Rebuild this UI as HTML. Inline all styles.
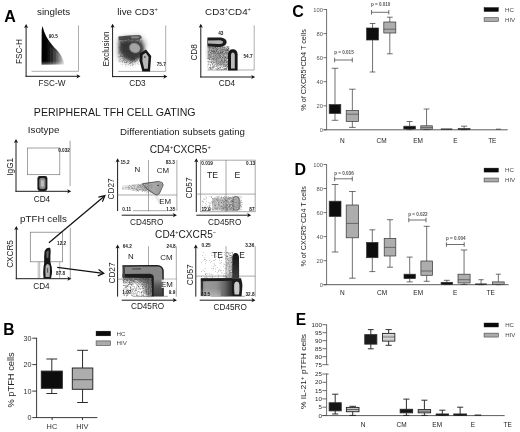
<!DOCTYPE html>
<html><head><meta charset="utf-8"><title>Figure</title>
<style>
html,body{margin:0;padding:0;background:#fff;}
body{width:520px;height:432px;overflow:hidden;font-family:"Liberation Sans",sans-serif;}
svg{display:block;font-family:"Liberation Sans",sans-serif;will-change:transform;opacity:0.999;}
</style></head><body>
<svg width="520" height="432" viewBox="0 0 520 432">
<defs>
<filter id="b05" x="-30%" y="-30%" width="160%" height="160%"><feGaussianBlur stdDeviation="0.45"/></filter>
<filter id="b1" x="-30%" y="-30%" width="160%" height="160%"><feGaussianBlur stdDeviation="0.7"/></filter>
<filter id="b2" x="-30%" y="-30%" width="160%" height="160%"><feGaussianBlur stdDeviation="1.4"/></filter>
<filter id="b3" x="-30%" y="-30%" width="160%" height="160%"><feGaussianBlur stdDeviation="2.4"/></filter>
<filter id="noise" x="0" y="0" width="100%" height="100%">
<feTurbulence type="fractalNoise" baseFrequency="1.7" numOctaves="1" seed="3" result="n"/>
<feColorMatrix in="n" type="matrix" values="0 0 0 0 0  0 0 0 0 0  0 0 0 0 0  0 0 0 -4 2.2"/>
<feComposite in2="SourceGraphic" operator="in" result="c"/><feGaussianBlur in="c" stdDeviation="0.25"/>
</filter>
<filter id="noise3" x="0" y="0" width="100%" height="100%">
<feTurbulence type="fractalNoise" baseFrequency="1.8" numOctaves="1" seed="7" result="n"/>
<feColorMatrix in="n" type="matrix" values="0 0 0 0 0  0 0 0 0 0  0 0 0 0 0  0 0 0 -5 2.25"/>
<feComposite in2="SourceGraphic" operator="in" result="c"/><feGaussianBlur in="c" stdDeviation="0.2"/>
</filter>
<filter id="noise2" x="0" y="0" width="100%" height="100%">
<feTurbulence type="fractalNoise" baseFrequency="1.9" numOctaves="1" seed="11" result="n"/>
<feColorMatrix in="n" type="matrix" values="0 0 0 0 0  0 0 0 0 0  0 0 0 0 0  0 0 0 -4 2.5"/>
<feComposite in2="SourceGraphic" operator="in" result="c"/><feGaussianBlur in="c" stdDeviation="0.25"/>
</filter>
<linearGradient id="bandg" gradientUnits="userSpaceOnUse" x1="122" y1="0" x2="160" y2="0"><stop offset="0" stop-color="#999" stop-opacity="0.2"/><stop offset="0.5" stop-color="#888" stop-opacity="0.45"/><stop offset="1" stop-color="#666" stop-opacity="0.7"/></linearGradient>
<linearGradient id="bg6" gradientUnits="userSpaceOnUse" x1="200.8" y1="0" x2="242" y2="0"><stop offset="0" stop-color="#7e7e7e"/><stop offset="0.12" stop-color="#9a9a9a"/><stop offset="0.38" stop-color="#909090"/><stop offset="0.58" stop-color="#666"/><stop offset="0.74" stop-color="#333"/><stop offset="1" stop-color="#1c1c1c"/></linearGradient>
<linearGradient id="bg6b" x1="0" y1="0" x2="0" y2="1"><stop offset="0" stop-color="#fff" stop-opacity="0"/><stop offset="1" stop-color="#fff" stop-opacity="0.3"/></linearGradient>
<linearGradient id="vg6" x1="0" y1="0" x2="0" y2="1"><stop offset="0" stop-color="#151515"/><stop offset="0.4" stop-color="#242424"/><stop offset="1" stop-color="#3c3c3c"/></linearGradient>
<linearGradient id="vg5" x1="0" y1="0" x2="0" y2="1"><stop offset="0" stop-color="#333" stop-opacity="0"/><stop offset="0.45" stop-color="#333" stop-opacity="0.6"/><stop offset="1" stop-color="#2a2a2a" stop-opacity="0.8"/></linearGradient>
<radialGradient id="mg1" gradientUnits="userSpaceOnUse" cx="131" cy="48" r="24"><stop offset="0" stop-color="#fff"/><stop offset="0.5" stop-color="#ccc"/><stop offset="1" stop-color="#1a1a1a"/></radialGradient>
<linearGradient id="mg2" x1="0.8" y1="0" x2="0.2" y2="1"><stop offset="0" stop-color="#fff"/><stop offset="0.5" stop-color="#ccc"/><stop offset="1" stop-color="#666"/></linearGradient>
<linearGradient id="mg3" x1="1" y1="0" x2="0" y2="0"><stop offset="0" stop-color="#fff"/><stop offset="0.5" stop-color="#999"/><stop offset="1" stop-color="#444"/></linearGradient>
<linearGradient id="mg4" x1="1" y1="0" x2="0" y2="0"><stop offset="0" stop-color="#ddd"/><stop offset="0.35" stop-color="#fff"/><stop offset="1" stop-color="#333"/></linearGradient>
<linearGradient id="mg5" x1="0.7" y1="0" x2="0.3" y2="1"><stop offset="0" stop-color="#fff"/><stop offset="0.6" stop-color="#ccc"/><stop offset="1" stop-color="#8a8a8a"/></linearGradient>
<linearGradient id="mg6" x1="1" y1="1" x2="0" y2="0"><stop offset="0" stop-color="#fff"/><stop offset="0.4" stop-color="#888"/><stop offset="1" stop-color="#222"/></linearGradient>
<linearGradient id="sg" gradientUnits="userSpaceOnUse" x1="41.5" y1="0" x2="65" y2="0">
<stop offset="0" stop-color="#000" stop-opacity="1"/>
<stop offset="0.4" stop-color="#0a0a0a" stop-opacity="0.97"/>
<stop offset="0.6" stop-color="#222" stop-opacity="0.85"/>
<stop offset="0.8" stop-color="#444" stop-opacity="0.6"/>
<stop offset="1" stop-color="#777" stop-opacity="0.15"/>
</linearGradient>
<linearGradient id="sgb" x1="0" y1="0" x2="0" y2="1"><stop offset="0" stop-color="#fff" stop-opacity="0"/><stop offset="1" stop-color="#fff" stop-opacity="0.45"/></linearGradient>
</defs>
<rect width="520" height="432" fill="#fff"/>

<text x="4.2" y="22.2" font-size="16" text-anchor="start" font-weight="bold" fill="#000">A</text>
<text x="53.6" y="15.3" font-size="9.8" text-anchor="middle" font-weight="normal" fill="#1a1a1a">singlets</text>
<line x1="26.1" y1="26.0" x2="26.1" y2="76.8" stroke="#1c1c1c" stroke-width="1.0"/>
<line x1="25.6" y1="76.3" x2="78.4" y2="76.3" stroke="#1c1c1c" stroke-width="1.0"/>
<path d="M26.1 23.9 L28.200000000000003 27.9 L26.1 26.9 L24.0 27.9 Z" fill="#111"/>
<path d="M80.5 76.3 L76.5 74.2 L77.5 76.3 L76.5 78.39999999999999 Z" fill="#111"/>
<line x1="78.5" y1="25.4" x2="78.5" y2="71.3" stroke="#777" stroke-width="0.6"/>
<line x1="31.5" y1="71.3" x2="78.5" y2="71.3" stroke="#777" stroke-width="0.6"/>
<text x="21.94" y="51.5" font-size="8.2" text-anchor="middle" font-weight="normal" fill="#1a1a1a" transform="rotate(-90 21.94 51.5)">FSC-H</text>
<text x="52" y="85.94" font-size="8.2" text-anchor="middle" font-weight="normal" fill="#1a1a1a">FSC-W</text>
<g filter="url(#b05)">
<path d="M42.5 26 C44 33 47.5 40 53 46 C58 51 63 56 64.5 64.5 L41.5 64.8 L41.7 30 Z" fill="url(#sg)"/>
</g>
<g opacity="0.35" stroke="#fff" stroke-width="0.3"><path d="M50.5 47V65M52 48V65M53.5 49.5V65M55 51V65M56.5 52.5V65M58 54V65M59.5 55.5V65M61 57V65M62.5 59V65"/></g>
<rect x="41" y="61" width="24" height="4.2" fill="url(#sgb)"/>
<text x="53.2" y="38.35" font-size="4.7" text-anchor="middle" font-weight="bold" fill="#1c1c1c">90.5</text>
<text x="137.5" y="15.3" font-size="9.8" text-anchor="middle" font-weight="normal" fill="#1a1a1a">live CD3<tspan dy="-4.4" font-size="5.6">+</tspan></text>
<line x1="112.6" y1="25.8" x2="112.6" y2="77.1" stroke="#1c1c1c" stroke-width="1.0"/>
<line x1="112.1" y1="76.6" x2="165.3" y2="76.6" stroke="#1c1c1c" stroke-width="1.0"/>
<path d="M112.6 23.7 L114.69999999999999 27.7 L112.6 26.7 L110.5 27.7 Z" fill="#111"/>
<path d="M167.4 76.6 L163.4 74.5 L164.4 76.6 L163.4 78.69999999999999 Z" fill="#111"/>
<line x1="165.7" y1="25.4" x2="165.7" y2="71.4" stroke="#777" stroke-width="0.6"/>
<line x1="118.2" y1="71.4" x2="165.7" y2="71.4" stroke="#777" stroke-width="0.6"/>
<text x="108.54" y="48.9" font-size="8.2" text-anchor="middle" font-weight="normal" fill="#1a1a1a" transform="rotate(-90 108.54 48.9)">Exclusion</text>
<text x="137.5" y="85.94" font-size="8.2" text-anchor="middle" font-weight="normal" fill="#1a1a1a">CD3</text>
<mask id="m1"><path d="M118.3 36 L142 36 L141 52 L140 70 L128 71 L118.3 66 Z" fill="url(#mg1)"/></mask>
<path d="M122.8 36.3h0.5v0.5h-0.5zM124.6 36.2h0.5v0.5h-0.5zM125.3 36.3h0.5v0.5h-0.5zM125.6 36.2h0.5v0.5h-0.5zM127.3 36.0h0.5v0.5h-0.5zM127.9 36.1h0.5v0.5h-0.5zM128.4 36.1h0.5v0.5h-0.5zM129.4 36.3h0.5v0.5h-0.5zM131.3 36.3h0.5v0.5h-0.5zM131.7 36.2h0.5v0.5h-0.5zM135.1 36.3h0.5v0.5h-0.5zM137.2 36.2h0.5v0.5h-0.5zM138.4 36.2h0.5v0.5h-0.5zM119.5 36.8h0.5v0.5h-0.5zM121.9 36.8h0.5v0.5h-0.5zM124.1 36.8h0.5v0.5h-0.5zM125.7 36.8h0.5v0.5h-0.5zM126.3 36.8h0.5v0.5h-0.5zM130.2 36.7h0.5v0.5h-0.5zM130.7 36.7h0.5v0.5h-0.5zM131.2 36.7h0.5v0.5h-0.5zM133.3 36.6h0.5v0.5h-0.5zM136.8 36.8h0.5v0.5h-0.5zM137.1 36.6h0.5v0.5h-0.5zM138.2 36.7h0.5v0.5h-0.5zM139.3 36.7h0.5v0.5h-0.5zM139.9 36.8h0.5v0.5h-0.5zM118.5 37.2h0.5v0.5h-0.5zM119.8 37.3h0.5v0.5h-0.5zM120.2 37.3h0.5v0.5h-0.5zM120.6 37.1h0.5v0.5h-0.5zM121.9 37.3h0.5v0.5h-0.5zM123.1 37.3h0.5v0.5h-0.5zM124.1 37.2h0.5v0.5h-0.5zM125.2 37.1h0.5v0.5h-0.5zM125.8 37.4h0.5v0.5h-0.5zM126.4 37.2h0.5v0.5h-0.5zM128.3 37.4h0.5v0.5h-0.5zM129.1 37.4h0.5v0.5h-0.5zM130.2 37.4h0.5v0.5h-0.5zM131.7 37.2h0.5v0.5h-0.5zM133.3 37.3h0.5v0.5h-0.5zM133.9 37.2h0.5v0.5h-0.5zM135.5 37.2h0.5v0.5h-0.5zM137.9 37.4h0.5v0.5h-0.5zM119.0 37.9h0.5v0.5h-0.5zM123.1 37.8h0.5v0.5h-0.5zM124.6 37.7h0.5v0.5h-0.5zM125.0 37.9h0.5v0.5h-0.5zM126.8 37.9h0.5v0.5h-0.5zM127.4 37.7h0.5v0.5h-0.5zM127.8 37.9h0.5v0.5h-0.5zM130.2 37.9h0.5v0.5h-0.5zM130.7 37.7h0.5v0.5h-0.5zM131.3 37.7h0.5v0.5h-0.5zM131.9 37.8h0.5v0.5h-0.5zM132.2 37.7h0.5v0.5h-0.5zM133.5 37.8h0.5v0.5h-0.5zM135.0 37.8h0.5v0.5h-0.5zM135.6 37.7h0.5v0.5h-0.5zM136.3 37.7h0.5v0.5h-0.5zM138.5 37.9h0.5v0.5h-0.5zM139.4 37.8h0.5v0.5h-0.5zM120.7 38.5h0.5v0.5h-0.5zM124.0 38.3h0.5v0.5h-0.5zM125.7 38.4h0.5v0.5h-0.5zM127.2 38.3h0.5v0.5h-0.5zM127.9 38.2h0.5v0.5h-0.5zM128.5 38.3h0.5v0.5h-0.5zM130.7 38.4h0.5v0.5h-0.5zM131.3 38.3h0.5v0.5h-0.5zM133.3 38.4h0.5v0.5h-0.5zM134.6 38.2h0.5v0.5h-0.5zM135.5 38.5h0.5v0.5h-0.5zM138.9 38.2h0.5v0.5h-0.5zM141.2 38.4h0.5v0.5h-0.5zM121.2 38.9h0.5v0.5h-0.5zM122.9 38.8h0.5v0.5h-0.5zM123.4 39.0h0.5v0.5h-0.5zM124.6 38.8h0.5v0.5h-0.5zM125.2 38.9h0.5v0.5h-0.5zM126.3 39.0h0.5v0.5h-0.5zM126.8 38.9h0.5v0.5h-0.5zM127.3 38.9h0.5v0.5h-0.5zM129.0 38.8h0.5v0.5h-0.5zM129.6 39.0h0.5v0.5h-0.5zM130.2 39.0h0.5v0.5h-0.5zM130.7 39.0h0.5v0.5h-0.5zM131.3 39.0h0.5v0.5h-0.5zM134.4 38.8h0.5v0.5h-0.5zM136.2 39.0h0.5v0.5h-0.5zM136.7 38.8h0.5v0.5h-0.5zM137.9 39.0h0.5v0.5h-0.5zM139.0 39.0h0.5v0.5h-0.5zM139.5 39.0h0.5v0.5h-0.5zM120.7 39.3h0.5v0.5h-0.5zM122.4 39.4h0.5v0.5h-0.5zM122.9 39.4h0.5v0.5h-0.5zM124.0 39.4h0.5v0.5h-0.5zM124.6 39.5h0.5v0.5h-0.5zM125.6 39.5h0.5v0.5h-0.5zM126.3 39.4h0.5v0.5h-0.5zM129.7 39.5h0.5v0.5h-0.5zM130.6 39.3h0.5v0.5h-0.5zM131.8 39.5h0.5v0.5h-0.5zM134.0 39.5h0.5v0.5h-0.5zM134.5 39.4h0.5v0.5h-0.5zM135.6 39.4h0.5v0.5h-0.5zM136.1 39.5h0.5v0.5h-0.5zM138.8 39.4h0.5v0.5h-0.5zM121.2 40.0h0.5v0.5h-0.5zM122.3 40.0h0.5v0.5h-0.5zM123.6 40.0h0.5v0.5h-0.5zM128.5 40.0h0.5v0.5h-0.5zM132.2 40.1h0.5v0.5h-0.5zM134.0 40.0h0.5v0.5h-0.5zM134.4 40.0h0.5v0.5h-0.5zM135.6 40.0h0.5v0.5h-0.5zM136.2 40.1h0.5v0.5h-0.5zM138.8 40.1h0.5v0.5h-0.5zM139.3 40.1h0.5v0.5h-0.5zM118.6 40.6h0.5v0.5h-0.5zM119.7 40.5h0.5v0.5h-0.5zM120.8 40.7h0.5v0.5h-0.5zM121.2 40.7h0.5v0.5h-0.5zM123.1 40.6h0.5v0.5h-0.5zM123.5 40.6h0.5v0.5h-0.5zM124.6 40.4h0.5v0.5h-0.5zM125.8 40.6h0.5v0.5h-0.5zM126.8 40.4h0.5v0.5h-0.5zM127.4 40.5h0.5v0.5h-0.5zM128.5 40.6h0.5v0.5h-0.5zM128.9 40.5h0.5v0.5h-0.5zM129.4 40.5h0.5v0.5h-0.5zM130.1 40.7h0.5v0.5h-0.5zM130.5 40.6h0.5v0.5h-0.5zM133.0 40.4h0.5v0.5h-0.5zM133.9 40.5h0.5v0.5h-0.5zM134.4 40.5h0.5v0.5h-0.5zM135.6 40.5h0.5v0.5h-0.5zM136.7 40.7h0.5v0.5h-0.5zM137.9 40.7h0.5v0.5h-0.5zM138.3 40.6h0.5v0.5h-0.5zM141.2 40.4h0.5v0.5h-0.5zM141.7 40.4h0.5v0.5h-0.5zM119.1 41.2h0.5v0.5h-0.5zM120.1 41.2h0.5v0.5h-0.5zM120.7 41.0h0.5v0.5h-0.5zM121.2 41.1h0.5v0.5h-0.5zM124.1 41.2h0.5v0.5h-0.5zM125.0 41.2h0.5v0.5h-0.5zM126.3 41.1h0.5v0.5h-0.5zM126.7 41.1h0.5v0.5h-0.5zM127.3 41.2h0.5v0.5h-0.5zM127.9 41.2h0.5v0.5h-0.5zM130.2 41.0h0.5v0.5h-0.5zM132.2 41.2h0.5v0.5h-0.5zM132.8 41.2h0.5v0.5h-0.5zM133.4 41.1h0.5v0.5h-0.5zM133.9 41.2h0.5v0.5h-0.5zM135.1 41.0h0.5v0.5h-0.5zM136.0 41.1h0.5v0.5h-0.5zM137.1 41.2h0.5v0.5h-0.5zM138.9 41.0h0.5v0.5h-0.5zM119.1 41.6h0.5v0.5h-0.5zM123.4 41.6h0.5v0.5h-0.5zM124.6 41.7h0.5v0.5h-0.5zM125.2 41.7h0.5v0.5h-0.5zM125.6 41.6h0.5v0.5h-0.5zM126.3 41.7h0.5v0.5h-0.5zM126.7 41.8h0.5v0.5h-0.5zM127.3 41.5h0.5v0.5h-0.5zM128.6 41.8h0.5v0.5h-0.5zM131.8 41.7h0.5v0.5h-0.5zM134.6 41.7h0.5v0.5h-0.5zM135.0 41.8h0.5v0.5h-0.5zM136.0 41.7h0.5v0.5h-0.5zM137.8 41.7h0.5v0.5h-0.5zM138.2 41.7h0.5v0.5h-0.5zM138.8 41.6h0.5v0.5h-0.5zM140.4 41.8h0.5v0.5h-0.5zM141.8 41.5h0.5v0.5h-0.5zM120.3 42.2h0.5v0.5h-0.5zM126.2 42.3h0.5v0.5h-0.5zM127.3 42.2h0.5v0.5h-0.5zM128.9 42.3h0.5v0.5h-0.5zM129.5 42.1h0.5v0.5h-0.5zM130.5 42.1h0.5v0.5h-0.5zM132.9 42.2h0.5v0.5h-0.5zM133.4 42.3h0.5v0.5h-0.5zM134.5 42.1h0.5v0.5h-0.5zM135.1 42.2h0.5v0.5h-0.5zM136.7 42.3h0.5v0.5h-0.5zM138.3 42.3h0.5v0.5h-0.5zM121.3 42.6h0.5v0.5h-0.5zM121.8 42.6h0.5v0.5h-0.5zM122.3 42.9h0.5v0.5h-0.5zM123.6 42.7h0.5v0.5h-0.5zM125.8 42.7h0.5v0.5h-0.5zM126.9 42.8h0.5v0.5h-0.5zM127.2 42.9h0.5v0.5h-0.5zM127.8 42.7h0.5v0.5h-0.5zM128.6 42.7h0.5v0.5h-0.5zM130.1 42.9h0.5v0.5h-0.5zM130.7 42.7h0.5v0.5h-0.5zM132.3 42.7h0.5v0.5h-0.5zM133.3 42.7h0.5v0.5h-0.5zM134.0 42.9h0.5v0.5h-0.5zM135.6 42.8h0.5v0.5h-0.5zM136.2 42.9h0.5v0.5h-0.5zM136.8 42.6h0.5v0.5h-0.5zM137.4 42.7h0.5v0.5h-0.5zM140.0 42.9h0.5v0.5h-0.5zM141.2 42.7h0.5v0.5h-0.5zM118.7 43.3h0.5v0.5h-0.5zM120.2 43.3h0.5v0.5h-0.5zM121.8 43.4h0.5v0.5h-0.5zM122.3 43.2h0.5v0.5h-0.5zM124.6 43.2h0.5v0.5h-0.5zM125.1 43.4h0.5v0.5h-0.5zM125.6 43.3h0.5v0.5h-0.5zM126.2 43.3h0.5v0.5h-0.5zM126.9 43.4h0.5v0.5h-0.5zM127.2 43.2h0.5v0.5h-0.5zM128.5 43.4h0.5v0.5h-0.5zM129.0 43.2h0.5v0.5h-0.5zM129.4 43.2h0.5v0.5h-0.5zM130.1 43.4h0.5v0.5h-0.5zM130.7 43.2h0.5v0.5h-0.5zM131.2 43.4h0.5v0.5h-0.5zM131.6 43.2h0.5v0.5h-0.5zM132.3 43.2h0.5v0.5h-0.5zM132.9 43.4h0.5v0.5h-0.5zM133.4 43.3h0.5v0.5h-0.5zM133.9 43.2h0.5v0.5h-0.5zM134.6 43.4h0.5v0.5h-0.5zM134.9 43.4h0.5v0.5h-0.5zM135.5 43.2h0.5v0.5h-0.5zM136.0 43.2h0.5v0.5h-0.5zM136.8 43.3h0.5v0.5h-0.5zM137.3 43.2h0.5v0.5h-0.5zM138.5 43.3h0.5v0.5h-0.5zM121.4 43.9h0.5v0.5h-0.5zM122.4 43.8h0.5v0.5h-0.5zM122.9 43.9h0.5v0.5h-0.5zM123.4 43.9h0.5v0.5h-0.5zM124.0 43.7h0.5v0.5h-0.5zM124.6 43.9h0.5v0.5h-0.5zM125.3 43.9h0.5v0.5h-0.5zM126.2 43.9h0.5v0.5h-0.5zM126.9 43.7h0.5v0.5h-0.5zM128.0 44.0h0.5v0.5h-0.5zM128.6 43.7h0.5v0.5h-0.5zM129.5 43.7h0.5v0.5h-0.5zM130.0 43.9h0.5v0.5h-0.5zM131.1 44.0h0.5v0.5h-0.5zM132.3 43.9h0.5v0.5h-0.5zM133.5 43.9h0.5v0.5h-0.5zM134.1 43.8h0.5v0.5h-0.5zM135.0 43.7h0.5v0.5h-0.5zM136.0 43.7h0.5v0.5h-0.5zM136.7 43.8h0.5v0.5h-0.5zM137.4 44.0h0.5v0.5h-0.5zM139.5 43.8h0.5v0.5h-0.5zM141.2 44.0h0.5v0.5h-0.5zM121.3 44.4h0.5v0.5h-0.5zM121.9 44.4h0.5v0.5h-0.5zM124.1 44.5h0.5v0.5h-0.5zM124.6 44.4h0.5v0.5h-0.5zM125.2 44.5h0.5v0.5h-0.5zM125.8 44.4h0.5v0.5h-0.5zM126.9 44.3h0.5v0.5h-0.5zM127.5 44.4h0.5v0.5h-0.5zM128.4 44.4h0.5v0.5h-0.5zM129.5 44.4h0.5v0.5h-0.5zM130.1 44.5h0.5v0.5h-0.5zM131.2 44.3h0.5v0.5h-0.5zM131.6 44.3h0.5v0.5h-0.5zM132.9 44.3h0.5v0.5h-0.5zM133.5 44.5h0.5v0.5h-0.5zM134.5 44.4h0.5v0.5h-0.5zM136.1 44.3h0.5v0.5h-0.5zM138.8 44.5h0.5v0.5h-0.5zM140.6 44.4h0.5v0.5h-0.5zM121.9 44.8h0.5v0.5h-0.5zM123.0 45.0h0.5v0.5h-0.5zM123.6 44.9h0.5v0.5h-0.5zM124.2 44.9h0.5v0.5h-0.5zM124.6 45.0h0.5v0.5h-0.5zM126.3 44.9h0.5v0.5h-0.5zM126.8 44.9h0.5v0.5h-0.5zM127.3 44.9h0.5v0.5h-0.5zM128.3 45.0h0.5v0.5h-0.5zM130.2 44.9h0.5v0.5h-0.5zM130.6 44.9h0.5v0.5h-0.5zM131.2 44.8h0.5v0.5h-0.5zM131.7 44.9h0.5v0.5h-0.5zM132.8 44.9h0.5v0.5h-0.5zM134.0 44.9h0.5v0.5h-0.5zM134.5 44.8h0.5v0.5h-0.5zM135.7 44.9h0.5v0.5h-0.5zM137.3 44.8h0.5v0.5h-0.5zM137.8 44.9h0.5v0.5h-0.5zM139.6 44.9h0.5v0.5h-0.5zM141.7 44.9h0.5v0.5h-0.5zM119.2 45.5h0.5v0.5h-0.5zM120.6 45.6h0.5v0.5h-0.5zM121.4 45.6h0.5v0.5h-0.5zM122.5 45.5h0.5v0.5h-0.5zM122.9 45.5h0.5v0.5h-0.5zM123.6 45.6h0.5v0.5h-0.5zM124.7 45.4h0.5v0.5h-0.5zM125.6 45.4h0.5v0.5h-0.5zM126.3 45.5h0.5v0.5h-0.5zM126.8 45.4h0.5v0.5h-0.5zM127.4 45.6h0.5v0.5h-0.5zM128.0 45.6h0.5v0.5h-0.5zM128.9 45.4h0.5v0.5h-0.5zM130.1 45.5h0.5v0.5h-0.5zM130.6 45.6h0.5v0.5h-0.5zM131.3 45.6h0.5v0.5h-0.5zM131.8 45.4h0.5v0.5h-0.5zM132.3 45.6h0.5v0.5h-0.5zM132.8 45.5h0.5v0.5h-0.5zM133.3 45.5h0.5v0.5h-0.5zM135.7 45.5h0.5v0.5h-0.5zM136.6 45.6h0.5v0.5h-0.5zM137.1 45.5h0.5v0.5h-0.5zM139.0 45.6h0.5v0.5h-0.5zM121.7 46.1h0.5v0.5h-0.5zM123.1 46.1h0.5v0.5h-0.5zM124.2 46.1h0.5v0.5h-0.5zM124.5 46.1h0.5v0.5h-0.5zM125.3 46.0h0.5v0.5h-0.5zM125.7 46.1h0.5v0.5h-0.5zM126.2 46.1h0.5v0.5h-0.5zM127.4 46.1h0.5v0.5h-0.5zM127.8 46.0h0.5v0.5h-0.5zM128.6 45.9h0.5v0.5h-0.5zM128.9 46.1h0.5v0.5h-0.5zM131.1 45.9h0.5v0.5h-0.5zM131.8 46.0h0.5v0.5h-0.5zM132.9 46.1h0.5v0.5h-0.5zM133.3 46.2h0.5v0.5h-0.5zM133.8 46.0h0.5v0.5h-0.5zM135.0 46.0h0.5v0.5h-0.5zM135.7 46.0h0.5v0.5h-0.5zM137.7 46.2h0.5v0.5h-0.5zM138.9 46.0h0.5v0.5h-0.5zM139.9 46.1h0.5v0.5h-0.5zM141.1 46.1h0.5v0.5h-0.5zM119.5 46.5h0.5v0.5h-0.5zM120.7 46.5h0.5v0.5h-0.5zM121.4 46.6h0.5v0.5h-0.5zM123.1 46.5h0.5v0.5h-0.5zM124.0 46.6h0.5v0.5h-0.5zM124.7 46.5h0.5v0.5h-0.5zM125.7 46.5h0.5v0.5h-0.5zM126.2 46.6h0.5v0.5h-0.5zM126.8 46.5h0.5v0.5h-0.5zM127.4 46.5h0.5v0.5h-0.5zM128.4 46.5h0.5v0.5h-0.5zM128.9 46.6h0.5v0.5h-0.5zM129.7 46.6h0.5v0.5h-0.5zM130.1 46.5h0.5v0.5h-0.5zM130.7 46.7h0.5v0.5h-0.5zM132.3 46.6h0.5v0.5h-0.5zM132.9 46.6h0.5v0.5h-0.5zM133.9 46.7h0.5v0.5h-0.5zM135.1 46.7h0.5v0.5h-0.5zM136.1 46.6h0.5v0.5h-0.5zM136.7 46.7h0.5v0.5h-0.5zM137.2 46.7h0.5v0.5h-0.5zM139.4 46.6h0.5v0.5h-0.5zM140.1 46.5h0.5v0.5h-0.5zM119.0 47.1h0.5v0.5h-0.5zM121.2 47.0h0.5v0.5h-0.5zM123.0 47.3h0.5v0.5h-0.5zM124.2 47.2h0.5v0.5h-0.5zM124.7 47.2h0.5v0.5h-0.5zM125.1 47.1h0.5v0.5h-0.5zM125.7 47.1h0.5v0.5h-0.5zM126.7 47.3h0.5v0.5h-0.5zM127.4 47.2h0.5v0.5h-0.5zM127.9 47.1h0.5v0.5h-0.5zM128.6 47.2h0.5v0.5h-0.5zM129.6 47.1h0.5v0.5h-0.5zM130.2 47.0h0.5v0.5h-0.5zM130.7 47.3h0.5v0.5h-0.5zM131.1 47.2h0.5v0.5h-0.5zM131.7 47.2h0.5v0.5h-0.5zM132.2 47.1h0.5v0.5h-0.5zM132.8 47.2h0.5v0.5h-0.5zM135.6 47.1h0.5v0.5h-0.5zM136.2 47.2h0.5v0.5h-0.5zM136.8 47.3h0.5v0.5h-0.5zM137.1 47.0h0.5v0.5h-0.5zM138.8 47.2h0.5v0.5h-0.5zM139.3 47.0h0.5v0.5h-0.5zM139.9 47.1h0.5v0.5h-0.5zM118.5 47.6h0.5v0.5h-0.5zM119.7 47.7h0.5v0.5h-0.5zM120.2 47.6h0.5v0.5h-0.5zM120.8 47.8h0.5v0.5h-0.5zM121.2 47.8h0.5v0.5h-0.5zM121.9 47.8h0.5v0.5h-0.5zM122.5 47.6h0.5v0.5h-0.5zM122.9 47.7h0.5v0.5h-0.5zM124.1 47.7h0.5v0.5h-0.5zM124.5 47.8h0.5v0.5h-0.5zM125.3 47.8h0.5v0.5h-0.5zM125.6 47.6h0.5v0.5h-0.5zM126.2 47.6h0.5v0.5h-0.5zM126.7 47.7h0.5v0.5h-0.5zM127.5 47.7h0.5v0.5h-0.5zM128.0 47.7h0.5v0.5h-0.5zM128.4 47.8h0.5v0.5h-0.5zM130.0 47.6h0.5v0.5h-0.5zM131.9 47.8h0.5v0.5h-0.5zM132.8 47.7h0.5v0.5h-0.5zM133.4 47.6h0.5v0.5h-0.5zM133.9 47.7h0.5v0.5h-0.5zM135.6 47.7h0.5v0.5h-0.5zM136.0 47.7h0.5v0.5h-0.5zM136.7 47.6h0.5v0.5h-0.5zM137.8 47.7h0.5v0.5h-0.5zM140.5 47.7h0.5v0.5h-0.5zM119.6 48.4h0.5v0.5h-0.5zM123.4 48.4h0.5v0.5h-0.5zM124.0 48.3h0.5v0.5h-0.5zM125.1 48.4h0.5v0.5h-0.5zM125.7 48.2h0.5v0.5h-0.5zM126.4 48.3h0.5v0.5h-0.5zM126.7 48.1h0.5v0.5h-0.5zM127.5 48.1h0.5v0.5h-0.5zM127.8 48.3h0.5v0.5h-0.5zM129.1 48.3h0.5v0.5h-0.5zM129.7 48.3h0.5v0.5h-0.5zM130.1 48.2h0.5v0.5h-0.5zM130.5 48.2h0.5v0.5h-0.5zM131.7 48.1h0.5v0.5h-0.5zM132.2 48.2h0.5v0.5h-0.5zM132.9 48.4h0.5v0.5h-0.5zM133.4 48.2h0.5v0.5h-0.5zM134.0 48.4h0.5v0.5h-0.5zM135.5 48.2h0.5v0.5h-0.5zM136.0 48.2h0.5v0.5h-0.5zM137.1 48.2h0.5v0.5h-0.5zM119.5 48.8h0.5v0.5h-0.5zM120.7 48.7h0.5v0.5h-0.5zM121.4 48.7h0.5v0.5h-0.5zM121.8 48.9h0.5v0.5h-0.5zM122.4 48.7h0.5v0.5h-0.5zM123.1 48.7h0.5v0.5h-0.5zM123.5 48.8h0.5v0.5h-0.5zM125.7 48.8h0.5v0.5h-0.5zM126.3 48.9h0.5v0.5h-0.5zM126.8 48.9h0.5v0.5h-0.5zM128.0 48.7h0.5v0.5h-0.5zM128.3 48.8h0.5v0.5h-0.5zM129.1 48.9h0.5v0.5h-0.5zM130.1 48.7h0.5v0.5h-0.5zM130.7 48.9h0.5v0.5h-0.5zM131.2 48.7h0.5v0.5h-0.5zM131.8 48.8h0.5v0.5h-0.5zM132.3 48.7h0.5v0.5h-0.5zM132.9 48.8h0.5v0.5h-0.5zM133.4 48.9h0.5v0.5h-0.5zM134.6 48.7h0.5v0.5h-0.5zM134.9 48.7h0.5v0.5h-0.5zM136.2 48.8h0.5v0.5h-0.5zM137.7 48.9h0.5v0.5h-0.5zM138.3 48.9h0.5v0.5h-0.5zM139.5 48.8h0.5v0.5h-0.5zM118.6 49.5h0.5v0.5h-0.5zM120.1 49.2h0.5v0.5h-0.5zM121.3 49.4h0.5v0.5h-0.5zM123.0 49.3h0.5v0.5h-0.5zM124.1 49.2h0.5v0.5h-0.5zM124.6 49.3h0.5v0.5h-0.5zM125.3 49.2h0.5v0.5h-0.5zM125.8 49.3h0.5v0.5h-0.5zM126.4 49.4h0.5v0.5h-0.5zM126.8 49.3h0.5v0.5h-0.5zM128.0 49.2h0.5v0.5h-0.5zM129.1 49.3h0.5v0.5h-0.5zM130.0 49.3h0.5v0.5h-0.5zM131.2 49.2h0.5v0.5h-0.5zM131.7 49.5h0.5v0.5h-0.5zM132.7 49.2h0.5v0.5h-0.5zM133.9 49.4h0.5v0.5h-0.5zM134.5 49.5h0.5v0.5h-0.5zM134.9 49.2h0.5v0.5h-0.5zM135.6 49.3h0.5v0.5h-0.5zM136.0 49.3h0.5v0.5h-0.5zM136.8 49.3h0.5v0.5h-0.5zM137.9 49.3h0.5v0.5h-0.5zM121.9 49.9h0.5v0.5h-0.5zM123.0 49.8h0.5v0.5h-0.5zM123.4 49.9h0.5v0.5h-0.5zM124.1 50.0h0.5v0.5h-0.5zM125.3 49.9h0.5v0.5h-0.5zM125.7 49.9h0.5v0.5h-0.5zM126.3 50.0h0.5v0.5h-0.5zM126.7 49.9h0.5v0.5h-0.5zM127.8 49.9h0.5v0.5h-0.5zM129.6 50.0h0.5v0.5h-0.5zM130.0 49.9h0.5v0.5h-0.5zM130.7 49.8h0.5v0.5h-0.5zM131.3 49.8h0.5v0.5h-0.5zM131.6 49.9h0.5v0.5h-0.5zM133.9 49.9h0.5v0.5h-0.5zM136.6 50.0h0.5v0.5h-0.5zM137.4 49.8h0.5v0.5h-0.5zM138.2 49.9h0.5v0.5h-0.5zM139.9 49.9h0.5v0.5h-0.5zM140.5 49.9h0.5v0.5h-0.5zM119.7 50.5h0.5v0.5h-0.5zM120.2 50.3h0.5v0.5h-0.5zM121.2 50.4h0.5v0.5h-0.5zM123.6 50.3h0.5v0.5h-0.5zM124.7 50.4h0.5v0.5h-0.5zM126.8 50.3h0.5v0.5h-0.5zM128.5 50.5h0.5v0.5h-0.5zM129.0 50.4h0.5v0.5h-0.5zM130.1 50.5h0.5v0.5h-0.5zM130.5 50.4h0.5v0.5h-0.5zM131.3 50.4h0.5v0.5h-0.5zM131.8 50.3h0.5v0.5h-0.5zM133.4 50.5h0.5v0.5h-0.5zM134.1 50.5h0.5v0.5h-0.5zM136.7 50.5h0.5v0.5h-0.5zM138.5 50.4h0.5v0.5h-0.5zM139.9 50.3h0.5v0.5h-0.5zM140.5 50.3h0.5v0.5h-0.5zM118.6 51.1h0.5v0.5h-0.5zM120.8 51.1h0.5v0.5h-0.5zM123.1 51.0h0.5v0.5h-0.5zM123.6 51.0h0.5v0.5h-0.5zM124.1 51.1h0.5v0.5h-0.5zM124.5 50.9h0.5v0.5h-0.5zM125.7 50.9h0.5v0.5h-0.5zM126.4 50.9h0.5v0.5h-0.5zM126.8 51.0h0.5v0.5h-0.5zM127.3 50.9h0.5v0.5h-0.5zM127.8 51.0h0.5v0.5h-0.5zM128.4 51.1h0.5v0.5h-0.5zM129.1 51.0h0.5v0.5h-0.5zM129.5 50.9h0.5v0.5h-0.5zM130.7 50.9h0.5v0.5h-0.5zM131.2 51.1h0.5v0.5h-0.5zM131.7 51.1h0.5v0.5h-0.5zM132.3 51.0h0.5v0.5h-0.5zM132.7 50.9h0.5v0.5h-0.5zM135.2 51.1h0.5v0.5h-0.5zM135.5 50.9h0.5v0.5h-0.5zM137.9 51.1h0.5v0.5h-0.5zM139.0 51.0h0.5v0.5h-0.5zM140.5 50.9h0.5v0.5h-0.5zM118.7 51.6h0.5v0.5h-0.5zM119.7 51.6h0.5v0.5h-0.5zM124.5 51.4h0.5v0.5h-0.5zM125.2 51.5h0.5v0.5h-0.5zM126.1 51.7h0.5v0.5h-0.5zM126.8 51.6h0.5v0.5h-0.5zM127.3 51.4h0.5v0.5h-0.5zM127.8 51.7h0.5v0.5h-0.5zM128.6 51.4h0.5v0.5h-0.5zM128.9 51.5h0.5v0.5h-0.5zM129.6 51.5h0.5v0.5h-0.5zM130.7 51.6h0.5v0.5h-0.5zM131.3 51.5h0.5v0.5h-0.5zM131.9 51.7h0.5v0.5h-0.5zM133.0 51.5h0.5v0.5h-0.5zM133.9 51.5h0.5v0.5h-0.5zM135.5 51.6h0.5v0.5h-0.5zM137.2 51.6h0.5v0.5h-0.5zM118.6 52.1h0.5v0.5h-0.5zM119.8 52.1h0.5v0.5h-0.5zM122.3 52.1h0.5v0.5h-0.5zM122.9 52.1h0.5v0.5h-0.5zM124.6 52.1h0.5v0.5h-0.5zM126.7 52.0h0.5v0.5h-0.5zM128.4 52.1h0.5v0.5h-0.5zM129.1 52.0h0.5v0.5h-0.5zM130.2 52.2h0.5v0.5h-0.5zM131.8 52.2h0.5v0.5h-0.5zM132.9 52.0h0.5v0.5h-0.5zM134.1 52.0h0.5v0.5h-0.5zM135.1 52.2h0.5v0.5h-0.5zM135.7 52.0h0.5v0.5h-0.5zM136.2 52.1h0.5v0.5h-0.5zM136.8 52.2h0.5v0.5h-0.5zM137.3 52.1h0.5v0.5h-0.5zM137.7 52.0h0.5v0.5h-0.5zM138.3 52.1h0.5v0.5h-0.5zM140.6 52.2h0.5v0.5h-0.5zM121.4 52.7h0.5v0.5h-0.5zM121.8 52.5h0.5v0.5h-0.5zM124.0 52.5h0.5v0.5h-0.5zM124.5 52.5h0.5v0.5h-0.5zM127.5 52.6h0.5v0.5h-0.5zM127.8 52.7h0.5v0.5h-0.5zM128.9 52.7h0.5v0.5h-0.5zM129.6 52.6h0.5v0.5h-0.5zM130.0 52.6h0.5v0.5h-0.5zM130.7 52.7h0.5v0.5h-0.5zM131.3 52.6h0.5v0.5h-0.5zM131.7 52.6h0.5v0.5h-0.5zM132.3 52.8h0.5v0.5h-0.5zM132.8 52.6h0.5v0.5h-0.5zM133.3 52.7h0.5v0.5h-0.5zM134.4 52.6h0.5v0.5h-0.5zM135.0 52.8h0.5v0.5h-0.5zM135.5 52.8h0.5v0.5h-0.5zM137.9 52.5h0.5v0.5h-0.5zM138.3 52.8h0.5v0.5h-0.5zM139.3 52.5h0.5v0.5h-0.5zM140.1 52.5h0.5v0.5h-0.5zM118.4 53.1h0.5v0.5h-0.5zM119.1 53.3h0.5v0.5h-0.5zM120.7 53.2h0.5v0.5h-0.5zM122.3 53.1h0.5v0.5h-0.5zM122.9 53.2h0.5v0.5h-0.5zM126.3 53.1h0.5v0.5h-0.5zM126.8 53.1h0.5v0.5h-0.5zM127.3 53.3h0.5v0.5h-0.5zM129.0 53.1h0.5v0.5h-0.5zM129.6 53.1h0.5v0.5h-0.5zM130.1 53.1h0.5v0.5h-0.5zM131.8 53.3h0.5v0.5h-0.5zM132.3 53.2h0.5v0.5h-0.5zM132.9 53.2h0.5v0.5h-0.5zM136.1 53.2h0.5v0.5h-0.5zM137.3 53.2h0.5v0.5h-0.5zM119.7 53.8h0.5v0.5h-0.5zM120.7 53.8h0.5v0.5h-0.5zM121.4 53.9h0.5v0.5h-0.5zM125.7 53.8h0.5v0.5h-0.5zM126.7 53.8h0.5v0.5h-0.5zM128.4 53.9h0.5v0.5h-0.5zM128.9 53.6h0.5v0.5h-0.5zM129.6 53.8h0.5v0.5h-0.5zM130.2 53.7h0.5v0.5h-0.5zM130.7 53.8h0.5v0.5h-0.5zM131.3 53.7h0.5v0.5h-0.5zM134.4 53.6h0.5v0.5h-0.5zM135.1 53.8h0.5v0.5h-0.5zM136.3 53.7h0.5v0.5h-0.5zM137.4 53.8h0.5v0.5h-0.5zM137.8 53.7h0.5v0.5h-0.5zM138.9 53.7h0.5v0.5h-0.5zM139.5 53.8h0.5v0.5h-0.5zM140.1 53.7h0.5v0.5h-0.5zM122.9 54.4h0.5v0.5h-0.5zM123.6 54.4h0.5v0.5h-0.5zM124.0 54.4h0.5v0.5h-0.5zM126.4 54.4h0.5v0.5h-0.5zM126.8 54.4h0.5v0.5h-0.5zM128.4 54.3h0.5v0.5h-0.5zM130.0 54.3h0.5v0.5h-0.5zM130.8 54.2h0.5v0.5h-0.5zM132.2 54.4h0.5v0.5h-0.5zM132.7 54.3h0.5v0.5h-0.5zM133.3 54.3h0.5v0.5h-0.5zM134.9 54.3h0.5v0.5h-0.5zM136.2 54.2h0.5v0.5h-0.5zM139.0 54.3h0.5v0.5h-0.5zM120.1 55.0h0.5v0.5h-0.5zM121.3 55.0h0.5v0.5h-0.5zM123.0 55.0h0.5v0.5h-0.5zM123.4 55.0h0.5v0.5h-0.5zM124.1 55.0h0.5v0.5h-0.5zM125.8 54.7h0.5v0.5h-0.5zM126.2 54.9h0.5v0.5h-0.5zM126.7 54.8h0.5v0.5h-0.5zM127.5 54.8h0.5v0.5h-0.5zM128.6 55.0h0.5v0.5h-0.5zM129.6 54.9h0.5v0.5h-0.5zM131.1 54.7h0.5v0.5h-0.5zM131.7 54.9h0.5v0.5h-0.5zM132.3 54.8h0.5v0.5h-0.5zM133.9 54.7h0.5v0.5h-0.5zM134.4 54.9h0.5v0.5h-0.5zM135.1 54.7h0.5v0.5h-0.5zM136.8 55.0h0.5v0.5h-0.5zM120.3 55.4h0.5v0.5h-0.5zM124.2 55.5h0.5v0.5h-0.5zM125.7 55.3h0.5v0.5h-0.5zM129.0 55.5h0.5v0.5h-0.5zM130.7 55.5h0.5v0.5h-0.5zM131.3 55.4h0.5v0.5h-0.5zM131.7 55.4h0.5v0.5h-0.5zM139.5 55.3h0.5v0.5h-0.5zM118.4 56.0h0.5v0.5h-0.5zM119.8 55.9h0.5v0.5h-0.5zM120.6 56.0h0.5v0.5h-0.5zM121.2 56.0h0.5v0.5h-0.5zM121.8 56.0h0.5v0.5h-0.5zM122.5 56.1h0.5v0.5h-0.5zM124.6 56.1h0.5v0.5h-0.5zM125.8 55.9h0.5v0.5h-0.5zM128.0 56.1h0.5v0.5h-0.5zM128.9 56.0h0.5v0.5h-0.5zM129.4 56.1h0.5v0.5h-0.5zM130.0 55.9h0.5v0.5h-0.5zM132.2 56.1h0.5v0.5h-0.5zM132.9 56.0h0.5v0.5h-0.5zM135.1 55.8h0.5v0.5h-0.5zM136.7 56.0h0.5v0.5h-0.5zM137.4 55.8h0.5v0.5h-0.5zM137.8 55.9h0.5v0.5h-0.5zM139.5 55.9h0.5v0.5h-0.5zM140.4 55.9h0.5v0.5h-0.5zM119.8 56.4h0.5v0.5h-0.5zM122.5 56.4h0.5v0.5h-0.5zM123.4 56.5h0.5v0.5h-0.5zM124.1 56.6h0.5v0.5h-0.5zM125.6 56.6h0.5v0.5h-0.5zM126.3 56.5h0.5v0.5h-0.5zM126.7 56.6h0.5v0.5h-0.5zM128.3 56.6h0.5v0.5h-0.5zM130.2 56.4h0.5v0.5h-0.5zM131.8 56.4h0.5v0.5h-0.5zM133.3 56.6h0.5v0.5h-0.5zM134.0 56.6h0.5v0.5h-0.5zM135.6 56.4h0.5v0.5h-0.5zM137.2 56.5h0.5v0.5h-0.5zM137.7 56.5h0.5v0.5h-0.5zM139.0 56.6h0.5v0.5h-0.5zM119.0 57.1h0.5v0.5h-0.5zM124.5 57.1h0.5v0.5h-0.5zM125.1 57.1h0.5v0.5h-0.5zM125.7 57.0h0.5v0.5h-0.5zM126.2 57.0h0.5v0.5h-0.5zM126.7 57.2h0.5v0.5h-0.5zM128.4 57.1h0.5v0.5h-0.5zM128.9 57.0h0.5v0.5h-0.5zM131.9 56.9h0.5v0.5h-0.5zM133.4 57.0h0.5v0.5h-0.5zM134.5 57.1h0.5v0.5h-0.5zM134.9 57.0h0.5v0.5h-0.5zM137.7 57.0h0.5v0.5h-0.5zM138.4 57.1h0.5v0.5h-0.5zM140.1 57.0h0.5v0.5h-0.5zM140.4 57.0h0.5v0.5h-0.5zM124.1 57.5h0.5v0.5h-0.5zM126.9 57.7h0.5v0.5h-0.5zM127.9 57.7h0.5v0.5h-0.5zM128.5 57.5h0.5v0.5h-0.5zM128.9 57.6h0.5v0.5h-0.5zM130.6 57.5h0.5v0.5h-0.5zM131.1 57.5h0.5v0.5h-0.5zM131.7 57.5h0.5v0.5h-0.5zM132.8 57.5h0.5v0.5h-0.5zM133.5 57.5h0.5v0.5h-0.5zM136.7 57.5h0.5v0.5h-0.5zM137.2 57.6h0.5v0.5h-0.5zM139.0 57.6h0.5v0.5h-0.5zM139.9 57.6h0.5v0.5h-0.5zM123.5 58.1h0.5v0.5h-0.5zM125.3 58.2h0.5v0.5h-0.5zM125.6 58.1h0.5v0.5h-0.5zM126.1 58.2h0.5v0.5h-0.5zM127.9 58.1h0.5v0.5h-0.5zM130.8 58.1h0.5v0.5h-0.5zM132.2 58.3h0.5v0.5h-0.5zM133.4 58.0h0.5v0.5h-0.5zM133.9 58.2h0.5v0.5h-0.5zM134.6 58.0h0.5v0.5h-0.5zM135.7 58.2h0.5v0.5h-0.5zM119.7 58.8h0.5v0.5h-0.5zM122.0 58.6h0.5v0.5h-0.5zM122.9 58.8h0.5v0.5h-0.5zM124.5 58.7h0.5v0.5h-0.5zM128.5 58.8h0.5v0.5h-0.5zM129.7 58.7h0.5v0.5h-0.5zM130.0 58.8h0.5v0.5h-0.5zM130.6 58.8h0.5v0.5h-0.5zM131.3 58.7h0.5v0.5h-0.5zM131.8 58.6h0.5v0.5h-0.5zM132.4 58.7h0.5v0.5h-0.5zM132.8 58.8h0.5v0.5h-0.5zM133.3 58.7h0.5v0.5h-0.5zM134.0 58.6h0.5v0.5h-0.5zM134.5 58.8h0.5v0.5h-0.5zM138.4 58.6h0.5v0.5h-0.5zM120.3 59.3h0.5v0.5h-0.5zM124.2 59.4h0.5v0.5h-0.5zM127.3 59.2h0.5v0.5h-0.5zM127.8 59.3h0.5v0.5h-0.5zM128.5 59.1h0.5v0.5h-0.5zM129.0 59.2h0.5v0.5h-0.5zM130.6 59.3h0.5v0.5h-0.5zM131.1 59.2h0.5v0.5h-0.5zM131.8 59.2h0.5v0.5h-0.5zM132.2 59.3h0.5v0.5h-0.5zM134.5 59.2h0.5v0.5h-0.5zM138.9 59.4h0.5v0.5h-0.5zM118.7 59.7h0.5v0.5h-0.5zM123.1 59.9h0.5v0.5h-0.5zM124.0 59.9h0.5v0.5h-0.5zM125.1 59.9h0.5v0.5h-0.5zM129.7 59.7h0.5v0.5h-0.5zM130.2 59.9h0.5v0.5h-0.5zM131.8 59.7h0.5v0.5h-0.5zM133.4 59.9h0.5v0.5h-0.5zM134.6 59.9h0.5v0.5h-0.5zM136.1 59.9h0.5v0.5h-0.5zM136.7 59.7h0.5v0.5h-0.5zM139.5 59.9h0.5v0.5h-0.5zM121.7 60.3h0.5v0.5h-0.5zM123.6 60.4h0.5v0.5h-0.5zM126.9 60.3h0.5v0.5h-0.5zM130.7 60.3h0.5v0.5h-0.5zM131.1 60.2h0.5v0.5h-0.5zM133.5 60.5h0.5v0.5h-0.5zM137.1 60.2h0.5v0.5h-0.5zM119.0 60.8h0.5v0.5h-0.5zM119.5 61.0h0.5v0.5h-0.5zM120.2 61.0h0.5v0.5h-0.5zM121.8 60.9h0.5v0.5h-0.5zM124.5 61.0h0.5v0.5h-0.5zM126.4 60.8h0.5v0.5h-0.5zM127.4 61.0h0.5v0.5h-0.5zM129.1 60.9h0.5v0.5h-0.5zM129.5 60.8h0.5v0.5h-0.5zM131.8 60.9h0.5v0.5h-0.5zM132.4 60.9h0.5v0.5h-0.5zM135.5 61.0h0.5v0.5h-0.5zM138.9 60.8h0.5v0.5h-0.5zM122.3 61.4h0.5v0.5h-0.5zM126.3 61.3h0.5v0.5h-0.5zM131.7 61.6h0.5v0.5h-0.5zM134.6 61.5h0.5v0.5h-0.5zM135.7 61.6h0.5v0.5h-0.5zM122.3 62.0h0.5v0.5h-0.5zM124.7 62.0h0.5v0.5h-0.5zM125.6 62.1h0.5v0.5h-0.5zM126.3 61.9h0.5v0.5h-0.5zM130.2 62.0h0.5v0.5h-0.5zM131.8 61.9h0.5v0.5h-0.5zM138.2 62.1h0.5v0.5h-0.5zM124.0 62.5h0.5v0.5h-0.5zM125.8 62.6h0.5v0.5h-0.5zM126.3 62.5h0.5v0.5h-0.5zM130.5 62.6h0.5v0.5h-0.5zM131.2 62.5h0.5v0.5h-0.5zM134.6 62.5h0.5v0.5h-0.5zM129.5 63.0h0.5v0.5h-0.5zM130.0 63.1h0.5v0.5h-0.5zM129.7 63.6h0.5v0.5h-0.5zM131.9 63.5h0.5v0.5h-0.5zM135.1 63.8h0.5v0.5h-0.5zM137.2 63.6h0.5v0.5h-0.5zM121.8 64.1h0.5v0.5h-0.5zM125.3 64.1h0.5v0.5h-0.5zM127.9 64.2h0.5v0.5h-0.5zM132.4 64.1h0.5v0.5h-0.5zM133.4 64.3h0.5v0.5h-0.5zM138.3 64.2h0.5v0.5h-0.5zM130.0 65.2h0.5v0.5h-0.5zM132.4 65.3h0.5v0.5h-0.5zM125.7 65.7h0.5v0.5h-0.5z" fill="#2e2e2e" opacity="0.9"/>
<g filter="url(#b3)"><path d="M118.3 38 L140 36 L146 44 L140 58 L130 64 L118.3 58 Z" fill="#444" opacity="0.55"/></g>
<g filter="url(#b2)"><path d="M119.6 41.5 L130 40 L141 42 L144.5 49 L141 57 L133 61.5 L125 57.5 L119.6 51 Z" fill="#2e2e2e" opacity="0.86"/></g>
<g filter="url(#b1)">
<ellipse cx="134.8" cy="48" rx="5.6" ry="4.8" transform="rotate(25 134.8 48)" fill="#a4a4a4" filter="url(#b1)"/>
<path d="M118.6 36.6 L128 35.6 L139 35 Q142.4 36 141.4 38.2 L138 39.8 L128 39.4 L118.6 40.2 Z" fill="#333" opacity="0.8"/>
<path d="M131 36.6 L138.6 36.2 Q140.2 36.8 139.4 37.6 L137 38.6 L131 38.2 Z" fill="#8c8c8c"/>
</g>
<g filter="url(#b05)">
<path d="M140 53.4 L146 49.4 L151.2 56 L150 71.4 L142.4 71.4 L139.6 61 Z" fill="#141414"/>
<path d="M142.6 55 L145.8 52.8 L148.6 57 L147.8 68.8 L144.2 68.8 L142.4 61 Z" fill="#b8b8b8"/>
</g>
<circle cx="144.9" cy="56.9" r="0.75" fill="#111"/>
<text x="161.2" y="66.05" font-size="4.7" text-anchor="middle" font-weight="bold" fill="#1c1c1c">75.7</text>
<text x="228" y="15.3" font-size="9.8" text-anchor="middle" font-weight="normal" fill="#1a1a1a">CD3<tspan dy="-4.4" font-size="5.6">+</tspan><tspan dy="4.4">CD4</tspan><tspan dy="-4.4" font-size="5.6">+</tspan></text>
<line x1="200.8" y1="25.9" x2="200.8" y2="77.5" stroke="#1c1c1c" stroke-width="1.0"/>
<line x1="200.3" y1="77" x2="253.1" y2="77" stroke="#1c1c1c" stroke-width="1.0"/>
<path d="M200.8 23.799999999999997 L202.9 27.799999999999997 L200.8 26.799999999999997 L198.70000000000002 27.799999999999997 Z" fill="#111"/>
<path d="M255.2 77 L251.2 74.9 L252.2 77 L251.2 79.1 Z" fill="#111"/>
<line x1="254.2" y1="25.4" x2="254.2" y2="70" stroke="#777" stroke-width="0.6"/>
<line x1="207.4" y1="70" x2="254.2" y2="70" stroke="#777" stroke-width="0.6"/>
<text x="197.34" y="52.4" font-size="8.2" text-anchor="middle" font-weight="normal" fill="#1a1a1a" transform="rotate(-90 197.34 52.4)">CD8</text>
<text x="227" y="85.94" font-size="8.2" text-anchor="middle" font-weight="normal" fill="#1a1a1a">CD4</text>
<mask id="m2"><rect x="200" y="40" width="50" height="32" fill="url(#mg2)"/></mask>
<path d="M208.7 46.7h0.5v0.5h-0.5zM210.5 46.6h0.5v0.5h-0.5zM211.6 46.5h0.5v0.5h-0.5zM213.8 46.5h0.5v0.5h-0.5zM214.2 46.5h0.5v0.5h-0.5zM214.9 46.7h0.5v0.5h-0.5zM215.5 46.5h0.5v0.5h-0.5zM215.9 46.4h0.5v0.5h-0.5zM216.7 46.6h0.5v0.5h-0.5zM217.2 46.6h0.5v0.5h-0.5zM220.0 46.7h0.5v0.5h-0.5zM220.5 46.6h0.5v0.5h-0.5zM221.0 46.5h0.5v0.5h-0.5zM222.1 46.5h0.5v0.5h-0.5zM223.7 46.7h0.5v0.5h-0.5zM224.7 46.5h0.5v0.5h-0.5zM226.0 46.5h0.5v0.5h-0.5zM227.1 46.6h0.5v0.5h-0.5zM227.6 46.6h0.5v0.5h-0.5zM228.0 46.5h0.5v0.5h-0.5zM228.8 46.6h0.5v0.5h-0.5zM207.8 47.2h0.5v0.5h-0.5zM208.9 47.0h0.5v0.5h-0.5zM209.9 47.2h0.5v0.5h-0.5zM210.5 47.2h0.5v0.5h-0.5zM211.0 47.2h0.5v0.5h-0.5zM211.7 47.0h0.5v0.5h-0.5zM212.1 47.2h0.5v0.5h-0.5zM212.8 47.0h0.5v0.5h-0.5zM213.7 47.2h0.5v0.5h-0.5zM214.3 47.2h0.5v0.5h-0.5zM214.8 47.2h0.5v0.5h-0.5zM215.3 47.1h0.5v0.5h-0.5zM217.1 47.0h0.5v0.5h-0.5zM217.7 47.2h0.5v0.5h-0.5zM220.3 47.1h0.5v0.5h-0.5zM220.8 47.1h0.5v0.5h-0.5zM222.1 47.1h0.5v0.5h-0.5zM222.5 47.2h0.5v0.5h-0.5zM223.2 47.1h0.5v0.5h-0.5zM223.7 47.0h0.5v0.5h-0.5zM224.1 47.0h0.5v0.5h-0.5zM224.8 47.1h0.5v0.5h-0.5zM227.0 47.0h0.5v0.5h-0.5zM227.6 47.2h0.5v0.5h-0.5zM228.6 47.1h0.5v0.5h-0.5zM207.6 47.6h0.5v0.5h-0.5zM208.4 47.6h0.5v0.5h-0.5zM208.8 47.6h0.5v0.5h-0.5zM209.4 47.6h0.5v0.5h-0.5zM210.0 47.6h0.5v0.5h-0.5zM212.2 47.7h0.5v0.5h-0.5zM212.7 47.7h0.5v0.5h-0.5zM213.1 47.7h0.5v0.5h-0.5zM213.8 47.8h0.5v0.5h-0.5zM215.0 47.6h0.5v0.5h-0.5zM215.5 47.5h0.5v0.5h-0.5zM216.1 47.7h0.5v0.5h-0.5zM216.5 47.6h0.5v0.5h-0.5zM217.0 47.7h0.5v0.5h-0.5zM217.6 47.6h0.5v0.5h-0.5zM218.8 47.6h0.5v0.5h-0.5zM219.3 47.6h0.5v0.5h-0.5zM220.3 47.5h0.5v0.5h-0.5zM221.1 47.7h0.5v0.5h-0.5zM222.6 47.7h0.5v0.5h-0.5zM223.7 47.6h0.5v0.5h-0.5zM224.8 47.6h0.5v0.5h-0.5zM227.5 47.6h0.5v0.5h-0.5zM228.1 47.7h0.5v0.5h-0.5zM208.8 48.3h0.5v0.5h-0.5zM209.4 48.1h0.5v0.5h-0.5zM210.1 48.3h0.5v0.5h-0.5zM211.0 48.1h0.5v0.5h-0.5zM212.7 48.1h0.5v0.5h-0.5zM213.4 48.3h0.5v0.5h-0.5zM213.8 48.3h0.5v0.5h-0.5zM214.5 48.2h0.5v0.5h-0.5zM215.6 48.3h0.5v0.5h-0.5zM216.5 48.1h0.5v0.5h-0.5zM218.2 48.2h0.5v0.5h-0.5zM218.8 48.3h0.5v0.5h-0.5zM220.0 48.1h0.5v0.5h-0.5zM222.6 48.2h0.5v0.5h-0.5zM224.1 48.2h0.5v0.5h-0.5zM226.0 48.1h0.5v0.5h-0.5zM227.7 48.3h0.5v0.5h-0.5zM228.2 48.3h0.5v0.5h-0.5zM228.7 48.2h0.5v0.5h-0.5zM207.8 48.6h0.5v0.5h-0.5zM208.8 48.8h0.5v0.5h-0.5zM209.3 48.9h0.5v0.5h-0.5zM209.8 48.7h0.5v0.5h-0.5zM212.2 48.7h0.5v0.5h-0.5zM212.7 48.6h0.5v0.5h-0.5zM213.3 48.7h0.5v0.5h-0.5zM215.0 48.8h0.5v0.5h-0.5zM215.9 48.7h0.5v0.5h-0.5zM216.5 48.6h0.5v0.5h-0.5zM217.2 48.7h0.5v0.5h-0.5zM217.6 48.7h0.5v0.5h-0.5zM218.8 48.7h0.5v0.5h-0.5zM219.4 48.6h0.5v0.5h-0.5zM220.4 48.8h0.5v0.5h-0.5zM221.6 48.6h0.5v0.5h-0.5zM222.6 48.9h0.5v0.5h-0.5zM223.6 48.7h0.5v0.5h-0.5zM224.2 48.7h0.5v0.5h-0.5zM225.4 48.7h0.5v0.5h-0.5zM225.8 48.6h0.5v0.5h-0.5zM226.3 48.7h0.5v0.5h-0.5zM227.1 48.9h0.5v0.5h-0.5zM227.6 48.9h0.5v0.5h-0.5zM228.0 48.7h0.5v0.5h-0.5zM228.7 48.7h0.5v0.5h-0.5zM207.8 49.2h0.5v0.5h-0.5zM209.5 49.3h0.5v0.5h-0.5zM211.1 49.4h0.5v0.5h-0.5zM214.9 49.4h0.5v0.5h-0.5zM215.4 49.2h0.5v0.5h-0.5zM216.5 49.4h0.5v0.5h-0.5zM217.2 49.2h0.5v0.5h-0.5zM217.6 49.3h0.5v0.5h-0.5zM219.9 49.2h0.5v0.5h-0.5zM220.9 49.3h0.5v0.5h-0.5zM221.4 49.4h0.5v0.5h-0.5zM221.9 49.2h0.5v0.5h-0.5zM222.6 49.2h0.5v0.5h-0.5zM223.1 49.2h0.5v0.5h-0.5zM223.7 49.3h0.5v0.5h-0.5zM224.7 49.4h0.5v0.5h-0.5zM225.4 49.2h0.5v0.5h-0.5zM226.0 49.3h0.5v0.5h-0.5zM227.0 49.4h0.5v0.5h-0.5zM227.5 49.3h0.5v0.5h-0.5zM228.2 49.3h0.5v0.5h-0.5zM228.7 49.4h0.5v0.5h-0.5zM208.8 49.9h0.5v0.5h-0.5zM209.3 50.0h0.5v0.5h-0.5zM210.1 49.9h0.5v0.5h-0.5zM211.0 49.9h0.5v0.5h-0.5zM211.5 49.8h0.5v0.5h-0.5zM212.0 49.9h0.5v0.5h-0.5zM212.8 49.9h0.5v0.5h-0.5zM213.4 49.8h0.5v0.5h-0.5zM213.8 49.7h0.5v0.5h-0.5zM214.2 49.8h0.5v0.5h-0.5zM216.1 50.0h0.5v0.5h-0.5zM216.5 49.7h0.5v0.5h-0.5zM217.0 49.8h0.5v0.5h-0.5zM217.6 49.8h0.5v0.5h-0.5zM220.5 49.7h0.5v0.5h-0.5zM221.0 49.9h0.5v0.5h-0.5zM221.5 49.8h0.5v0.5h-0.5zM222.0 49.8h0.5v0.5h-0.5zM223.7 49.8h0.5v0.5h-0.5zM225.4 49.9h0.5v0.5h-0.5zM226.5 49.8h0.5v0.5h-0.5zM227.0 49.9h0.5v0.5h-0.5zM227.6 49.9h0.5v0.5h-0.5zM228.0 49.9h0.5v0.5h-0.5zM208.8 50.3h0.5v0.5h-0.5zM210.6 50.5h0.5v0.5h-0.5zM211.5 50.3h0.5v0.5h-0.5zM213.4 50.4h0.5v0.5h-0.5zM213.8 50.5h0.5v0.5h-0.5zM214.4 50.3h0.5v0.5h-0.5zM215.6 50.3h0.5v0.5h-0.5zM216.0 50.4h0.5v0.5h-0.5zM216.7 50.3h0.5v0.5h-0.5zM218.7 50.4h0.5v0.5h-0.5zM219.2 50.3h0.5v0.5h-0.5zM219.8 50.4h0.5v0.5h-0.5zM220.3 50.3h0.5v0.5h-0.5zM222.1 50.4h0.5v0.5h-0.5zM223.6 50.5h0.5v0.5h-0.5zM224.1 50.5h0.5v0.5h-0.5zM224.7 50.3h0.5v0.5h-0.5zM225.4 50.4h0.5v0.5h-0.5zM225.9 50.5h0.5v0.5h-0.5zM226.5 50.3h0.5v0.5h-0.5zM227.0 50.4h0.5v0.5h-0.5zM227.6 50.5h0.5v0.5h-0.5zM228.1 50.5h0.5v0.5h-0.5zM207.7 51.1h0.5v0.5h-0.5zM208.9 51.1h0.5v0.5h-0.5zM211.0 50.8h0.5v0.5h-0.5zM212.2 50.9h0.5v0.5h-0.5zM212.8 50.9h0.5v0.5h-0.5zM213.2 50.9h0.5v0.5h-0.5zM213.8 51.0h0.5v0.5h-0.5zM214.5 51.0h0.5v0.5h-0.5zM215.0 50.9h0.5v0.5h-0.5zM215.3 51.0h0.5v0.5h-0.5zM216.1 51.0h0.5v0.5h-0.5zM217.5 50.9h0.5v0.5h-0.5zM218.1 50.9h0.5v0.5h-0.5zM218.8 51.0h0.5v0.5h-0.5zM219.9 50.8h0.5v0.5h-0.5zM220.8 50.9h0.5v0.5h-0.5zM222.2 50.9h0.5v0.5h-0.5zM222.7 51.0h0.5v0.5h-0.5zM223.2 50.9h0.5v0.5h-0.5zM226.0 50.8h0.5v0.5h-0.5zM226.6 50.8h0.5v0.5h-0.5zM207.8 51.5h0.5v0.5h-0.5zM208.3 51.6h0.5v0.5h-0.5zM208.7 51.5h0.5v0.5h-0.5zM211.2 51.4h0.5v0.5h-0.5zM211.7 51.6h0.5v0.5h-0.5zM212.3 51.4h0.5v0.5h-0.5zM213.2 51.4h0.5v0.5h-0.5zM213.8 51.5h0.5v0.5h-0.5zM214.4 51.4h0.5v0.5h-0.5zM216.1 51.4h0.5v0.5h-0.5zM216.5 51.5h0.5v0.5h-0.5zM218.2 51.5h0.5v0.5h-0.5zM220.4 51.4h0.5v0.5h-0.5zM220.8 51.6h0.5v0.5h-0.5zM222.5 51.5h0.5v0.5h-0.5zM223.1 51.4h0.5v0.5h-0.5zM223.8 51.6h0.5v0.5h-0.5zM225.3 51.6h0.5v0.5h-0.5zM226.5 51.6h0.5v0.5h-0.5zM227.1 51.5h0.5v0.5h-0.5zM228.1 51.5h0.5v0.5h-0.5zM228.6 51.6h0.5v0.5h-0.5zM208.3 52.2h0.5v0.5h-0.5zM210.5 52.1h0.5v0.5h-0.5zM211.2 52.2h0.5v0.5h-0.5zM211.6 52.1h0.5v0.5h-0.5zM212.8 52.0h0.5v0.5h-0.5zM213.3 52.1h0.5v0.5h-0.5zM213.8 52.2h0.5v0.5h-0.5zM215.0 52.1h0.5v0.5h-0.5zM215.5 52.1h0.5v0.5h-0.5zM217.5 52.0h0.5v0.5h-0.5zM218.3 52.0h0.5v0.5h-0.5zM220.0 52.0h0.5v0.5h-0.5zM220.4 52.0h0.5v0.5h-0.5zM221.4 51.9h0.5v0.5h-0.5zM222.0 52.1h0.5v0.5h-0.5zM222.5 52.0h0.5v0.5h-0.5zM225.3 52.1h0.5v0.5h-0.5zM225.8 52.1h0.5v0.5h-0.5zM226.5 52.0h0.5v0.5h-0.5zM227.0 52.1h0.5v0.5h-0.5zM227.7 52.2h0.5v0.5h-0.5zM228.0 52.1h0.5v0.5h-0.5zM207.8 52.5h0.5v0.5h-0.5zM209.9 52.6h0.5v0.5h-0.5zM210.4 52.5h0.5v0.5h-0.5zM213.7 52.7h0.5v0.5h-0.5zM214.2 52.7h0.5v0.5h-0.5zM214.8 52.6h0.5v0.5h-0.5zM216.1 52.5h0.5v0.5h-0.5zM217.0 52.7h0.5v0.5h-0.5zM217.7 52.7h0.5v0.5h-0.5zM218.3 52.5h0.5v0.5h-0.5zM218.7 52.5h0.5v0.5h-0.5zM219.9 52.5h0.5v0.5h-0.5zM220.5 52.5h0.5v0.5h-0.5zM220.8 52.6h0.5v0.5h-0.5zM221.4 52.5h0.5v0.5h-0.5zM222.1 52.5h0.5v0.5h-0.5zM222.6 52.6h0.5v0.5h-0.5zM224.9 52.5h0.5v0.5h-0.5zM225.2 52.7h0.5v0.5h-0.5zM226.0 52.7h0.5v0.5h-0.5zM227.0 52.7h0.5v0.5h-0.5zM228.1 52.5h0.5v0.5h-0.5zM228.7 52.7h0.5v0.5h-0.5zM208.9 53.3h0.5v0.5h-0.5zM210.4 53.2h0.5v0.5h-0.5zM211.7 53.3h0.5v0.5h-0.5zM212.3 53.0h0.5v0.5h-0.5zM212.7 53.3h0.5v0.5h-0.5zM213.9 53.2h0.5v0.5h-0.5zM214.9 53.0h0.5v0.5h-0.5zM215.4 53.1h0.5v0.5h-0.5zM217.2 53.2h0.5v0.5h-0.5zM217.6 53.3h0.5v0.5h-0.5zM218.8 53.1h0.5v0.5h-0.5zM219.4 53.1h0.5v0.5h-0.5zM219.9 53.3h0.5v0.5h-0.5zM220.5 53.2h0.5v0.5h-0.5zM221.0 53.2h0.5v0.5h-0.5zM222.0 53.2h0.5v0.5h-0.5zM222.6 53.1h0.5v0.5h-0.5zM223.1 53.1h0.5v0.5h-0.5zM223.7 53.2h0.5v0.5h-0.5zM224.3 53.1h0.5v0.5h-0.5zM224.7 53.3h0.5v0.5h-0.5zM226.3 53.0h0.5v0.5h-0.5zM227.0 53.0h0.5v0.5h-0.5zM227.6 53.3h0.5v0.5h-0.5zM228.0 53.2h0.5v0.5h-0.5zM228.6 53.0h0.5v0.5h-0.5zM207.7 53.6h0.5v0.5h-0.5zM208.3 53.8h0.5v0.5h-0.5zM208.8 53.7h0.5v0.5h-0.5zM211.1 53.6h0.5v0.5h-0.5zM213.1 53.6h0.5v0.5h-0.5zM214.8 53.8h0.5v0.5h-0.5zM216.0 53.6h0.5v0.5h-0.5zM216.6 53.8h0.5v0.5h-0.5zM217.8 53.8h0.5v0.5h-0.5zM218.3 53.6h0.5v0.5h-0.5zM218.8 53.6h0.5v0.5h-0.5zM219.4 53.8h0.5v0.5h-0.5zM219.9 53.6h0.5v0.5h-0.5zM221.4 53.8h0.5v0.5h-0.5zM224.3 53.7h0.5v0.5h-0.5zM224.7 53.6h0.5v0.5h-0.5zM225.4 53.7h0.5v0.5h-0.5zM226.5 53.6h0.5v0.5h-0.5zM226.9 53.8h0.5v0.5h-0.5zM228.0 53.6h0.5v0.5h-0.5zM228.8 53.7h0.5v0.5h-0.5zM208.8 54.2h0.5v0.5h-0.5zM209.4 54.3h0.5v0.5h-0.5zM210.0 54.2h0.5v0.5h-0.5zM211.1 54.2h0.5v0.5h-0.5zM213.2 54.4h0.5v0.5h-0.5zM215.0 54.4h0.5v0.5h-0.5zM216.4 54.2h0.5v0.5h-0.5zM219.2 54.2h0.5v0.5h-0.5zM219.9 54.4h0.5v0.5h-0.5zM221.0 54.3h0.5v0.5h-0.5zM222.0 54.4h0.5v0.5h-0.5zM223.6 54.2h0.5v0.5h-0.5zM224.2 54.2h0.5v0.5h-0.5zM226.0 54.1h0.5v0.5h-0.5zM227.0 54.2h0.5v0.5h-0.5zM228.5 54.3h0.5v0.5h-0.5zM207.6 54.8h0.5v0.5h-0.5zM208.2 54.7h0.5v0.5h-0.5zM208.9 54.8h0.5v0.5h-0.5zM210.0 54.9h0.5v0.5h-0.5zM211.0 54.7h0.5v0.5h-0.5zM213.4 54.8h0.5v0.5h-0.5zM214.4 54.7h0.5v0.5h-0.5zM216.0 54.7h0.5v0.5h-0.5zM216.6 54.8h0.5v0.5h-0.5zM217.0 54.8h0.5v0.5h-0.5zM218.1 54.8h0.5v0.5h-0.5zM218.6 54.8h0.5v0.5h-0.5zM219.2 54.7h0.5v0.5h-0.5zM220.3 54.7h0.5v0.5h-0.5zM222.7 54.7h0.5v0.5h-0.5zM223.0 54.8h0.5v0.5h-0.5zM226.6 54.9h0.5v0.5h-0.5zM227.6 54.8h0.5v0.5h-0.5zM228.0 54.9h0.5v0.5h-0.5zM208.4 55.2h0.5v0.5h-0.5zM209.3 55.2h0.5v0.5h-0.5zM214.2 55.5h0.5v0.5h-0.5zM215.0 55.5h0.5v0.5h-0.5zM215.4 55.3h0.5v0.5h-0.5zM217.7 55.5h0.5v0.5h-0.5zM218.2 55.3h0.5v0.5h-0.5zM219.3 55.4h0.5v0.5h-0.5zM219.9 55.3h0.5v0.5h-0.5zM220.5 55.4h0.5v0.5h-0.5zM222.6 55.5h0.5v0.5h-0.5zM223.2 55.4h0.5v0.5h-0.5zM223.6 55.3h0.5v0.5h-0.5zM227.6 55.5h0.5v0.5h-0.5zM228.7 55.3h0.5v0.5h-0.5zM209.4 55.8h0.5v0.5h-0.5zM210.0 56.0h0.5v0.5h-0.5zM210.6 55.8h0.5v0.5h-0.5zM211.5 55.9h0.5v0.5h-0.5zM213.2 55.8h0.5v0.5h-0.5zM213.7 56.0h0.5v0.5h-0.5zM214.9 55.9h0.5v0.5h-0.5zM217.1 55.9h0.5v0.5h-0.5zM219.3 56.0h0.5v0.5h-0.5zM219.8 55.9h0.5v0.5h-0.5zM220.4 55.8h0.5v0.5h-0.5zM220.9 56.0h0.5v0.5h-0.5zM223.3 55.9h0.5v0.5h-0.5zM224.2 55.9h0.5v0.5h-0.5zM226.0 55.8h0.5v0.5h-0.5zM226.9 56.0h0.5v0.5h-0.5zM227.6 56.0h0.5v0.5h-0.5zM228.6 55.9h0.5v0.5h-0.5zM207.7 56.5h0.5v0.5h-0.5zM208.4 56.5h0.5v0.5h-0.5zM209.8 56.6h0.5v0.5h-0.5zM212.1 56.5h0.5v0.5h-0.5zM213.3 56.6h0.5v0.5h-0.5zM213.7 56.3h0.5v0.5h-0.5zM215.0 56.3h0.5v0.5h-0.5zM216.1 56.4h0.5v0.5h-0.5zM216.6 56.4h0.5v0.5h-0.5zM218.2 56.5h0.5v0.5h-0.5zM219.3 56.5h0.5v0.5h-0.5zM220.9 56.4h0.5v0.5h-0.5zM221.9 56.4h0.5v0.5h-0.5zM223.7 56.4h0.5v0.5h-0.5zM224.9 56.5h0.5v0.5h-0.5zM225.3 56.5h0.5v0.5h-0.5zM227.1 56.3h0.5v0.5h-0.5zM228.0 56.5h0.5v0.5h-0.5zM209.4 57.1h0.5v0.5h-0.5zM209.9 56.9h0.5v0.5h-0.5zM210.6 56.9h0.5v0.5h-0.5zM211.0 57.1h0.5v0.5h-0.5zM214.2 57.0h0.5v0.5h-0.5zM214.8 56.9h0.5v0.5h-0.5zM217.1 56.9h0.5v0.5h-0.5zM217.5 57.0h0.5v0.5h-0.5zM218.8 57.1h0.5v0.5h-0.5zM219.8 57.1h0.5v0.5h-0.5zM220.3 57.1h0.5v0.5h-0.5zM222.0 56.9h0.5v0.5h-0.5zM222.5 57.1h0.5v0.5h-0.5zM223.6 56.9h0.5v0.5h-0.5zM224.9 56.9h0.5v0.5h-0.5zM225.5 56.9h0.5v0.5h-0.5zM225.9 57.0h0.5v0.5h-0.5zM227.5 57.0h0.5v0.5h-0.5zM228.1 57.1h0.5v0.5h-0.5zM228.8 57.0h0.5v0.5h-0.5zM207.7 57.6h0.5v0.5h-0.5zM208.4 57.6h0.5v0.5h-0.5zM209.3 57.5h0.5v0.5h-0.5zM211.7 57.6h0.5v0.5h-0.5zM214.9 57.6h0.5v0.5h-0.5zM216.6 57.5h0.5v0.5h-0.5zM217.7 57.6h0.5v0.5h-0.5zM219.7 57.6h0.5v0.5h-0.5zM220.4 57.6h0.5v0.5h-0.5zM222.1 57.6h0.5v0.5h-0.5zM223.8 57.4h0.5v0.5h-0.5zM224.7 57.6h0.5v0.5h-0.5zM225.3 57.4h0.5v0.5h-0.5zM225.8 57.4h0.5v0.5h-0.5zM227.0 57.5h0.5v0.5h-0.5zM207.6 58.1h0.5v0.5h-0.5zM208.4 58.0h0.5v0.5h-0.5zM209.3 58.0h0.5v0.5h-0.5zM212.2 58.0h0.5v0.5h-0.5zM212.8 58.0h0.5v0.5h-0.5zM213.2 58.0h0.5v0.5h-0.5zM213.7 58.1h0.5v0.5h-0.5zM216.1 58.0h0.5v0.5h-0.5zM216.6 58.2h0.5v0.5h-0.5zM217.6 58.1h0.5v0.5h-0.5zM218.3 58.2h0.5v0.5h-0.5zM218.7 58.2h0.5v0.5h-0.5zM221.6 58.1h0.5v0.5h-0.5zM224.3 58.1h0.5v0.5h-0.5zM225.8 58.2h0.5v0.5h-0.5zM226.4 58.0h0.5v0.5h-0.5zM227.0 58.2h0.5v0.5h-0.5zM227.5 58.2h0.5v0.5h-0.5zM228.1 58.0h0.5v0.5h-0.5zM207.6 58.5h0.5v0.5h-0.5zM208.4 58.5h0.5v0.5h-0.5zM208.8 58.5h0.5v0.5h-0.5zM210.9 58.7h0.5v0.5h-0.5zM211.6 58.8h0.5v0.5h-0.5zM212.2 58.6h0.5v0.5h-0.5zM213.3 58.7h0.5v0.5h-0.5zM213.9 58.6h0.5v0.5h-0.5zM214.3 58.7h0.5v0.5h-0.5zM215.4 58.7h0.5v0.5h-0.5zM216.6 58.8h0.5v0.5h-0.5zM218.2 58.7h0.5v0.5h-0.5zM218.7 58.6h0.5v0.5h-0.5zM219.3 58.6h0.5v0.5h-0.5zM220.8 58.5h0.5v0.5h-0.5zM221.9 58.5h0.5v0.5h-0.5zM223.3 58.6h0.5v0.5h-0.5zM224.3 58.5h0.5v0.5h-0.5zM224.7 58.5h0.5v0.5h-0.5zM226.6 58.6h0.5v0.5h-0.5zM226.9 58.6h0.5v0.5h-0.5zM227.5 58.6h0.5v0.5h-0.5zM228.2 58.7h0.5v0.5h-0.5zM207.8 59.3h0.5v0.5h-0.5zM209.0 59.2h0.5v0.5h-0.5zM209.5 59.1h0.5v0.5h-0.5zM210.4 59.2h0.5v0.5h-0.5zM212.8 59.2h0.5v0.5h-0.5zM213.3 59.2h0.5v0.5h-0.5zM214.3 59.1h0.5v0.5h-0.5zM215.4 59.2h0.5v0.5h-0.5zM216.6 59.3h0.5v0.5h-0.5zM217.2 59.1h0.5v0.5h-0.5zM218.1 59.1h0.5v0.5h-0.5zM221.0 59.3h0.5v0.5h-0.5zM222.1 59.3h0.5v0.5h-0.5zM224.1 59.1h0.5v0.5h-0.5zM224.8 59.1h0.5v0.5h-0.5zM209.5 59.6h0.5v0.5h-0.5zM211.2 59.7h0.5v0.5h-0.5zM212.0 59.7h0.5v0.5h-0.5zM214.9 59.8h0.5v0.5h-0.5zM216.1 59.7h0.5v0.5h-0.5zM216.4 59.7h0.5v0.5h-0.5zM219.4 59.8h0.5v0.5h-0.5zM220.4 59.8h0.5v0.5h-0.5zM221.0 59.7h0.5v0.5h-0.5zM221.5 59.8h0.5v0.5h-0.5zM222.0 59.9h0.5v0.5h-0.5zM223.7 59.7h0.5v0.5h-0.5zM224.3 59.8h0.5v0.5h-0.5zM224.8 59.8h0.5v0.5h-0.5zM225.4 59.9h0.5v0.5h-0.5zM226.3 59.8h0.5v0.5h-0.5zM228.5 59.9h0.5v0.5h-0.5zM213.7 60.3h0.5v0.5h-0.5zM216.4 60.3h0.5v0.5h-0.5zM217.7 60.2h0.5v0.5h-0.5zM221.1 60.4h0.5v0.5h-0.5zM221.5 60.2h0.5v0.5h-0.5zM224.3 60.2h0.5v0.5h-0.5zM224.8 60.4h0.5v0.5h-0.5zM225.2 60.2h0.5v0.5h-0.5zM225.9 60.4h0.5v0.5h-0.5zM207.8 60.9h0.5v0.5h-0.5zM211.2 60.9h0.5v0.5h-0.5zM211.7 61.0h0.5v0.5h-0.5zM213.2 60.9h0.5v0.5h-0.5zM215.5 60.8h0.5v0.5h-0.5zM215.9 60.9h0.5v0.5h-0.5zM218.2 60.9h0.5v0.5h-0.5zM218.6 60.9h0.5v0.5h-0.5zM221.0 60.8h0.5v0.5h-0.5zM222.1 60.8h0.5v0.5h-0.5zM222.6 60.8h0.5v0.5h-0.5zM223.3 60.9h0.5v0.5h-0.5zM224.3 60.9h0.5v0.5h-0.5zM226.6 61.0h0.5v0.5h-0.5zM227.6 60.7h0.5v0.5h-0.5zM228.2 61.0h0.5v0.5h-0.5zM207.7 61.3h0.5v0.5h-0.5zM208.2 61.5h0.5v0.5h-0.5zM209.5 61.5h0.5v0.5h-0.5zM210.5 61.5h0.5v0.5h-0.5zM212.1 61.4h0.5v0.5h-0.5zM216.6 61.5h0.5v0.5h-0.5zM217.1 61.4h0.5v0.5h-0.5zM218.7 61.4h0.5v0.5h-0.5zM219.9 61.3h0.5v0.5h-0.5zM220.4 61.5h0.5v0.5h-0.5zM221.4 61.5h0.5v0.5h-0.5zM222.6 61.3h0.5v0.5h-0.5zM224.2 61.5h0.5v0.5h-0.5zM224.8 61.3h0.5v0.5h-0.5zM225.9 61.5h0.5v0.5h-0.5zM227.1 61.4h0.5v0.5h-0.5zM227.5 61.3h0.5v0.5h-0.5zM228.6 61.5h0.5v0.5h-0.5zM207.7 61.8h0.5v0.5h-0.5zM208.4 61.9h0.5v0.5h-0.5zM209.4 61.8h0.5v0.5h-0.5zM210.6 62.1h0.5v0.5h-0.5zM211.0 61.9h0.5v0.5h-0.5zM211.6 62.0h0.5v0.5h-0.5zM213.2 61.8h0.5v0.5h-0.5zM213.8 62.0h0.5v0.5h-0.5zM214.5 62.1h0.5v0.5h-0.5zM216.1 61.8h0.5v0.5h-0.5zM218.9 61.8h0.5v0.5h-0.5zM219.3 62.1h0.5v0.5h-0.5zM219.8 62.0h0.5v0.5h-0.5zM220.4 61.9h0.5v0.5h-0.5zM222.2 62.1h0.5v0.5h-0.5zM222.5 62.0h0.5v0.5h-0.5zM223.6 61.9h0.5v0.5h-0.5zM226.6 61.9h0.5v0.5h-0.5zM209.9 62.5h0.5v0.5h-0.5zM211.0 62.4h0.5v0.5h-0.5zM213.3 62.6h0.5v0.5h-0.5zM214.9 62.5h0.5v0.5h-0.5zM216.1 62.5h0.5v0.5h-0.5zM217.7 62.6h0.5v0.5h-0.5zM221.1 62.6h0.5v0.5h-0.5zM223.1 62.6h0.5v0.5h-0.5zM223.8 62.4h0.5v0.5h-0.5zM224.1 62.4h0.5v0.5h-0.5zM224.8 62.6h0.5v0.5h-0.5zM225.9 62.6h0.5v0.5h-0.5zM226.5 62.4h0.5v0.5h-0.5zM227.0 62.6h0.5v0.5h-0.5zM228.1 62.4h0.5v0.5h-0.5zM211.7 63.2h0.5v0.5h-0.5zM212.3 63.0h0.5v0.5h-0.5zM213.4 63.2h0.5v0.5h-0.5zM216.1 63.2h0.5v0.5h-0.5zM217.6 63.1h0.5v0.5h-0.5zM218.3 63.1h0.5v0.5h-0.5zM218.7 63.2h0.5v0.5h-0.5zM219.9 63.0h0.5v0.5h-0.5zM222.5 62.9h0.5v0.5h-0.5zM223.6 63.1h0.5v0.5h-0.5zM227.1 62.9h0.5v0.5h-0.5zM207.9 63.6h0.5v0.5h-0.5zM208.9 63.7h0.5v0.5h-0.5zM212.1 63.7h0.5v0.5h-0.5zM215.5 63.7h0.5v0.5h-0.5zM216.0 63.6h0.5v0.5h-0.5zM217.0 63.7h0.5v0.5h-0.5zM218.6 63.5h0.5v0.5h-0.5zM220.0 63.5h0.5v0.5h-0.5zM221.0 63.7h0.5v0.5h-0.5zM222.0 63.5h0.5v0.5h-0.5zM224.2 63.7h0.5v0.5h-0.5zM226.9 63.5h0.5v0.5h-0.5zM228.2 63.5h0.5v0.5h-0.5zM228.6 63.7h0.5v0.5h-0.5zM207.7 64.2h0.5v0.5h-0.5zM208.3 64.1h0.5v0.5h-0.5zM209.8 64.3h0.5v0.5h-0.5zM210.4 64.2h0.5v0.5h-0.5zM212.1 64.1h0.5v0.5h-0.5zM214.3 64.1h0.5v0.5h-0.5zM216.7 64.1h0.5v0.5h-0.5zM217.1 64.0h0.5v0.5h-0.5zM218.9 64.1h0.5v0.5h-0.5zM219.3 64.0h0.5v0.5h-0.5zM219.9 64.1h0.5v0.5h-0.5zM221.0 64.2h0.5v0.5h-0.5zM222.5 64.2h0.5v0.5h-0.5zM223.3 64.0h0.5v0.5h-0.5zM223.7 64.2h0.5v0.5h-0.5zM225.2 64.2h0.5v0.5h-0.5zM226.0 64.2h0.5v0.5h-0.5zM227.0 64.2h0.5v0.5h-0.5zM227.7 64.2h0.5v0.5h-0.5zM228.6 64.0h0.5v0.5h-0.5zM211.7 64.7h0.5v0.5h-0.5zM212.2 64.6h0.5v0.5h-0.5zM214.9 64.6h0.5v0.5h-0.5zM216.1 64.8h0.5v0.5h-0.5zM217.2 64.7h0.5v0.5h-0.5zM220.0 64.8h0.5v0.5h-0.5zM220.4 64.7h0.5v0.5h-0.5zM221.5 64.8h0.5v0.5h-0.5zM223.6 64.7h0.5v0.5h-0.5zM224.2 64.7h0.5v0.5h-0.5zM224.7 64.8h0.5v0.5h-0.5zM226.5 64.6h0.5v0.5h-0.5zM226.9 64.8h0.5v0.5h-0.5zM227.5 64.6h0.5v0.5h-0.5zM228.2 64.7h0.5v0.5h-0.5zM228.5 64.6h0.5v0.5h-0.5zM207.8 65.4h0.5v0.5h-0.5zM210.5 65.3h0.5v0.5h-0.5zM212.7 65.4h0.5v0.5h-0.5zM213.2 65.3h0.5v0.5h-0.5zM214.4 65.1h0.5v0.5h-0.5zM216.5 65.2h0.5v0.5h-0.5zM218.3 65.3h0.5v0.5h-0.5zM220.8 65.3h0.5v0.5h-0.5zM223.1 65.4h0.5v0.5h-0.5zM225.3 65.1h0.5v0.5h-0.5zM225.9 65.4h0.5v0.5h-0.5zM226.4 65.2h0.5v0.5h-0.5zM228.0 65.2h0.5v0.5h-0.5zM228.8 65.2h0.5v0.5h-0.5zM207.6 65.7h0.5v0.5h-0.5zM210.5 65.8h0.5v0.5h-0.5zM212.1 65.9h0.5v0.5h-0.5zM213.3 65.9h0.5v0.5h-0.5zM214.5 65.7h0.5v0.5h-0.5zM217.1 65.7h0.5v0.5h-0.5zM218.2 65.8h0.5v0.5h-0.5zM224.9 65.8h0.5v0.5h-0.5zM225.8 65.8h0.5v0.5h-0.5zM226.3 65.8h0.5v0.5h-0.5zM227.1 65.7h0.5v0.5h-0.5zM212.7 66.4h0.5v0.5h-0.5zM213.2 66.3h0.5v0.5h-0.5zM214.2 66.4h0.5v0.5h-0.5zM215.4 66.2h0.5v0.5h-0.5zM216.1 66.2h0.5v0.5h-0.5zM216.5 66.4h0.5v0.5h-0.5zM221.1 66.3h0.5v0.5h-0.5zM223.0 66.3h0.5v0.5h-0.5zM223.7 66.3h0.5v0.5h-0.5zM224.2 66.3h0.5v0.5h-0.5zM224.9 66.3h0.5v0.5h-0.5zM225.2 66.2h0.5v0.5h-0.5zM225.8 66.3h0.5v0.5h-0.5zM227.1 66.4h0.5v0.5h-0.5zM227.5 66.2h0.5v0.5h-0.5zM228.0 66.2h0.5v0.5h-0.5zM228.6 66.3h0.5v0.5h-0.5zM207.7 67.0h0.5v0.5h-0.5zM209.4 67.0h0.5v0.5h-0.5zM210.1 66.9h0.5v0.5h-0.5zM210.4 66.8h0.5v0.5h-0.5zM211.6 67.0h0.5v0.5h-0.5zM212.6 67.0h0.5v0.5h-0.5zM213.2 67.0h0.5v0.5h-0.5zM217.1 66.9h0.5v0.5h-0.5zM217.7 66.9h0.5v0.5h-0.5zM219.3 67.0h0.5v0.5h-0.5zM219.8 66.8h0.5v0.5h-0.5zM220.5 66.9h0.5v0.5h-0.5zM223.7 66.8h0.5v0.5h-0.5zM227.5 66.8h0.5v0.5h-0.5zM228.2 66.8h0.5v0.5h-0.5zM209.4 67.5h0.5v0.5h-0.5zM210.5 67.5h0.5v0.5h-0.5zM211.6 67.3h0.5v0.5h-0.5zM212.1 67.4h0.5v0.5h-0.5zM213.4 67.3h0.5v0.5h-0.5zM213.9 67.4h0.5v0.5h-0.5zM219.9 67.6h0.5v0.5h-0.5zM220.4 67.3h0.5v0.5h-0.5zM222.0 67.3h0.5v0.5h-0.5zM222.5 67.6h0.5v0.5h-0.5zM225.9 67.6h0.5v0.5h-0.5zM226.6 67.4h0.5v0.5h-0.5zM227.4 67.4h0.5v0.5h-0.5zM208.3 68.0h0.5v0.5h-0.5zM209.3 68.0h0.5v0.5h-0.5zM210.0 68.1h0.5v0.5h-0.5zM210.6 68.0h0.5v0.5h-0.5zM212.8 68.1h0.5v0.5h-0.5zM217.6 67.9h0.5v0.5h-0.5zM218.3 68.0h0.5v0.5h-0.5zM218.8 68.1h0.5v0.5h-0.5zM220.4 67.9h0.5v0.5h-0.5zM224.2 68.0h0.5v0.5h-0.5zM224.9 67.9h0.5v0.5h-0.5zM225.2 68.0h0.5v0.5h-0.5zM225.9 68.0h0.5v0.5h-0.5zM226.4 68.0h0.5v0.5h-0.5zM227.6 68.1h0.5v0.5h-0.5zM228.2 68.0h0.5v0.5h-0.5zM210.6 68.6h0.5v0.5h-0.5zM211.1 68.6h0.5v0.5h-0.5zM212.6 68.4h0.5v0.5h-0.5zM215.5 68.5h0.5v0.5h-0.5zM216.1 68.6h0.5v0.5h-0.5zM217.7 68.6h0.5v0.5h-0.5zM218.7 68.4h0.5v0.5h-0.5zM223.2 68.6h0.5v0.5h-0.5zM224.2 68.6h0.5v0.5h-0.5zM225.4 68.5h0.5v0.5h-0.5zM225.9 68.5h0.5v0.5h-0.5zM228.8 68.7h0.5v0.5h-0.5zM208.8 69.1h0.5v0.5h-0.5zM210.1 69.1h0.5v0.5h-0.5zM211.5 69.1h0.5v0.5h-0.5zM212.0 69.0h0.5v0.5h-0.5zM217.2 69.1h0.5v0.5h-0.5zM217.5 69.2h0.5v0.5h-0.5zM220.4 69.1h0.5v0.5h-0.5zM221.6 69.2h0.5v0.5h-0.5zM223.1 69.2h0.5v0.5h-0.5zM224.2 69.2h0.5v0.5h-0.5zM225.4 69.2h0.5v0.5h-0.5zM226.5 69.0h0.5v0.5h-0.5zM228.0 69.1h0.5v0.5h-0.5zM216.1 69.6h0.5v0.5h-0.5zM217.2 69.7h0.5v0.5h-0.5zM218.8 69.7h0.5v0.5h-0.5zM219.4 69.5h0.5v0.5h-0.5zM221.1 69.8h0.5v0.5h-0.5zM221.5 69.7h0.5v0.5h-0.5zM222.1 69.5h0.5v0.5h-0.5zM223.1 69.7h0.5v0.5h-0.5zM224.2 69.5h0.5v0.5h-0.5zM224.7 69.6h0.5v0.5h-0.5zM225.3 69.6h0.5v0.5h-0.5zM226.0 69.6h0.5v0.5h-0.5zM228.7 69.5h0.5v0.5h-0.5z" fill="#2e2e2e" opacity="0.9"/>
<g filter="url(#b2)"><path d="M207.5 46 L228 47 L229 66 L218 66 L207.5 58 Z" fill="#555" opacity="0.42"/></g>
<g filter="url(#b1)">
<path d="M207.4 37.6 L221 37.4 Q227 38.2 226.6 42.6 Q225.6 47 219 47 L207.4 46.4 Z" fill="#1a1a1a"/>
<path d="M208 40.4 L220 40.2 Q223.6 41 223 42.4 Q222.2 44 218 44 L208 43.6 Z" fill="#b4b4b4"/>
</g>
<g filter="url(#b05)">
<path d="M228 54 Q228.6 49.2 232.8 49.2 Q237.2 49.4 237.6 54 L237.6 70.6 L228 70.6 Z" fill="#161616"/>
<path d="M231 55 Q231.2 52.6 232.8 52.6 Q234.6 52.6 234.8 55 L234.8 68.6 L231 68.6 Z" fill="#bcbcbc"/>
</g>
<text x="220.8" y="35.15" font-size="4.7" text-anchor="middle" font-weight="bold" fill="#1c1c1c">43</text>
<text x="248" y="58.05" font-size="4.7" text-anchor="middle" font-weight="bold" fill="#1c1c1c">54.7</text>
<text x="114.7" y="116.4" font-size="10.6" text-anchor="middle" font-weight="normal" fill="#1a1a1a" textLength="161.7" lengthAdjust="spacingAndGlyphs">PERIPHERAL TFH CELL GATING</text>
<text x="43.6" y="133.2" font-size="9.8" text-anchor="middle" font-weight="normal" fill="#1a1a1a">Isotype</text>
<line x1="16" y1="141.0" x2="16" y2="191.8" stroke="#1c1c1c" stroke-width="1.0"/>
<line x1="15.5" y1="191.3" x2="69.1" y2="191.3" stroke="#1c1c1c" stroke-width="1.0"/>
<path d="M16 138.9 L18.1 142.9 L16 141.9 L13.9 142.9 Z" fill="#111"/>
<path d="M71.19999999999999 191.3 L67.19999999999999 189.20000000000002 L68.19999999999999 191.3 L67.19999999999999 193.4 Z" fill="#111"/>
<line x1="70.1" y1="140.7" x2="70.1" y2="186" stroke="#666" stroke-width="0.6"/>
<text x="12.84" y="166.8" font-size="8.2" text-anchor="middle" font-weight="normal" fill="#1a1a1a" transform="rotate(-90 12.84 166.8)">IgG1</text>
<text x="42" y="201.94" font-size="8.2" text-anchor="middle" font-weight="normal" fill="#1a1a1a">CD4</text>
<rect x="27.4" y="148" width="32.4" height="26.7" fill="none" stroke="#7a7a7a" stroke-width="0.7"/>
<g filter="url(#b05)">
<rect x="37.4" y="176" width="10" height="15" rx="2.4" fill="#1b1b1b"/>
<rect x="39.3" y="178" width="6.2" height="11" rx="2" fill="#8a8a8a"/>
<rect x="40.9" y="180" width="3" height="7" rx="1.4" fill="#bdbdbd"/>
</g>
<text x="64" y="151.65" font-size="4.7" text-anchor="middle" font-weight="bold" fill="#1c1c1c">0.032</text>
<text x="43.5" y="221.7" font-size="9.8" text-anchor="middle" font-weight="normal" fill="#1a1a1a">pTFH cells</text>
<line x1="16.3" y1="228.1" x2="16.3" y2="279.2" stroke="#1c1c1c" stroke-width="1.0"/>
<line x1="15.8" y1="278.7" x2="69.3" y2="278.7" stroke="#1c1c1c" stroke-width="1.0"/>
<path d="M16.3 226.0 L18.400000000000002 230.0 L16.3 229.0 L14.200000000000001 230.0 Z" fill="#111"/>
<path d="M71.39999999999999 278.7 L67.39999999999999 276.59999999999997 L68.39999999999999 278.7 L67.39999999999999 280.8 Z" fill="#111"/>
<line x1="70.3" y1="227.8" x2="70.3" y2="278" stroke="#666" stroke-width="0.6"/>
<text x="12.84" y="254" font-size="8.2" text-anchor="middle" font-weight="normal" fill="#1a1a1a" transform="rotate(-90 12.84 254)">CXCR5</text>
<text x="41.5" y="288.94" font-size="8.2" text-anchor="middle" font-weight="normal" fill="#1a1a1a">CD4</text>
<rect x="30.3" y="232.2" width="32.2" height="29.6" fill="none" stroke="#777" stroke-width="0.7"/>
<path d="M38.2 261.8 L38.2 278.2 M39.7 261.8 L39.7 278.2 M59.7 261.8 L59.7 278.2" fill="none" stroke="#888" stroke-width="0.6"/>
<g filter="url(#b05)">
<path d="M44.6 251 Q46.6 247 50 247.8 Q51 249 50.4 256 L50.4 262 Q52.4 268 52 273 L51 278.4 L43.6 278.4 Q42.6 270 44.2 263 Q44 256 44.6 251 Z" fill="#141414"/>
<path d="M46.4 252 Q47.6 250 48.8 250.6 L48.4 258 L46.6 258 Z" fill="#666"/>
<path d="M45.6 266 Q47.6 262 49.8 266 Q50.4 271 49.6 277 L45.6 277 Q45 271 45.6 266 Z" fill="#b0b0b0"/>
</g>
<line x1="47.6" y1="268" x2="47.6" y2="272.6" stroke="#222" stroke-width="0.7"/>
<text x="61.6" y="244.65" font-size="4.7" text-anchor="middle" font-weight="bold" fill="#1c1c1c">12.2</text>
<text x="60.6" y="275.25" font-size="4.7" text-anchor="middle" font-weight="bold" fill="#1c1c1c">87.8</text>
<path d="M48.9 242.8 L104.6 196" stroke="#111" stroke-width="1.25" fill="none"/>
<path d="M98.4 197.2 L104.9 195.7 L102.4 201.8" stroke="#111" stroke-width="1.2" fill="none"/>
<path d="M57.2 267.3 L103.4 273.3" stroke="#111" stroke-width="1.25" fill="none"/>
<path d="M98.6 269.4 L103.8 273.4 L97.8 275.9" stroke="#111" stroke-width="1.2" fill="none"/>
<text x="182.5" y="134.6" font-size="9.7" text-anchor="middle" font-weight="normal" fill="#1a1a1a" textLength="124.9" lengthAdjust="spacingAndGlyphs">Differentiation subsets gating</text>
<text x="180.2" y="153.2" font-size="10.1" text-anchor="middle" font-weight="normal" fill="#1a1a1a">CD4<tspan dy="-4.4" font-size="5.6">+</tspan><tspan dy="4.4">CXCR5</tspan><tspan dy="-4.4" font-size="5.6">+</tspan></text>
<line x1="117.6" y1="160.4" x2="117.6" y2="211" stroke="#1c1c1c" stroke-width="1.0"/>
<path d="M117.6 158.3 L119.69999999999999 162.3 L117.6 161.3 L115.5 162.3 Z" fill="#111"/>
<line x1="176.9" y1="159.9" x2="176.9" y2="211" stroke="#6e6e6e" stroke-width="0.6"/>
<line x1="132.8" y1="210.7" x2="166" y2="210.7" stroke="#6e6e6e" stroke-width="0.6"/>
<line x1="148.5" y1="159.9" x2="148.5" y2="211" stroke="#6e6e6e" stroke-width="0.6"/>
<line x1="117.6" y1="195" x2="176.9" y2="195" stroke="#6e6e6e" stroke-width="0.6"/>
<line x1="121.7" y1="215.2" x2="174.8" y2="215.2" stroke="#1c1c1c" stroke-width="1.0"/>
<path d="M176.9 215.2 L172.9 213.1 L173.9 215.2 L172.9 217.29999999999998 Z" fill="#111"/>
<text x="114.04" y="188.9" font-size="8.2" text-anchor="middle" font-weight="normal" fill="#1a1a1a" transform="rotate(-90 114.04 188.9)">CD27</text>
<text x="146.7" y="224.74" font-size="8.2" text-anchor="middle" font-weight="normal" fill="#1a1a1a">CD45RO</text>
<mask id="m3"><rect x="118" y="178" width="46" height="20" fill="url(#mg3)"/></mask>
<path d="M146.5 182.2h0.5v0.5h-0.5zM150.2 182.4h0.5v0.5h-0.5zM143.7 182.8h0.5v0.5h-0.5zM149.0 182.7h0.5v0.5h-0.5zM146.4 183.4h0.5v0.5h-0.5zM147.6 183.5h0.5v0.5h-0.5zM148.1 183.3h0.5v0.5h-0.5zM148.5 183.4h0.5v0.5h-0.5zM149.7 183.2h0.5v0.5h-0.5zM135.8 183.9h0.5v0.5h-0.5zM137.7 183.8h0.5v0.5h-0.5zM145.2 184.0h0.5v0.5h-0.5zM146.9 183.9h0.5v0.5h-0.5zM147.5 183.9h0.5v0.5h-0.5zM148.0 183.9h0.5v0.5h-0.5zM150.6 184.0h0.5v0.5h-0.5zM151.8 183.9h0.5v0.5h-0.5zM133.7 184.5h0.5v0.5h-0.5zM138.0 184.4h0.5v0.5h-0.5zM140.3 184.5h0.5v0.5h-0.5zM141.8 184.5h0.5v0.5h-0.5zM142.6 184.6h0.5v0.5h-0.5zM143.0 184.5h0.5v0.5h-0.5zM145.2 184.5h0.5v0.5h-0.5zM145.8 184.4h0.5v0.5h-0.5zM147.9 184.6h0.5v0.5h-0.5zM151.4 184.6h0.5v0.5h-0.5zM129.4 185.1h0.5v0.5h-0.5zM132.1 184.9h0.5v0.5h-0.5zM139.2 185.1h0.5v0.5h-0.5zM139.8 185.1h0.5v0.5h-0.5zM141.4 185.1h0.5v0.5h-0.5zM141.9 184.9h0.5v0.5h-0.5zM144.6 184.9h0.5v0.5h-0.5zM145.1 185.1h0.5v0.5h-0.5zM146.4 184.9h0.5v0.5h-0.5zM146.9 185.0h0.5v0.5h-0.5zM147.9 184.9h0.5v0.5h-0.5zM148.6 185.1h0.5v0.5h-0.5zM149.0 184.9h0.5v0.5h-0.5zM149.7 185.1h0.5v0.5h-0.5zM150.3 185.0h0.5v0.5h-0.5zM151.3 185.1h0.5v0.5h-0.5zM151.9 185.0h0.5v0.5h-0.5zM129.4 185.6h0.5v0.5h-0.5zM132.6 185.4h0.5v0.5h-0.5zM133.2 185.4h0.5v0.5h-0.5zM133.6 185.7h0.5v0.5h-0.5zM134.1 185.7h0.5v0.5h-0.5zM134.9 185.6h0.5v0.5h-0.5zM137.6 185.6h0.5v0.5h-0.5zM138.7 185.7h0.5v0.5h-0.5zM139.1 185.6h0.5v0.5h-0.5zM140.2 185.5h0.5v0.5h-0.5zM143.6 185.4h0.5v0.5h-0.5zM146.4 185.6h0.5v0.5h-0.5zM149.5 185.6h0.5v0.5h-0.5zM151.4 185.5h0.5v0.5h-0.5zM151.8 185.6h0.5v0.5h-0.5zM128.2 186.1h0.5v0.5h-0.5zM131.1 186.1h0.5v0.5h-0.5zM138.0 186.2h0.5v0.5h-0.5zM140.2 186.0h0.5v0.5h-0.5zM140.9 186.2h0.5v0.5h-0.5zM142.1 186.0h0.5v0.5h-0.5zM143.5 186.2h0.5v0.5h-0.5zM144.1 186.1h0.5v0.5h-0.5zM145.2 186.1h0.5v0.5h-0.5zM146.4 186.2h0.5v0.5h-0.5zM146.9 186.0h0.5v0.5h-0.5zM147.5 186.0h0.5v0.5h-0.5zM149.2 186.1h0.5v0.5h-0.5zM150.8 186.1h0.5v0.5h-0.5zM151.9 186.2h0.5v0.5h-0.5zM130.0 186.5h0.5v0.5h-0.5zM134.1 186.7h0.5v0.5h-0.5zM137.0 186.8h0.5v0.5h-0.5zM137.6 186.6h0.5v0.5h-0.5zM139.2 186.7h0.5v0.5h-0.5zM140.4 186.5h0.5v0.5h-0.5zM140.7 186.5h0.5v0.5h-0.5zM142.4 186.6h0.5v0.5h-0.5zM145.2 186.6h0.5v0.5h-0.5zM146.8 186.7h0.5v0.5h-0.5zM147.5 186.8h0.5v0.5h-0.5zM148.6 186.7h0.5v0.5h-0.5zM150.9 186.6h0.5v0.5h-0.5zM122.2 187.2h0.5v0.5h-0.5zM125.5 187.2h0.5v0.5h-0.5zM128.3 187.2h0.5v0.5h-0.5zM128.7 187.1h0.5v0.5h-0.5zM129.3 187.3h0.5v0.5h-0.5zM131.6 187.2h0.5v0.5h-0.5zM137.4 187.1h0.5v0.5h-0.5zM138.0 187.2h0.5v0.5h-0.5zM140.8 187.3h0.5v0.5h-0.5zM141.3 187.3h0.5v0.5h-0.5zM142.5 187.2h0.5v0.5h-0.5zM143.5 187.1h0.5v0.5h-0.5zM144.7 187.1h0.5v0.5h-0.5zM145.2 187.2h0.5v0.5h-0.5zM145.7 187.1h0.5v0.5h-0.5zM146.3 187.1h0.5v0.5h-0.5zM146.9 187.2h0.5v0.5h-0.5zM148.0 187.2h0.5v0.5h-0.5zM148.7 187.1h0.5v0.5h-0.5zM149.1 187.1h0.5v0.5h-0.5zM150.1 187.1h0.5v0.5h-0.5zM151.4 187.2h0.5v0.5h-0.5zM125.5 187.9h0.5v0.5h-0.5zM126.4 187.6h0.5v0.5h-0.5zM127.0 187.6h0.5v0.5h-0.5zM128.9 187.7h0.5v0.5h-0.5zM130.9 187.8h0.5v0.5h-0.5zM132.0 187.9h0.5v0.5h-0.5zM132.6 187.7h0.5v0.5h-0.5zM134.3 187.8h0.5v0.5h-0.5zM137.6 187.7h0.5v0.5h-0.5zM138.0 187.8h0.5v0.5h-0.5zM139.7 187.6h0.5v0.5h-0.5zM140.8 187.8h0.5v0.5h-0.5zM141.9 187.9h0.5v0.5h-0.5zM144.3 187.8h0.5v0.5h-0.5zM144.7 187.6h0.5v0.5h-0.5zM145.4 187.6h0.5v0.5h-0.5zM146.2 187.8h0.5v0.5h-0.5zM146.8 187.6h0.5v0.5h-0.5zM148.5 187.9h0.5v0.5h-0.5zM149.1 187.7h0.5v0.5h-0.5zM151.2 187.7h0.5v0.5h-0.5zM151.9 187.6h0.5v0.5h-0.5zM122.3 188.2h0.5v0.5h-0.5zM123.2 188.2h0.5v0.5h-0.5zM128.3 188.3h0.5v0.5h-0.5zM131.5 188.3h0.5v0.5h-0.5zM132.1 188.4h0.5v0.5h-0.5zM134.2 188.4h0.5v0.5h-0.5zM135.8 188.2h0.5v0.5h-0.5zM143.7 188.4h0.5v0.5h-0.5zM144.3 188.2h0.5v0.5h-0.5zM144.8 188.2h0.5v0.5h-0.5zM146.4 188.2h0.5v0.5h-0.5zM146.9 188.4h0.5v0.5h-0.5zM147.9 188.2h0.5v0.5h-0.5zM148.4 188.2h0.5v0.5h-0.5zM151.7 188.2h0.5v0.5h-0.5zM128.6 188.9h0.5v0.5h-0.5zM129.7 188.8h0.5v0.5h-0.5zM133.1 188.7h0.5v0.5h-0.5zM134.8 188.7h0.5v0.5h-0.5zM136.0 188.8h0.5v0.5h-0.5zM136.3 188.8h0.5v0.5h-0.5zM139.1 188.9h0.5v0.5h-0.5zM141.9 188.7h0.5v0.5h-0.5zM146.9 188.8h0.5v0.5h-0.5zM147.5 189.0h0.5v0.5h-0.5zM148.5 188.8h0.5v0.5h-0.5zM149.8 188.7h0.5v0.5h-0.5zM150.2 188.8h0.5v0.5h-0.5zM122.7 189.4h0.5v0.5h-0.5zM135.8 189.5h0.5v0.5h-0.5zM136.4 189.3h0.5v0.5h-0.5zM137.0 189.5h0.5v0.5h-0.5zM139.1 189.5h0.5v0.5h-0.5zM139.7 189.4h0.5v0.5h-0.5zM140.3 189.3h0.5v0.5h-0.5zM141.0 189.3h0.5v0.5h-0.5zM142.1 189.5h0.5v0.5h-0.5zM142.9 189.5h0.5v0.5h-0.5zM143.5 189.5h0.5v0.5h-0.5zM144.8 189.4h0.5v0.5h-0.5zM145.1 189.4h0.5v0.5h-0.5zM146.2 189.3h0.5v0.5h-0.5zM146.9 189.5h0.5v0.5h-0.5zM147.4 189.5h0.5v0.5h-0.5zM149.1 189.5h0.5v0.5h-0.5zM150.6 189.4h0.5v0.5h-0.5zM132.7 189.9h0.5v0.5h-0.5zM133.6 190.1h0.5v0.5h-0.5zM137.0 189.9h0.5v0.5h-0.5zM137.6 189.9h0.5v0.5h-0.5zM143.2 189.9h0.5v0.5h-0.5zM143.6 190.0h0.5v0.5h-0.5zM145.4 189.9h0.5v0.5h-0.5zM149.6 190.1h0.5v0.5h-0.5zM150.9 189.9h0.5v0.5h-0.5zM151.8 190.0h0.5v0.5h-0.5zM136.9 190.4h0.5v0.5h-0.5zM138.1 190.6h0.5v0.5h-0.5zM142.6 190.5h0.5v0.5h-0.5zM144.1 190.6h0.5v0.5h-0.5zM145.1 190.5h0.5v0.5h-0.5zM145.9 190.4h0.5v0.5h-0.5zM146.3 190.5h0.5v0.5h-0.5zM149.2 190.6h0.5v0.5h-0.5zM149.6 190.6h0.5v0.5h-0.5zM150.6 190.5h0.5v0.5h-0.5zM135.9 190.9h0.5v0.5h-0.5zM138.0 191.0h0.5v0.5h-0.5zM141.9 191.2h0.5v0.5h-0.5zM142.5 191.1h0.5v0.5h-0.5zM145.7 191.0h0.5v0.5h-0.5zM147.0 191.0h0.5v0.5h-0.5zM148.7 191.0h0.5v0.5h-0.5zM149.0 190.9h0.5v0.5h-0.5zM151.8 191.0h0.5v0.5h-0.5zM144.2 191.6h0.5v0.5h-0.5zM147.0 191.7h0.5v0.5h-0.5zM150.3 191.7h0.5v0.5h-0.5zM148.4 192.2h0.5v0.5h-0.5zM146.4 192.8h0.5v0.5h-0.5zM150.8 192.6h0.5v0.5h-0.5zM151.8 192.6h0.5v0.5h-0.5zM150.2 193.2h0.5v0.5h-0.5zM151.9 193.4h0.5v0.5h-0.5z" fill="#2e2e2e" opacity="0.9"/>
<g filter="url(#b1)">
<path d="M122 185.2 L136 184.4 L146 183 L158 181.6 L163.2 184 L159 194 L155.6 195 L149 190.6 L136 190.8 L122 189.6 Z" fill="url(#bandg)"/>
<path d="M142.4 183.8 L158.6 181.4 Q163.6 182.2 163.2 185 L159.4 193.6 Q157.6 195.6 155.4 194.6 L148 189.8 Z" fill="#aaa" fill-opacity="0.4" stroke="#444" stroke-width="0.8" stroke-linejoin="round"/>
<path d="M156 196 L160 203" stroke="#999" stroke-width="3" opacity="0.22" fill="none"/>
</g>
<circle cx="158.2" cy="185.4" r="0.7" fill="#222"/>
<text x="125" y="163.65" font-size="4.7" text-anchor="middle" font-weight="bold" fill="#1c1c1c">15.2</text>
<text x="170.2" y="163.65" font-size="4.7" text-anchor="middle" font-weight="bold" fill="#1c1c1c">83.3</text>
<text x="126.8" y="210.55" font-size="4.7" text-anchor="middle" font-weight="bold" fill="#1c1c1c">0.11</text>
<text x="170.7" y="210.55" font-size="4.7" text-anchor="middle" font-weight="bold" fill="#1c1c1c">1.35</text>
<text x="137.4" y="171.93" font-size="7.9" text-anchor="middle" font-weight="normal" fill="#1a1a1a">N</text>
<text x="163" y="173.23" font-size="7.9" text-anchor="middle" font-weight="normal" fill="#1a1a1a">CM</text>
<text x="165.2" y="204.33" font-size="7.9" text-anchor="middle" font-weight="normal" fill="#1a1a1a">EM</text>
<line x1="196.3" y1="160.4" x2="196.3" y2="212" stroke="#1c1c1c" stroke-width="1.0"/>
<path d="M196.3 158.3 L198.4 162.3 L196.3 161.3 L194.20000000000002 162.3 Z" fill="#111"/>
<line x1="255.2" y1="159.9" x2="255.2" y2="212" stroke="#6e6e6e" stroke-width="0.6"/>
<line x1="200.6" y1="211.7" x2="255.2" y2="211.7" stroke="#6e6e6e" stroke-width="0.6"/>
<line x1="226" y1="159.9" x2="226" y2="212" stroke="#6e6e6e" stroke-width="0.6"/>
<line x1="196.3" y1="194.1" x2="255.2" y2="194.1" stroke="#6e6e6e" stroke-width="0.6"/>
<line x1="200.60000000000002" y1="160.20000000000002" x2="255.2" y2="160.20000000000002" stroke="#6e6e6e" stroke-width="0.6"/>
<line x1="200.60000000000002" y1="160.20000000000002" x2="200.60000000000002" y2="212" stroke="#6e6e6e" stroke-width="0.6"/>
<line x1="196.3" y1="215.2" x2="249.1" y2="215.2" stroke="#1c1c1c" stroke-width="1.0"/>
<path d="M251.2 215.2 L247.2 213.1 L248.2 215.2 L247.2 217.29999999999998 Z" fill="#111"/>
<text x="192.44" y="188" font-size="8.2" text-anchor="middle" font-weight="normal" fill="#1a1a1a" transform="rotate(-90 192.44 188)">CD57</text>
<text x="224.7" y="224.74" font-size="8.2" text-anchor="middle" font-weight="normal" fill="#1a1a1a">CD45RO</text>
<text x="212.6" y="177.51" font-size="8.7" text-anchor="middle" font-weight="normal" fill="#1a1a1a">TE</text>
<text x="237.3" y="177.51" font-size="8.7" text-anchor="middle" font-weight="normal" fill="#1a1a1a">E</text>
<mask id="m4"><rect x="200" y="194" width="50" height="19" fill="url(#mg4)"/></mask>
<path d="M215.9 196.0h0.5v0.5h-0.5zM218.2 196.1h0.5v0.5h-0.5zM224.1 196.0h0.5v0.5h-0.5zM224.6 196.0h0.5v0.5h-0.5zM228.0 195.9h0.5v0.5h-0.5zM232.3 195.9h0.5v0.5h-0.5zM235.1 195.8h0.5v0.5h-0.5zM238.4 196.1h0.5v0.5h-0.5zM205.3 196.4h0.5v0.5h-0.5zM209.7 196.4h0.5v0.5h-0.5zM211.5 196.4h0.5v0.5h-0.5zM217.0 196.4h0.5v0.5h-0.5zM219.1 196.4h0.5v0.5h-0.5zM221.3 196.6h0.5v0.5h-0.5zM226.3 196.6h0.5v0.5h-0.5zM234.2 196.6h0.5v0.5h-0.5zM235.3 196.4h0.5v0.5h-0.5zM236.7 196.5h0.5v0.5h-0.5zM239.7 196.4h0.5v0.5h-0.5zM240.7 196.6h0.5v0.5h-0.5zM206.4 197.1h0.5v0.5h-0.5zM211.1 197.1h0.5v0.5h-0.5zM211.5 197.0h0.5v0.5h-0.5zM214.7 197.1h0.5v0.5h-0.5zM218.2 197.0h0.5v0.5h-0.5zM221.0 197.0h0.5v0.5h-0.5zM221.4 197.0h0.5v0.5h-0.5zM223.5 197.1h0.5v0.5h-0.5zM225.7 197.2h0.5v0.5h-0.5zM229.8 197.0h0.5v0.5h-0.5zM230.9 197.1h0.5v0.5h-0.5zM232.5 197.0h0.5v0.5h-0.5zM233.4 196.9h0.5v0.5h-0.5zM234.7 197.0h0.5v0.5h-0.5zM236.8 197.2h0.5v0.5h-0.5zM237.4 197.0h0.5v0.5h-0.5zM238.3 197.2h0.5v0.5h-0.5zM217.5 197.6h0.5v0.5h-0.5zM220.7 197.7h0.5v0.5h-0.5zM223.5 197.5h0.5v0.5h-0.5zM225.7 197.5h0.5v0.5h-0.5zM227.0 197.7h0.5v0.5h-0.5zM228.6 197.5h0.5v0.5h-0.5zM229.0 197.5h0.5v0.5h-0.5zM229.5 197.7h0.5v0.5h-0.5zM230.3 197.7h0.5v0.5h-0.5zM236.4 197.6h0.5v0.5h-0.5zM236.7 197.7h0.5v0.5h-0.5zM241.3 197.5h0.5v0.5h-0.5zM212.1 198.3h0.5v0.5h-0.5zM214.8 198.1h0.5v0.5h-0.5zM224.2 198.1h0.5v0.5h-0.5zM225.7 198.0h0.5v0.5h-0.5zM228.1 198.2h0.5v0.5h-0.5zM229.2 198.2h0.5v0.5h-0.5zM230.3 198.0h0.5v0.5h-0.5zM231.3 198.3h0.5v0.5h-0.5zM232.9 198.2h0.5v0.5h-0.5zM233.5 198.3h0.5v0.5h-0.5zM237.8 198.3h0.5v0.5h-0.5zM203.7 198.6h0.5v0.5h-0.5zM206.1 198.6h0.5v0.5h-0.5zM213.8 198.6h0.5v0.5h-0.5zM216.0 198.6h0.5v0.5h-0.5zM217.1 198.6h0.5v0.5h-0.5zM217.4 198.6h0.5v0.5h-0.5zM220.8 198.8h0.5v0.5h-0.5zM223.2 198.8h0.5v0.5h-0.5zM224.6 198.6h0.5v0.5h-0.5zM227.0 198.8h0.5v0.5h-0.5zM227.9 198.6h0.5v0.5h-0.5zM228.6 198.6h0.5v0.5h-0.5zM229.6 198.8h0.5v0.5h-0.5zM230.7 198.8h0.5v0.5h-0.5zM231.2 198.6h0.5v0.5h-0.5zM234.0 198.8h0.5v0.5h-0.5zM235.1 198.7h0.5v0.5h-0.5zM236.7 198.8h0.5v0.5h-0.5zM238.4 198.7h0.5v0.5h-0.5zM203.8 199.3h0.5v0.5h-0.5zM204.8 199.2h0.5v0.5h-0.5zM214.9 199.3h0.5v0.5h-0.5zM216.0 199.3h0.5v0.5h-0.5zM216.5 199.4h0.5v0.5h-0.5zM217.1 199.3h0.5v0.5h-0.5zM218.5 199.2h0.5v0.5h-0.5zM219.7 199.2h0.5v0.5h-0.5zM221.9 199.1h0.5v0.5h-0.5zM224.1 199.1h0.5v0.5h-0.5zM224.8 199.2h0.5v0.5h-0.5zM227.0 199.4h0.5v0.5h-0.5zM227.9 199.2h0.5v0.5h-0.5zM229.0 199.3h0.5v0.5h-0.5zM232.4 199.1h0.5v0.5h-0.5zM233.0 199.2h0.5v0.5h-0.5zM233.4 199.3h0.5v0.5h-0.5zM234.1 199.1h0.5v0.5h-0.5zM235.2 199.3h0.5v0.5h-0.5zM236.2 199.3h0.5v0.5h-0.5zM237.9 199.2h0.5v0.5h-0.5zM213.3 199.7h0.5v0.5h-0.5zM213.8 199.7h0.5v0.5h-0.5zM217.5 199.9h0.5v0.5h-0.5zM218.7 199.7h0.5v0.5h-0.5zM219.1 199.9h0.5v0.5h-0.5zM221.9 199.9h0.5v0.5h-0.5zM222.5 199.9h0.5v0.5h-0.5zM224.8 199.8h0.5v0.5h-0.5zM225.2 199.7h0.5v0.5h-0.5zM225.7 199.7h0.5v0.5h-0.5zM226.4 199.9h0.5v0.5h-0.5zM227.5 199.9h0.5v0.5h-0.5zM228.1 199.7h0.5v0.5h-0.5zM231.4 199.9h0.5v0.5h-0.5zM233.5 199.7h0.5v0.5h-0.5zM235.6 199.8h0.5v0.5h-0.5zM239.1 199.7h0.5v0.5h-0.5zM214.7 200.5h0.5v0.5h-0.5zM216.5 200.4h0.5v0.5h-0.5zM217.1 200.5h0.5v0.5h-0.5zM218.0 200.2h0.5v0.5h-0.5zM220.4 200.2h0.5v0.5h-0.5zM221.3 200.3h0.5v0.5h-0.5zM222.4 200.3h0.5v0.5h-0.5zM223.1 200.4h0.5v0.5h-0.5zM224.7 200.2h0.5v0.5h-0.5zM225.1 200.5h0.5v0.5h-0.5zM225.9 200.5h0.5v0.5h-0.5zM226.3 200.3h0.5v0.5h-0.5zM226.9 200.2h0.5v0.5h-0.5zM231.4 200.5h0.5v0.5h-0.5zM231.7 200.3h0.5v0.5h-0.5zM232.5 200.4h0.5v0.5h-0.5zM233.5 200.3h0.5v0.5h-0.5zM234.5 200.3h0.5v0.5h-0.5zM236.4 200.4h0.5v0.5h-0.5zM236.9 200.5h0.5v0.5h-0.5zM240.8 200.4h0.5v0.5h-0.5zM241.1 200.2h0.5v0.5h-0.5zM202.2 200.8h0.5v0.5h-0.5zM206.5 200.9h0.5v0.5h-0.5zM213.1 201.0h0.5v0.5h-0.5zM214.7 200.9h0.5v0.5h-0.5zM220.2 200.9h0.5v0.5h-0.5zM224.1 200.9h0.5v0.5h-0.5zM225.8 200.8h0.5v0.5h-0.5zM226.3 200.8h0.5v0.5h-0.5zM227.4 200.9h0.5v0.5h-0.5zM228.5 200.9h0.5v0.5h-0.5zM229.7 200.8h0.5v0.5h-0.5zM230.8 200.8h0.5v0.5h-0.5zM231.9 201.0h0.5v0.5h-0.5zM232.3 201.0h0.5v0.5h-0.5zM232.9 200.9h0.5v0.5h-0.5zM233.5 200.9h0.5v0.5h-0.5zM234.0 201.0h0.5v0.5h-0.5zM238.0 200.8h0.5v0.5h-0.5zM240.2 201.0h0.5v0.5h-0.5zM240.7 200.8h0.5v0.5h-0.5zM202.1 201.4h0.5v0.5h-0.5zM203.7 201.4h0.5v0.5h-0.5zM210.9 201.4h0.5v0.5h-0.5zM212.1 201.4h0.5v0.5h-0.5zM213.2 201.3h0.5v0.5h-0.5zM215.3 201.5h0.5v0.5h-0.5zM217.7 201.5h0.5v0.5h-0.5zM219.2 201.4h0.5v0.5h-0.5zM222.0 201.5h0.5v0.5h-0.5zM223.1 201.5h0.5v0.5h-0.5zM223.5 201.5h0.5v0.5h-0.5zM224.3 201.4h0.5v0.5h-0.5zM224.7 201.5h0.5v0.5h-0.5zM226.3 201.5h0.5v0.5h-0.5zM226.9 201.4h0.5v0.5h-0.5zM230.3 201.4h0.5v0.5h-0.5zM230.7 201.3h0.5v0.5h-0.5zM231.3 201.3h0.5v0.5h-0.5zM231.8 201.6h0.5v0.5h-0.5zM232.4 201.4h0.5v0.5h-0.5zM232.9 201.4h0.5v0.5h-0.5zM233.5 201.5h0.5v0.5h-0.5zM236.3 201.4h0.5v0.5h-0.5zM237.4 201.4h0.5v0.5h-0.5zM203.1 202.0h0.5v0.5h-0.5zM208.8 201.9h0.5v0.5h-0.5zM212.1 202.1h0.5v0.5h-0.5zM212.5 201.9h0.5v0.5h-0.5zM213.7 202.1h0.5v0.5h-0.5zM214.3 202.0h0.5v0.5h-0.5zM216.0 202.0h0.5v0.5h-0.5zM218.5 202.1h0.5v0.5h-0.5zM220.9 202.0h0.5v0.5h-0.5zM221.4 202.1h0.5v0.5h-0.5zM223.0 202.0h0.5v0.5h-0.5zM227.4 202.1h0.5v0.5h-0.5zM228.1 201.9h0.5v0.5h-0.5zM229.1 202.0h0.5v0.5h-0.5zM230.7 202.1h0.5v0.5h-0.5zM231.2 201.9h0.5v0.5h-0.5zM233.5 201.9h0.5v0.5h-0.5zM234.5 202.0h0.5v0.5h-0.5zM235.2 201.9h0.5v0.5h-0.5zM235.8 201.9h0.5v0.5h-0.5zM236.3 202.0h0.5v0.5h-0.5zM238.4 202.0h0.5v0.5h-0.5zM241.2 202.0h0.5v0.5h-0.5zM210.8 202.6h0.5v0.5h-0.5zM218.1 202.4h0.5v0.5h-0.5zM218.6 202.6h0.5v0.5h-0.5zM219.3 202.7h0.5v0.5h-0.5zM220.9 202.6h0.5v0.5h-0.5zM221.5 202.5h0.5v0.5h-0.5zM222.9 202.6h0.5v0.5h-0.5zM223.5 202.7h0.5v0.5h-0.5zM224.1 202.5h0.5v0.5h-0.5zM225.2 202.4h0.5v0.5h-0.5zM225.9 202.6h0.5v0.5h-0.5zM227.4 202.6h0.5v0.5h-0.5zM228.1 202.5h0.5v0.5h-0.5zM230.7 202.5h0.5v0.5h-0.5zM234.7 202.6h0.5v0.5h-0.5zM235.0 202.6h0.5v0.5h-0.5zM235.7 202.6h0.5v0.5h-0.5zM236.2 202.4h0.5v0.5h-0.5zM237.8 202.4h0.5v0.5h-0.5zM239.6 202.4h0.5v0.5h-0.5zM240.0 202.6h0.5v0.5h-0.5zM240.7 202.5h0.5v0.5h-0.5zM241.8 202.5h0.5v0.5h-0.5zM209.2 203.2h0.5v0.5h-0.5zM211.9 203.2h0.5v0.5h-0.5zM214.8 203.2h0.5v0.5h-0.5zM218.5 203.1h0.5v0.5h-0.5zM220.8 203.1h0.5v0.5h-0.5zM222.4 203.1h0.5v0.5h-0.5zM224.1 203.1h0.5v0.5h-0.5zM225.9 203.2h0.5v0.5h-0.5zM229.2 203.2h0.5v0.5h-0.5zM231.8 203.2h0.5v0.5h-0.5zM234.0 203.1h0.5v0.5h-0.5zM240.2 203.2h0.5v0.5h-0.5zM205.5 203.6h0.5v0.5h-0.5zM210.3 203.6h0.5v0.5h-0.5zM212.1 203.8h0.5v0.5h-0.5zM214.3 203.7h0.5v0.5h-0.5zM216.9 203.8h0.5v0.5h-0.5zM223.5 203.7h0.5v0.5h-0.5zM225.4 203.7h0.5v0.5h-0.5zM225.9 203.5h0.5v0.5h-0.5zM228.0 203.6h0.5v0.5h-0.5zM230.2 203.8h0.5v0.5h-0.5zM232.9 203.7h0.5v0.5h-0.5zM235.8 203.8h0.5v0.5h-0.5zM236.9 203.6h0.5v0.5h-0.5zM237.4 203.6h0.5v0.5h-0.5zM238.6 203.6h0.5v0.5h-0.5zM239.5 203.7h0.5v0.5h-0.5zM240.5 203.8h0.5v0.5h-0.5zM206.5 204.3h0.5v0.5h-0.5zM214.8 204.2h0.5v0.5h-0.5zM218.0 204.1h0.5v0.5h-0.5zM218.8 204.3h0.5v0.5h-0.5zM223.0 204.1h0.5v0.5h-0.5zM225.4 204.1h0.5v0.5h-0.5zM226.4 204.2h0.5v0.5h-0.5zM226.9 204.2h0.5v0.5h-0.5zM227.3 204.2h0.5v0.5h-0.5zM227.9 204.1h0.5v0.5h-0.5zM229.1 204.1h0.5v0.5h-0.5zM229.7 204.2h0.5v0.5h-0.5zM230.3 204.2h0.5v0.5h-0.5zM230.9 204.2h0.5v0.5h-0.5zM231.3 204.1h0.5v0.5h-0.5zM232.8 204.3h0.5v0.5h-0.5zM234.0 204.1h0.5v0.5h-0.5zM237.4 204.2h0.5v0.5h-0.5zM241.9 204.2h0.5v0.5h-0.5zM202.6 204.8h0.5v0.5h-0.5zM209.7 204.7h0.5v0.5h-0.5zM214.7 204.7h0.5v0.5h-0.5zM216.3 204.6h0.5v0.5h-0.5zM218.0 204.8h0.5v0.5h-0.5zM218.5 204.8h0.5v0.5h-0.5zM219.3 204.6h0.5v0.5h-0.5zM220.8 204.8h0.5v0.5h-0.5zM222.4 204.7h0.5v0.5h-0.5zM223.1 204.8h0.5v0.5h-0.5zM224.1 204.9h0.5v0.5h-0.5zM224.7 204.6h0.5v0.5h-0.5zM225.7 204.7h0.5v0.5h-0.5zM226.3 204.7h0.5v0.5h-0.5zM226.9 204.7h0.5v0.5h-0.5zM228.6 204.6h0.5v0.5h-0.5zM229.1 204.7h0.5v0.5h-0.5zM230.2 204.8h0.5v0.5h-0.5zM231.4 204.7h0.5v0.5h-0.5zM231.7 204.6h0.5v0.5h-0.5zM232.3 204.8h0.5v0.5h-0.5zM234.5 204.8h0.5v0.5h-0.5zM235.7 204.9h0.5v0.5h-0.5zM236.4 204.6h0.5v0.5h-0.5zM237.8 204.7h0.5v0.5h-0.5zM240.1 204.8h0.5v0.5h-0.5zM240.7 204.7h0.5v0.5h-0.5zM208.7 205.4h0.5v0.5h-0.5zM209.8 205.4h0.5v0.5h-0.5zM214.3 205.3h0.5v0.5h-0.5zM214.8 205.2h0.5v0.5h-0.5zM215.4 205.2h0.5v0.5h-0.5zM218.7 205.2h0.5v0.5h-0.5zM219.2 205.3h0.5v0.5h-0.5zM220.9 205.2h0.5v0.5h-0.5zM223.0 205.3h0.5v0.5h-0.5zM223.6 205.4h0.5v0.5h-0.5zM225.3 205.3h0.5v0.5h-0.5zM225.9 205.3h0.5v0.5h-0.5zM226.4 205.4h0.5v0.5h-0.5zM226.9 205.2h0.5v0.5h-0.5zM228.6 205.4h0.5v0.5h-0.5zM229.0 205.4h0.5v0.5h-0.5zM229.6 205.2h0.5v0.5h-0.5zM230.3 205.3h0.5v0.5h-0.5zM231.9 205.4h0.5v0.5h-0.5zM232.4 205.2h0.5v0.5h-0.5zM234.7 205.2h0.5v0.5h-0.5zM236.2 205.3h0.5v0.5h-0.5zM237.3 205.4h0.5v0.5h-0.5zM238.0 205.4h0.5v0.5h-0.5zM240.0 205.4h0.5v0.5h-0.5zM240.7 205.2h0.5v0.5h-0.5zM204.4 205.9h0.5v0.5h-0.5zM205.5 205.8h0.5v0.5h-0.5zM214.9 205.9h0.5v0.5h-0.5zM215.2 205.8h0.5v0.5h-0.5zM217.6 205.9h0.5v0.5h-0.5zM220.8 205.9h0.5v0.5h-0.5zM221.3 205.9h0.5v0.5h-0.5zM223.7 206.0h0.5v0.5h-0.5zM224.6 205.9h0.5v0.5h-0.5zM225.1 205.9h0.5v0.5h-0.5zM227.0 205.8h0.5v0.5h-0.5zM227.5 205.8h0.5v0.5h-0.5zM228.1 205.9h0.5v0.5h-0.5zM229.2 205.8h0.5v0.5h-0.5zM229.7 205.9h0.5v0.5h-0.5zM232.4 205.8h0.5v0.5h-0.5zM232.9 205.9h0.5v0.5h-0.5zM233.5 206.0h0.5v0.5h-0.5zM234.7 206.0h0.5v0.5h-0.5zM235.7 205.7h0.5v0.5h-0.5zM236.8 205.7h0.5v0.5h-0.5zM239.6 205.9h0.5v0.5h-0.5zM241.1 205.9h0.5v0.5h-0.5zM207.2 206.4h0.5v0.5h-0.5zM208.9 206.3h0.5v0.5h-0.5zM209.4 206.3h0.5v0.5h-0.5zM219.3 206.3h0.5v0.5h-0.5zM220.2 206.3h0.5v0.5h-0.5zM221.3 206.4h0.5v0.5h-0.5zM221.8 206.3h0.5v0.5h-0.5zM222.6 206.5h0.5v0.5h-0.5zM224.7 206.3h0.5v0.5h-0.5zM225.8 206.4h0.5v0.5h-0.5zM226.4 206.4h0.5v0.5h-0.5zM228.5 206.5h0.5v0.5h-0.5zM229.1 206.5h0.5v0.5h-0.5zM229.6 206.5h0.5v0.5h-0.5zM230.1 206.4h0.5v0.5h-0.5zM233.1 206.4h0.5v0.5h-0.5zM233.5 206.4h0.5v0.5h-0.5zM234.0 206.3h0.5v0.5h-0.5zM234.5 206.5h0.5v0.5h-0.5zM235.1 206.3h0.5v0.5h-0.5zM236.7 206.3h0.5v0.5h-0.5zM240.7 206.4h0.5v0.5h-0.5zM204.3 207.0h0.5v0.5h-0.5zM207.1 206.9h0.5v0.5h-0.5zM210.5 206.9h0.5v0.5h-0.5zM213.8 207.1h0.5v0.5h-0.5zM217.0 206.9h0.5v0.5h-0.5zM218.2 206.9h0.5v0.5h-0.5zM222.6 207.1h0.5v0.5h-0.5zM223.0 207.0h0.5v0.5h-0.5zM224.2 207.1h0.5v0.5h-0.5zM224.6 206.9h0.5v0.5h-0.5zM225.4 207.0h0.5v0.5h-0.5zM225.9 207.0h0.5v0.5h-0.5zM226.5 207.0h0.5v0.5h-0.5zM226.9 206.9h0.5v0.5h-0.5zM227.5 206.9h0.5v0.5h-0.5zM228.6 207.1h0.5v0.5h-0.5zM229.0 207.1h0.5v0.5h-0.5zM230.8 206.9h0.5v0.5h-0.5zM231.3 207.0h0.5v0.5h-0.5zM233.6 206.9h0.5v0.5h-0.5zM235.1 207.0h0.5v0.5h-0.5zM236.2 207.0h0.5v0.5h-0.5zM236.8 207.0h0.5v0.5h-0.5zM237.2 207.1h0.5v0.5h-0.5zM202.6 207.5h0.5v0.5h-0.5zM203.9 207.6h0.5v0.5h-0.5zM204.4 207.6h0.5v0.5h-0.5zM215.3 207.5h0.5v0.5h-0.5zM215.9 207.6h0.5v0.5h-0.5zM219.8 207.4h0.5v0.5h-0.5zM220.8 207.4h0.5v0.5h-0.5zM222.6 207.4h0.5v0.5h-0.5zM222.9 207.4h0.5v0.5h-0.5zM223.6 207.6h0.5v0.5h-0.5zM224.8 207.6h0.5v0.5h-0.5zM225.8 207.4h0.5v0.5h-0.5zM228.5 207.5h0.5v0.5h-0.5zM229.0 207.5h0.5v0.5h-0.5zM230.9 207.4h0.5v0.5h-0.5zM231.3 207.5h0.5v0.5h-0.5zM234.7 207.5h0.5v0.5h-0.5zM236.1 207.6h0.5v0.5h-0.5zM237.9 207.5h0.5v0.5h-0.5zM238.5 207.4h0.5v0.5h-0.5zM239.6 207.5h0.5v0.5h-0.5zM241.6 207.5h0.5v0.5h-0.5zM211.0 208.0h0.5v0.5h-0.5zM214.8 208.0h0.5v0.5h-0.5zM215.9 208.2h0.5v0.5h-0.5zM216.4 208.1h0.5v0.5h-0.5zM217.1 208.0h0.5v0.5h-0.5zM219.2 208.1h0.5v0.5h-0.5zM219.7 207.9h0.5v0.5h-0.5zM220.9 208.1h0.5v0.5h-0.5zM222.0 208.1h0.5v0.5h-0.5zM222.9 208.0h0.5v0.5h-0.5zM224.2 208.2h0.5v0.5h-0.5zM225.3 208.2h0.5v0.5h-0.5zM226.4 208.0h0.5v0.5h-0.5zM226.9 208.2h0.5v0.5h-0.5zM227.4 208.1h0.5v0.5h-0.5zM228.7 208.1h0.5v0.5h-0.5zM229.7 208.1h0.5v0.5h-0.5zM230.1 208.0h0.5v0.5h-0.5zM231.3 208.0h0.5v0.5h-0.5zM231.8 207.9h0.5v0.5h-0.5zM232.4 208.0h0.5v0.5h-0.5zM232.8 208.1h0.5v0.5h-0.5zM233.5 208.1h0.5v0.5h-0.5zM239.1 208.1h0.5v0.5h-0.5zM203.8 208.6h0.5v0.5h-0.5zM204.4 208.7h0.5v0.5h-0.5zM205.9 208.7h0.5v0.5h-0.5zM214.8 208.5h0.5v0.5h-0.5zM215.4 208.7h0.5v0.5h-0.5zM217.0 208.6h0.5v0.5h-0.5zM219.7 208.7h0.5v0.5h-0.5zM221.9 208.5h0.5v0.5h-0.5zM222.5 208.6h0.5v0.5h-0.5zM223.1 208.5h0.5v0.5h-0.5zM223.6 208.6h0.5v0.5h-0.5zM225.4 208.7h0.5v0.5h-0.5zM226.2 208.6h0.5v0.5h-0.5zM227.6 208.7h0.5v0.5h-0.5zM229.2 208.6h0.5v0.5h-0.5zM230.1 208.7h0.5v0.5h-0.5zM230.7 208.5h0.5v0.5h-0.5zM234.0 208.6h0.5v0.5h-0.5zM234.7 208.5h0.5v0.5h-0.5zM236.2 208.5h0.5v0.5h-0.5zM239.0 208.5h0.5v0.5h-0.5zM208.1 209.2h0.5v0.5h-0.5zM210.4 209.1h0.5v0.5h-0.5zM212.6 209.0h0.5v0.5h-0.5zM216.5 209.2h0.5v0.5h-0.5zM221.5 209.2h0.5v0.5h-0.5zM223.5 209.0h0.5v0.5h-0.5zM226.2 209.0h0.5v0.5h-0.5zM227.0 209.1h0.5v0.5h-0.5zM227.5 209.0h0.5v0.5h-0.5zM229.0 209.2h0.5v0.5h-0.5zM230.1 209.0h0.5v0.5h-0.5zM230.7 209.0h0.5v0.5h-0.5zM233.0 209.1h0.5v0.5h-0.5zM233.5 209.1h0.5v0.5h-0.5zM233.9 209.3h0.5v0.5h-0.5zM236.8 209.1h0.5v0.5h-0.5zM237.2 209.3h0.5v0.5h-0.5zM238.9 209.0h0.5v0.5h-0.5zM208.6 209.6h0.5v0.5h-0.5zM209.7 209.6h0.5v0.5h-0.5zM212.6 209.7h0.5v0.5h-0.5zM213.6 209.8h0.5v0.5h-0.5zM217.0 209.8h0.5v0.5h-0.5zM219.3 209.6h0.5v0.5h-0.5zM221.4 209.6h0.5v0.5h-0.5zM223.7 209.6h0.5v0.5h-0.5zM224.0 209.7h0.5v0.5h-0.5zM224.8 209.6h0.5v0.5h-0.5zM226.5 209.8h0.5v0.5h-0.5zM226.9 209.6h0.5v0.5h-0.5zM227.6 209.8h0.5v0.5h-0.5zM228.1 209.7h0.5v0.5h-0.5zM230.3 209.6h0.5v0.5h-0.5zM230.6 209.8h0.5v0.5h-0.5zM231.4 209.6h0.5v0.5h-0.5zM231.9 209.7h0.5v0.5h-0.5zM232.4 209.8h0.5v0.5h-0.5zM233.0 209.7h0.5v0.5h-0.5zM235.8 209.6h0.5v0.5h-0.5zM241.3 209.6h0.5v0.5h-0.5zM202.0 210.2h0.5v0.5h-0.5zM202.7 210.1h0.5v0.5h-0.5zM205.4 210.1h0.5v0.5h-0.5zM207.8 210.2h0.5v0.5h-0.5zM208.3 210.3h0.5v0.5h-0.5zM210.5 210.2h0.5v0.5h-0.5zM221.4 210.1h0.5v0.5h-0.5zM221.8 210.2h0.5v0.5h-0.5zM222.5 210.1h0.5v0.5h-0.5zM223.5 210.1h0.5v0.5h-0.5zM224.8 210.1h0.5v0.5h-0.5zM225.2 210.3h0.5v0.5h-0.5zM225.9 210.3h0.5v0.5h-0.5zM226.8 210.3h0.5v0.5h-0.5zM227.5 210.2h0.5v0.5h-0.5zM228.5 210.2h0.5v0.5h-0.5zM229.1 210.3h0.5v0.5h-0.5zM229.8 210.1h0.5v0.5h-0.5zM231.3 210.1h0.5v0.5h-0.5zM231.9 210.2h0.5v0.5h-0.5zM232.5 210.1h0.5v0.5h-0.5zM232.8 210.1h0.5v0.5h-0.5zM233.5 210.3h0.5v0.5h-0.5zM234.1 210.4h0.5v0.5h-0.5zM235.2 210.1h0.5v0.5h-0.5zM237.2 210.4h0.5v0.5h-0.5z" fill="#2e2e2e" opacity="0.9"/>
<g filter="url(#b1)">
<path d="M212 198 L234 196.6 L240.4 198 L240.6 210.4 L212 210.6 Z" fill="#888" opacity="0.45"/>
<rect x="233" y="196.6" width="6.2" height="13.6" rx="2.6" fill="#999" fill-opacity="0.4" stroke="#5a5a5a" stroke-width="0.8"/>
</g>
<text x="207.1" y="164.65" font-size="4.7" text-anchor="middle" font-weight="bold" fill="#1c1c1c">0.019</text>
<text x="250.6" y="164.65" font-size="4.7" text-anchor="middle" font-weight="bold" fill="#1c1c1c">0.13</text>
<text x="206.1" y="211.25" font-size="4.7" text-anchor="middle" font-weight="bold" fill="#1c1c1c">12.9</text>
<text x="251.9" y="211.25" font-size="4.7" text-anchor="middle" font-weight="bold" fill="#1c1c1c">87</text>
<text x="185.6" y="238" font-size="10.1" text-anchor="middle" font-weight="normal" fill="#1a1a1a">CD4<tspan dy="-4.4" font-size="5.6">+</tspan><tspan dy="4.4">CXCR5</tspan><tspan dy="-4.4" font-size="5.6">−</tspan></text>
<line x1="117.6" y1="246.7" x2="117.6" y2="296.6" stroke="#1c1c1c" stroke-width="1.0"/>
<path d="M117.6 244.6 L119.69999999999999 248.6 L117.6 247.6 L115.5 248.6 Z" fill="#111"/>
<line x1="176.3" y1="246.2" x2="176.3" y2="296.6" stroke="#6e6e6e" stroke-width="0.6"/>
<line x1="132.8" y1="296.3" x2="168" y2="296.3" stroke="#6e6e6e" stroke-width="0.6"/>
<line x1="148.5" y1="246.2" x2="148.5" y2="296.6" stroke="#6e6e6e" stroke-width="0.6"/>
<line x1="117.6" y1="279.1" x2="176.3" y2="279.1" stroke="#6e6e6e" stroke-width="0.6"/>
<line x1="121.7" y1="300.2" x2="174.8" y2="300.2" stroke="#1c1c1c" stroke-width="1.0"/>
<path d="M176.9 300.2 L172.9 298.09999999999997 L173.9 300.2 L172.9 302.3 Z" fill="#111"/>
<text x="114.94" y="273" font-size="8.2" text-anchor="middle" font-weight="normal" fill="#1a1a1a" transform="rotate(-90 114.94 273)">CD27</text>
<text x="147.6" y="309.24" font-size="8.2" text-anchor="middle" font-weight="normal" fill="#1a1a1a">CD45RO</text>
<mask id="m5"><rect x="118" y="262" width="48" height="36" fill="url(#mg5)"/></mask>
<path d="M123.0 277.8h0.5v0.5h-0.5zM125.1 277.9h0.5v0.5h-0.5zM125.8 277.6h0.5v0.5h-0.5zM126.2 277.8h0.5v0.5h-0.5zM126.7 277.7h0.5v0.5h-0.5zM127.5 277.8h0.5v0.5h-0.5zM128.0 277.6h0.5v0.5h-0.5zM128.3 277.6h0.5v0.5h-0.5zM129.5 277.9h0.5v0.5h-0.5zM130.8 277.8h0.5v0.5h-0.5zM131.1 277.9h0.5v0.5h-0.5zM131.9 277.9h0.5v0.5h-0.5zM132.3 277.6h0.5v0.5h-0.5zM132.7 277.7h0.5v0.5h-0.5zM133.3 277.8h0.5v0.5h-0.5zM133.9 277.8h0.5v0.5h-0.5zM134.4 277.7h0.5v0.5h-0.5zM134.9 277.9h0.5v0.5h-0.5zM135.7 277.9h0.5v0.5h-0.5zM136.2 277.7h0.5v0.5h-0.5zM136.6 277.6h0.5v0.5h-0.5zM137.4 277.7h0.5v0.5h-0.5zM139.4 277.8h0.5v0.5h-0.5zM140.6 277.8h0.5v0.5h-0.5zM141.8 277.6h0.5v0.5h-0.5zM142.2 277.9h0.5v0.5h-0.5zM142.9 277.8h0.5v0.5h-0.5zM143.2 277.7h0.5v0.5h-0.5zM143.7 277.8h0.5v0.5h-0.5zM144.8 277.9h0.5v0.5h-0.5zM145.5 277.7h0.5v0.5h-0.5zM146.1 277.7h0.5v0.5h-0.5zM146.5 277.9h0.5v0.5h-0.5zM147.1 277.9h0.5v0.5h-0.5zM147.8 277.9h0.5v0.5h-0.5zM148.3 277.6h0.5v0.5h-0.5zM148.7 277.9h0.5v0.5h-0.5zM149.3 277.9h0.5v0.5h-0.5zM151.0 277.8h0.5v0.5h-0.5zM151.5 277.7h0.5v0.5h-0.5zM152.1 277.9h0.5v0.5h-0.5zM123.5 278.3h0.5v0.5h-0.5zM124.0 278.4h0.5v0.5h-0.5zM125.2 278.4h0.5v0.5h-0.5zM127.4 278.2h0.5v0.5h-0.5zM128.0 278.4h0.5v0.5h-0.5zM128.6 278.3h0.5v0.5h-0.5zM128.9 278.3h0.5v0.5h-0.5zM129.6 278.3h0.5v0.5h-0.5zM130.7 278.3h0.5v0.5h-0.5zM131.3 278.4h0.5v0.5h-0.5zM131.9 278.4h0.5v0.5h-0.5zM134.0 278.2h0.5v0.5h-0.5zM135.7 278.4h0.5v0.5h-0.5zM136.8 278.3h0.5v0.5h-0.5zM137.2 278.3h0.5v0.5h-0.5zM138.4 278.2h0.5v0.5h-0.5zM138.9 278.3h0.5v0.5h-0.5zM139.5 278.3h0.5v0.5h-0.5zM140.0 278.2h0.5v0.5h-0.5zM140.4 278.2h0.5v0.5h-0.5zM141.0 278.2h0.5v0.5h-0.5zM141.6 278.3h0.5v0.5h-0.5zM142.1 278.4h0.5v0.5h-0.5zM142.7 278.2h0.5v0.5h-0.5zM143.2 278.4h0.5v0.5h-0.5zM143.7 278.3h0.5v0.5h-0.5zM144.4 278.3h0.5v0.5h-0.5zM145.1 278.4h0.5v0.5h-0.5zM145.6 278.3h0.5v0.5h-0.5zM145.9 278.3h0.5v0.5h-0.5zM146.7 278.4h0.5v0.5h-0.5zM147.1 278.4h0.5v0.5h-0.5zM147.6 278.3h0.5v0.5h-0.5zM148.1 278.3h0.5v0.5h-0.5zM149.3 278.2h0.5v0.5h-0.5zM150.0 278.3h0.5v0.5h-0.5zM151.5 278.4h0.5v0.5h-0.5zM152.1 278.2h0.5v0.5h-0.5zM123.4 278.8h0.5v0.5h-0.5zM124.1 278.8h0.5v0.5h-0.5zM124.7 278.9h0.5v0.5h-0.5zM125.2 278.8h0.5v0.5h-0.5zM126.7 278.7h0.5v0.5h-0.5zM127.9 278.8h0.5v0.5h-0.5zM129.1 278.7h0.5v0.5h-0.5zM130.1 278.8h0.5v0.5h-0.5zM130.7 278.8h0.5v0.5h-0.5zM131.3 278.9h0.5v0.5h-0.5zM131.7 278.8h0.5v0.5h-0.5zM133.3 278.9h0.5v0.5h-0.5zM134.0 278.9h0.5v0.5h-0.5zM135.2 278.8h0.5v0.5h-0.5zM135.7 278.8h0.5v0.5h-0.5zM136.2 278.7h0.5v0.5h-0.5zM137.7 278.9h0.5v0.5h-0.5zM138.9 278.9h0.5v0.5h-0.5zM139.4 278.7h0.5v0.5h-0.5zM140.1 278.7h0.5v0.5h-0.5zM140.6 278.9h0.5v0.5h-0.5zM141.7 279.0h0.5v0.5h-0.5zM143.4 278.8h0.5v0.5h-0.5zM144.0 278.9h0.5v0.5h-0.5zM144.3 279.0h0.5v0.5h-0.5zM145.0 278.8h0.5v0.5h-0.5zM145.5 278.7h0.5v0.5h-0.5zM146.0 278.7h0.5v0.5h-0.5zM146.6 278.9h0.5v0.5h-0.5zM147.7 278.8h0.5v0.5h-0.5zM148.2 279.0h0.5v0.5h-0.5zM148.7 278.9h0.5v0.5h-0.5zM149.4 278.9h0.5v0.5h-0.5zM150.5 278.8h0.5v0.5h-0.5zM150.9 278.9h0.5v0.5h-0.5zM151.4 278.8h0.5v0.5h-0.5zM152.2 278.8h0.5v0.5h-0.5zM124.1 279.3h0.5v0.5h-0.5zM124.6 279.3h0.5v0.5h-0.5zM125.6 279.5h0.5v0.5h-0.5zM126.3 279.3h0.5v0.5h-0.5zM126.9 279.5h0.5v0.5h-0.5zM127.2 279.5h0.5v0.5h-0.5zM129.0 279.4h0.5v0.5h-0.5zM129.5 279.4h0.5v0.5h-0.5zM130.1 279.3h0.5v0.5h-0.5zM132.4 279.4h0.5v0.5h-0.5zM134.4 279.3h0.5v0.5h-0.5zM134.9 279.5h0.5v0.5h-0.5zM135.7 279.3h0.5v0.5h-0.5zM136.3 279.4h0.5v0.5h-0.5zM136.7 279.3h0.5v0.5h-0.5zM137.1 279.4h0.5v0.5h-0.5zM137.9 279.3h0.5v0.5h-0.5zM138.3 279.3h0.5v0.5h-0.5zM138.8 279.4h0.5v0.5h-0.5zM139.6 279.4h0.5v0.5h-0.5zM141.8 279.3h0.5v0.5h-0.5zM142.8 279.5h0.5v0.5h-0.5zM143.2 279.3h0.5v0.5h-0.5zM143.7 279.4h0.5v0.5h-0.5zM144.9 279.4h0.5v0.5h-0.5zM145.6 279.5h0.5v0.5h-0.5zM146.0 279.5h0.5v0.5h-0.5zM147.1 279.5h0.5v0.5h-0.5zM147.6 279.5h0.5v0.5h-0.5zM148.1 279.4h0.5v0.5h-0.5zM149.3 279.3h0.5v0.5h-0.5zM150.0 279.4h0.5v0.5h-0.5zM150.9 279.3h0.5v0.5h-0.5zM151.4 279.3h0.5v0.5h-0.5zM152.0 279.3h0.5v0.5h-0.5zM123.1 279.9h0.5v0.5h-0.5zM123.5 280.0h0.5v0.5h-0.5zM124.0 279.8h0.5v0.5h-0.5zM126.7 280.0h0.5v0.5h-0.5zM127.4 279.9h0.5v0.5h-0.5zM129.5 280.0h0.5v0.5h-0.5zM130.0 279.9h0.5v0.5h-0.5zM130.7 280.0h0.5v0.5h-0.5zM131.1 279.8h0.5v0.5h-0.5zM131.6 279.9h0.5v0.5h-0.5zM132.7 280.0h0.5v0.5h-0.5zM133.3 279.9h0.5v0.5h-0.5zM133.8 279.9h0.5v0.5h-0.5zM134.6 280.0h0.5v0.5h-0.5zM137.3 280.0h0.5v0.5h-0.5zM139.5 279.9h0.5v0.5h-0.5zM139.9 279.9h0.5v0.5h-0.5zM140.6 279.9h0.5v0.5h-0.5zM141.2 280.0h0.5v0.5h-0.5zM141.5 279.8h0.5v0.5h-0.5zM142.3 280.1h0.5v0.5h-0.5zM143.3 279.9h0.5v0.5h-0.5zM143.7 280.0h0.5v0.5h-0.5zM145.5 279.9h0.5v0.5h-0.5zM146.7 280.0h0.5v0.5h-0.5zM147.1 280.1h0.5v0.5h-0.5zM147.7 279.9h0.5v0.5h-0.5zM149.5 280.0h0.5v0.5h-0.5zM150.0 279.9h0.5v0.5h-0.5zM150.6 279.8h0.5v0.5h-0.5zM151.0 280.1h0.5v0.5h-0.5zM151.5 279.9h0.5v0.5h-0.5zM152.1 279.9h0.5v0.5h-0.5zM123.5 280.4h0.5v0.5h-0.5zM126.1 280.6h0.5v0.5h-0.5zM126.7 280.4h0.5v0.5h-0.5zM127.4 280.6h0.5v0.5h-0.5zM128.0 280.4h0.5v0.5h-0.5zM130.5 280.5h0.5v0.5h-0.5zM131.7 280.4h0.5v0.5h-0.5zM132.2 280.5h0.5v0.5h-0.5zM132.9 280.5h0.5v0.5h-0.5zM137.3 280.6h0.5v0.5h-0.5zM138.2 280.4h0.5v0.5h-0.5zM138.9 280.6h0.5v0.5h-0.5zM140.1 280.4h0.5v0.5h-0.5zM141.2 280.6h0.5v0.5h-0.5zM145.0 280.6h0.5v0.5h-0.5zM145.6 280.5h0.5v0.5h-0.5zM145.9 280.5h0.5v0.5h-0.5zM146.6 280.6h0.5v0.5h-0.5zM147.7 280.4h0.5v0.5h-0.5zM148.9 280.5h0.5v0.5h-0.5zM149.8 280.4h0.5v0.5h-0.5zM150.6 280.4h0.5v0.5h-0.5zM151.1 280.4h0.5v0.5h-0.5zM151.6 280.6h0.5v0.5h-0.5zM123.5 281.1h0.5v0.5h-0.5zM124.5 281.1h0.5v0.5h-0.5zM125.6 280.9h0.5v0.5h-0.5zM127.3 281.1h0.5v0.5h-0.5zM129.5 281.2h0.5v0.5h-0.5zM130.8 281.1h0.5v0.5h-0.5zM131.8 281.2h0.5v0.5h-0.5zM132.8 280.9h0.5v0.5h-0.5zM133.3 281.1h0.5v0.5h-0.5zM134.0 281.1h0.5v0.5h-0.5zM138.2 280.9h0.5v0.5h-0.5zM138.9 281.0h0.5v0.5h-0.5zM140.5 281.1h0.5v0.5h-0.5zM141.0 281.1h0.5v0.5h-0.5zM141.7 281.0h0.5v0.5h-0.5zM143.4 281.1h0.5v0.5h-0.5zM143.7 281.0h0.5v0.5h-0.5zM144.5 281.2h0.5v0.5h-0.5zM144.9 281.0h0.5v0.5h-0.5zM147.1 281.2h0.5v0.5h-0.5zM147.6 281.0h0.5v0.5h-0.5zM148.3 280.9h0.5v0.5h-0.5zM148.7 281.0h0.5v0.5h-0.5zM149.9 281.2h0.5v0.5h-0.5zM150.4 281.1h0.5v0.5h-0.5zM151.1 281.0h0.5v0.5h-0.5zM151.5 281.0h0.5v0.5h-0.5zM152.1 280.9h0.5v0.5h-0.5zM123.1 281.6h0.5v0.5h-0.5zM124.0 281.7h0.5v0.5h-0.5zM125.7 281.7h0.5v0.5h-0.5zM128.9 281.7h0.5v0.5h-0.5zM129.7 281.7h0.5v0.5h-0.5zM130.8 281.7h0.5v0.5h-0.5zM131.8 281.6h0.5v0.5h-0.5zM133.4 281.5h0.5v0.5h-0.5zM134.5 281.5h0.5v0.5h-0.5zM135.0 281.5h0.5v0.5h-0.5zM135.7 281.7h0.5v0.5h-0.5zM136.0 281.7h0.5v0.5h-0.5zM137.7 281.7h0.5v0.5h-0.5zM138.8 281.6h0.5v0.5h-0.5zM139.5 281.6h0.5v0.5h-0.5zM140.6 281.7h0.5v0.5h-0.5zM141.5 281.6h0.5v0.5h-0.5zM142.2 281.6h0.5v0.5h-0.5zM143.9 281.5h0.5v0.5h-0.5zM145.5 281.7h0.5v0.5h-0.5zM146.1 281.6h0.5v0.5h-0.5zM146.6 281.7h0.5v0.5h-0.5zM147.2 281.5h0.5v0.5h-0.5zM147.7 281.5h0.5v0.5h-0.5zM148.2 281.6h0.5v0.5h-0.5zM149.4 281.7h0.5v0.5h-0.5zM151.4 281.7h0.5v0.5h-0.5zM152.1 281.7h0.5v0.5h-0.5zM123.6 282.1h0.5v0.5h-0.5zM125.1 282.1h0.5v0.5h-0.5zM126.2 282.0h0.5v0.5h-0.5zM126.8 282.0h0.5v0.5h-0.5zM127.8 282.2h0.5v0.5h-0.5zM129.1 282.2h0.5v0.5h-0.5zM129.6 282.1h0.5v0.5h-0.5zM130.2 282.1h0.5v0.5h-0.5zM131.1 282.0h0.5v0.5h-0.5zM132.7 282.2h0.5v0.5h-0.5zM134.5 282.0h0.5v0.5h-0.5zM136.8 282.0h0.5v0.5h-0.5zM137.3 282.0h0.5v0.5h-0.5zM137.8 282.2h0.5v0.5h-0.5zM139.5 282.3h0.5v0.5h-0.5zM140.1 282.1h0.5v0.5h-0.5zM140.4 282.2h0.5v0.5h-0.5zM142.7 282.1h0.5v0.5h-0.5zM143.7 282.1h0.5v0.5h-0.5zM144.4 282.2h0.5v0.5h-0.5zM145.4 282.1h0.5v0.5h-0.5zM146.6 282.3h0.5v0.5h-0.5zM147.1 282.1h0.5v0.5h-0.5zM147.8 282.2h0.5v0.5h-0.5zM148.9 282.3h0.5v0.5h-0.5zM149.2 282.1h0.5v0.5h-0.5zM150.0 282.1h0.5v0.5h-0.5zM150.5 282.3h0.5v0.5h-0.5zM151.1 282.1h0.5v0.5h-0.5zM151.6 282.3h0.5v0.5h-0.5zM152.0 282.3h0.5v0.5h-0.5zM123.0 282.8h0.5v0.5h-0.5zM123.5 282.6h0.5v0.5h-0.5zM123.9 282.8h0.5v0.5h-0.5zM125.6 282.6h0.5v0.5h-0.5zM128.4 282.6h0.5v0.5h-0.5zM129.0 282.6h0.5v0.5h-0.5zM129.6 282.8h0.5v0.5h-0.5zM131.3 282.6h0.5v0.5h-0.5zM132.4 282.7h0.5v0.5h-0.5zM133.4 282.8h0.5v0.5h-0.5zM134.5 282.8h0.5v0.5h-0.5zM135.1 282.8h0.5v0.5h-0.5zM135.7 282.7h0.5v0.5h-0.5zM136.0 282.8h0.5v0.5h-0.5zM139.5 282.6h0.5v0.5h-0.5zM141.6 282.8h0.5v0.5h-0.5zM142.9 282.6h0.5v0.5h-0.5zM143.2 282.7h0.5v0.5h-0.5zM145.0 282.6h0.5v0.5h-0.5zM146.0 282.6h0.5v0.5h-0.5zM147.2 282.7h0.5v0.5h-0.5zM148.9 282.8h0.5v0.5h-0.5zM149.3 282.8h0.5v0.5h-0.5zM149.9 282.7h0.5v0.5h-0.5zM151.0 282.8h0.5v0.5h-0.5zM151.4 282.8h0.5v0.5h-0.5zM152.2 282.7h0.5v0.5h-0.5zM124.7 283.3h0.5v0.5h-0.5zM126.8 283.1h0.5v0.5h-0.5zM129.0 283.2h0.5v0.5h-0.5zM129.5 283.4h0.5v0.5h-0.5zM130.7 283.3h0.5v0.5h-0.5zM132.2 283.1h0.5v0.5h-0.5zM135.7 283.2h0.5v0.5h-0.5zM138.3 283.4h0.5v0.5h-0.5zM138.8 283.1h0.5v0.5h-0.5zM140.0 283.2h0.5v0.5h-0.5zM142.3 283.3h0.5v0.5h-0.5zM146.2 283.4h0.5v0.5h-0.5zM146.5 283.2h0.5v0.5h-0.5zM147.1 283.1h0.5v0.5h-0.5zM147.6 283.2h0.5v0.5h-0.5zM148.3 283.2h0.5v0.5h-0.5zM148.9 283.4h0.5v0.5h-0.5zM149.9 283.2h0.5v0.5h-0.5zM150.3 283.2h0.5v0.5h-0.5zM151.7 283.3h0.5v0.5h-0.5zM152.2 283.4h0.5v0.5h-0.5zM126.7 283.7h0.5v0.5h-0.5zM128.5 283.9h0.5v0.5h-0.5zM129.6 283.8h0.5v0.5h-0.5zM130.0 283.7h0.5v0.5h-0.5zM130.6 283.7h0.5v0.5h-0.5zM131.2 283.9h0.5v0.5h-0.5zM132.4 283.7h0.5v0.5h-0.5zM132.7 283.7h0.5v0.5h-0.5zM137.8 283.8h0.5v0.5h-0.5zM138.8 283.9h0.5v0.5h-0.5zM139.5 283.7h0.5v0.5h-0.5zM141.2 283.8h0.5v0.5h-0.5zM141.8 283.9h0.5v0.5h-0.5zM142.3 283.7h0.5v0.5h-0.5zM143.3 283.9h0.5v0.5h-0.5zM144.4 283.8h0.5v0.5h-0.5zM145.4 283.8h0.5v0.5h-0.5zM146.1 283.7h0.5v0.5h-0.5zM146.5 283.7h0.5v0.5h-0.5zM147.6 283.8h0.5v0.5h-0.5zM148.8 283.7h0.5v0.5h-0.5zM149.8 283.9h0.5v0.5h-0.5zM150.5 283.8h0.5v0.5h-0.5zM151.5 283.7h0.5v0.5h-0.5zM152.2 283.8h0.5v0.5h-0.5zM127.9 284.5h0.5v0.5h-0.5zM128.4 284.4h0.5v0.5h-0.5zM129.5 284.4h0.5v0.5h-0.5zM130.0 284.4h0.5v0.5h-0.5zM131.1 284.4h0.5v0.5h-0.5zM131.8 284.2h0.5v0.5h-0.5zM132.8 284.4h0.5v0.5h-0.5zM136.1 284.3h0.5v0.5h-0.5zM137.4 284.3h0.5v0.5h-0.5zM141.2 284.4h0.5v0.5h-0.5zM142.1 284.3h0.5v0.5h-0.5zM143.9 284.3h0.5v0.5h-0.5zM145.4 284.4h0.5v0.5h-0.5zM146.6 284.4h0.5v0.5h-0.5zM148.8 284.4h0.5v0.5h-0.5zM149.5 284.2h0.5v0.5h-0.5zM149.8 284.4h0.5v0.5h-0.5zM150.4 284.5h0.5v0.5h-0.5zM151.5 284.2h0.5v0.5h-0.5zM152.0 284.5h0.5v0.5h-0.5zM122.9 284.8h0.5v0.5h-0.5zM123.6 285.0h0.5v0.5h-0.5zM125.6 284.8h0.5v0.5h-0.5zM126.2 285.0h0.5v0.5h-0.5zM127.3 285.0h0.5v0.5h-0.5zM131.6 284.8h0.5v0.5h-0.5zM132.7 284.8h0.5v0.5h-0.5zM136.7 284.8h0.5v0.5h-0.5zM138.8 284.8h0.5v0.5h-0.5zM139.9 284.8h0.5v0.5h-0.5zM140.5 284.9h0.5v0.5h-0.5zM141.7 284.8h0.5v0.5h-0.5zM142.8 285.0h0.5v0.5h-0.5zM146.0 284.9h0.5v0.5h-0.5zM147.2 284.9h0.5v0.5h-0.5zM149.4 284.9h0.5v0.5h-0.5zM150.4 284.9h0.5v0.5h-0.5zM151.0 284.8h0.5v0.5h-0.5zM151.6 284.8h0.5v0.5h-0.5zM152.2 284.8h0.5v0.5h-0.5zM123.4 285.4h0.5v0.5h-0.5zM124.0 285.6h0.5v0.5h-0.5zM124.6 285.5h0.5v0.5h-0.5zM125.6 285.4h0.5v0.5h-0.5zM127.3 285.4h0.5v0.5h-0.5zM128.0 285.5h0.5v0.5h-0.5zM131.2 285.5h0.5v0.5h-0.5zM137.3 285.5h0.5v0.5h-0.5zM137.9 285.4h0.5v0.5h-0.5zM143.4 285.6h0.5v0.5h-0.5zM143.9 285.5h0.5v0.5h-0.5zM146.0 285.5h0.5v0.5h-0.5zM148.8 285.6h0.5v0.5h-0.5zM150.5 285.5h0.5v0.5h-0.5zM151.7 285.5h0.5v0.5h-0.5zM125.3 285.9h0.5v0.5h-0.5zM126.2 286.1h0.5v0.5h-0.5zM126.7 286.1h0.5v0.5h-0.5zM127.4 286.0h0.5v0.5h-0.5zM129.5 285.9h0.5v0.5h-0.5zM130.0 285.9h0.5v0.5h-0.5zM132.2 286.0h0.5v0.5h-0.5zM133.4 285.9h0.5v0.5h-0.5zM134.0 285.9h0.5v0.5h-0.5zM137.9 286.0h0.5v0.5h-0.5zM138.3 286.1h0.5v0.5h-0.5zM140.5 286.0h0.5v0.5h-0.5zM142.3 286.0h0.5v0.5h-0.5zM142.6 286.0h0.5v0.5h-0.5zM144.5 286.0h0.5v0.5h-0.5zM145.0 285.9h0.5v0.5h-0.5zM146.0 286.1h0.5v0.5h-0.5zM149.2 285.9h0.5v0.5h-0.5zM149.9 285.9h0.5v0.5h-0.5zM150.9 285.9h0.5v0.5h-0.5zM151.5 286.1h0.5v0.5h-0.5zM152.0 285.9h0.5v0.5h-0.5zM125.3 286.7h0.5v0.5h-0.5zM126.2 286.7h0.5v0.5h-0.5zM127.3 286.4h0.5v0.5h-0.5zM128.4 286.7h0.5v0.5h-0.5zM130.8 286.7h0.5v0.5h-0.5zM136.1 286.6h0.5v0.5h-0.5zM137.8 286.5h0.5v0.5h-0.5zM138.3 286.6h0.5v0.5h-0.5zM139.4 286.7h0.5v0.5h-0.5zM141.8 286.4h0.5v0.5h-0.5zM142.3 286.6h0.5v0.5h-0.5zM144.9 286.4h0.5v0.5h-0.5zM145.6 286.7h0.5v0.5h-0.5zM146.0 286.5h0.5v0.5h-0.5zM147.8 286.7h0.5v0.5h-0.5zM148.2 286.5h0.5v0.5h-0.5zM149.3 286.5h0.5v0.5h-0.5zM150.4 286.6h0.5v0.5h-0.5zM151.1 286.5h0.5v0.5h-0.5zM125.1 287.0h0.5v0.5h-0.5zM125.8 287.0h0.5v0.5h-0.5zM126.1 287.0h0.5v0.5h-0.5zM130.2 287.0h0.5v0.5h-0.5zM134.0 287.0h0.5v0.5h-0.5zM136.1 287.2h0.5v0.5h-0.5zM138.8 287.0h0.5v0.5h-0.5zM146.2 287.1h0.5v0.5h-0.5zM148.7 287.2h0.5v0.5h-0.5zM149.2 287.2h0.5v0.5h-0.5zM150.9 287.2h0.5v0.5h-0.5zM151.6 287.2h0.5v0.5h-0.5zM152.0 287.1h0.5v0.5h-0.5zM124.7 287.6h0.5v0.5h-0.5zM126.3 287.7h0.5v0.5h-0.5zM130.2 287.6h0.5v0.5h-0.5zM130.6 287.6h0.5v0.5h-0.5zM136.7 287.8h0.5v0.5h-0.5zM137.9 287.7h0.5v0.5h-0.5zM142.3 287.5h0.5v0.5h-0.5zM143.2 287.8h0.5v0.5h-0.5zM144.9 287.6h0.5v0.5h-0.5zM146.2 287.8h0.5v0.5h-0.5zM147.2 287.8h0.5v0.5h-0.5zM148.3 287.8h0.5v0.5h-0.5zM149.3 287.7h0.5v0.5h-0.5zM149.8 287.6h0.5v0.5h-0.5zM150.4 287.5h0.5v0.5h-0.5zM151.1 287.6h0.5v0.5h-0.5zM151.6 287.7h0.5v0.5h-0.5zM152.1 287.7h0.5v0.5h-0.5zM123.4 288.3h0.5v0.5h-0.5zM124.7 288.2h0.5v0.5h-0.5zM126.9 288.3h0.5v0.5h-0.5zM130.2 288.3h0.5v0.5h-0.5zM130.6 288.3h0.5v0.5h-0.5zM133.9 288.2h0.5v0.5h-0.5zM135.7 288.1h0.5v0.5h-0.5zM136.6 288.3h0.5v0.5h-0.5zM139.4 288.1h0.5v0.5h-0.5zM140.0 288.1h0.5v0.5h-0.5zM141.6 288.1h0.5v0.5h-0.5zM142.2 288.1h0.5v0.5h-0.5zM143.4 288.1h0.5v0.5h-0.5zM145.6 288.2h0.5v0.5h-0.5zM147.8 288.2h0.5v0.5h-0.5zM149.2 288.1h0.5v0.5h-0.5zM149.9 288.2h0.5v0.5h-0.5zM150.4 288.3h0.5v0.5h-0.5zM152.1 288.3h0.5v0.5h-0.5zM130.0 288.7h0.5v0.5h-0.5zM131.6 288.7h0.5v0.5h-0.5zM132.2 288.8h0.5v0.5h-0.5zM132.8 288.8h0.5v0.5h-0.5zM133.5 288.8h0.5v0.5h-0.5zM135.6 288.7h0.5v0.5h-0.5zM138.8 288.8h0.5v0.5h-0.5zM139.9 288.7h0.5v0.5h-0.5zM142.7 288.8h0.5v0.5h-0.5zM143.3 288.6h0.5v0.5h-0.5zM147.7 288.7h0.5v0.5h-0.5zM148.2 288.9h0.5v0.5h-0.5zM149.3 288.8h0.5v0.5h-0.5zM150.4 288.7h0.5v0.5h-0.5zM152.1 288.8h0.5v0.5h-0.5zM123.4 289.4h0.5v0.5h-0.5zM124.1 289.2h0.5v0.5h-0.5zM125.6 289.4h0.5v0.5h-0.5zM126.1 289.4h0.5v0.5h-0.5zM127.4 289.4h0.5v0.5h-0.5zM128.0 289.3h0.5v0.5h-0.5zM130.6 289.4h0.5v0.5h-0.5zM131.1 289.4h0.5v0.5h-0.5zM132.9 289.4h0.5v0.5h-0.5zM136.6 289.4h0.5v0.5h-0.5zM138.2 289.4h0.5v0.5h-0.5zM140.1 289.4h0.5v0.5h-0.5zM145.6 289.4h0.5v0.5h-0.5zM146.2 289.4h0.5v0.5h-0.5zM146.6 289.3h0.5v0.5h-0.5zM150.0 289.3h0.5v0.5h-0.5zM150.5 289.3h0.5v0.5h-0.5zM151.1 289.3h0.5v0.5h-0.5zM132.2 289.7h0.5v0.5h-0.5zM134.6 290.0h0.5v0.5h-0.5zM135.0 289.8h0.5v0.5h-0.5zM135.5 289.8h0.5v0.5h-0.5zM136.0 289.9h0.5v0.5h-0.5zM144.4 290.0h0.5v0.5h-0.5zM144.9 289.8h0.5v0.5h-0.5zM146.5 289.7h0.5v0.5h-0.5zM147.2 289.8h0.5v0.5h-0.5zM148.8 289.7h0.5v0.5h-0.5zM150.4 289.9h0.5v0.5h-0.5zM151.1 289.9h0.5v0.5h-0.5zM151.6 289.8h0.5v0.5h-0.5zM152.2 289.9h0.5v0.5h-0.5zM126.4 290.5h0.5v0.5h-0.5zM127.3 290.4h0.5v0.5h-0.5zM128.0 290.4h0.5v0.5h-0.5zM130.6 290.5h0.5v0.5h-0.5zM135.0 290.5h0.5v0.5h-0.5zM136.2 290.5h0.5v0.5h-0.5zM142.7 290.3h0.5v0.5h-0.5zM143.4 290.3h0.5v0.5h-0.5zM145.4 290.4h0.5v0.5h-0.5zM146.6 290.3h0.5v0.5h-0.5zM149.8 290.4h0.5v0.5h-0.5zM150.3 290.5h0.5v0.5h-0.5zM151.6 290.5h0.5v0.5h-0.5zM152.1 290.4h0.5v0.5h-0.5zM124.1 291.0h0.5v0.5h-0.5zM128.0 291.1h0.5v0.5h-0.5zM130.1 290.9h0.5v0.5h-0.5zM131.7 290.9h0.5v0.5h-0.5zM132.2 290.8h0.5v0.5h-0.5zM133.0 290.8h0.5v0.5h-0.5zM134.5 291.0h0.5v0.5h-0.5zM135.1 290.8h0.5v0.5h-0.5zM137.2 291.1h0.5v0.5h-0.5zM138.3 291.1h0.5v0.5h-0.5zM141.1 290.9h0.5v0.5h-0.5zM145.6 290.9h0.5v0.5h-0.5zM146.0 290.9h0.5v0.5h-0.5zM146.6 291.1h0.5v0.5h-0.5zM147.7 291.0h0.5v0.5h-0.5zM148.8 290.9h0.5v0.5h-0.5zM150.0 290.9h0.5v0.5h-0.5zM151.0 290.9h0.5v0.5h-0.5zM151.4 290.9h0.5v0.5h-0.5zM125.0 291.4h0.5v0.5h-0.5zM126.2 291.4h0.5v0.5h-0.5zM127.3 291.5h0.5v0.5h-0.5zM128.5 291.5h0.5v0.5h-0.5zM132.3 291.4h0.5v0.5h-0.5zM137.9 291.5h0.5v0.5h-0.5zM139.0 291.5h0.5v0.5h-0.5zM142.3 291.6h0.5v0.5h-0.5zM142.6 291.5h0.5v0.5h-0.5zM143.3 291.5h0.5v0.5h-0.5zM143.9 291.5h0.5v0.5h-0.5zM144.9 291.5h0.5v0.5h-0.5zM146.6 291.5h0.5v0.5h-0.5zM149.4 291.6h0.5v0.5h-0.5zM150.4 291.6h0.5v0.5h-0.5zM150.9 291.4h0.5v0.5h-0.5zM152.2 291.5h0.5v0.5h-0.5zM124.1 292.2h0.5v0.5h-0.5zM125.0 291.9h0.5v0.5h-0.5zM127.8 292.0h0.5v0.5h-0.5zM128.9 292.0h0.5v0.5h-0.5zM131.1 292.2h0.5v0.5h-0.5zM135.0 292.1h0.5v0.5h-0.5zM137.2 292.1h0.5v0.5h-0.5zM139.0 292.0h0.5v0.5h-0.5zM141.1 292.1h0.5v0.5h-0.5zM141.6 292.2h0.5v0.5h-0.5zM143.2 292.1h0.5v0.5h-0.5zM146.0 292.0h0.5v0.5h-0.5zM146.5 292.2h0.5v0.5h-0.5zM147.6 292.2h0.5v0.5h-0.5zM148.2 292.0h0.5v0.5h-0.5zM148.7 292.0h0.5v0.5h-0.5zM149.9 291.9h0.5v0.5h-0.5zM152.0 292.1h0.5v0.5h-0.5zM123.0 292.5h0.5v0.5h-0.5zM127.4 292.6h0.5v0.5h-0.5zM129.6 292.5h0.5v0.5h-0.5zM130.6 292.5h0.5v0.5h-0.5zM132.2 292.7h0.5v0.5h-0.5zM133.4 292.7h0.5v0.5h-0.5zM136.8 292.7h0.5v0.5h-0.5zM140.7 292.6h0.5v0.5h-0.5zM141.2 292.6h0.5v0.5h-0.5zM141.8 292.6h0.5v0.5h-0.5zM143.9 292.5h0.5v0.5h-0.5zM145.4 292.5h0.5v0.5h-0.5zM149.3 292.7h0.5v0.5h-0.5zM149.9 292.6h0.5v0.5h-0.5zM150.5 292.7h0.5v0.5h-0.5zM151.7 292.5h0.5v0.5h-0.5zM125.6 293.2h0.5v0.5h-0.5zM126.8 293.2h0.5v0.5h-0.5zM130.2 293.0h0.5v0.5h-0.5zM130.5 293.1h0.5v0.5h-0.5zM131.1 293.3h0.5v0.5h-0.5zM132.7 293.0h0.5v0.5h-0.5zM133.5 293.1h0.5v0.5h-0.5zM134.5 293.1h0.5v0.5h-0.5zM135.0 293.2h0.5v0.5h-0.5zM136.7 293.0h0.5v0.5h-0.5zM143.3 293.1h0.5v0.5h-0.5zM144.0 293.1h0.5v0.5h-0.5zM145.1 293.1h0.5v0.5h-0.5zM146.1 293.2h0.5v0.5h-0.5zM146.5 293.1h0.5v0.5h-0.5zM148.2 293.3h0.5v0.5h-0.5zM148.7 293.3h0.5v0.5h-0.5zM150.0 293.2h0.5v0.5h-0.5zM151.1 293.3h0.5v0.5h-0.5zM152.1 293.3h0.5v0.5h-0.5zM126.3 293.6h0.5v0.5h-0.5zM136.6 293.8h0.5v0.5h-0.5zM139.4 293.8h0.5v0.5h-0.5zM141.2 293.6h0.5v0.5h-0.5zM147.8 293.6h0.5v0.5h-0.5zM148.3 293.6h0.5v0.5h-0.5zM149.3 293.6h0.5v0.5h-0.5zM149.9 293.6h0.5v0.5h-0.5zM151.5 293.6h0.5v0.5h-0.5zM152.0 293.8h0.5v0.5h-0.5zM123.6 294.3h0.5v0.5h-0.5zM124.2 294.1h0.5v0.5h-0.5zM126.8 294.2h0.5v0.5h-0.5zM128.5 294.4h0.5v0.5h-0.5zM131.1 294.3h0.5v0.5h-0.5zM133.0 294.3h0.5v0.5h-0.5zM134.6 294.4h0.5v0.5h-0.5zM136.2 294.4h0.5v0.5h-0.5zM141.2 294.1h0.5v0.5h-0.5zM142.7 294.2h0.5v0.5h-0.5zM143.3 294.2h0.5v0.5h-0.5zM146.1 294.3h0.5v0.5h-0.5zM147.1 294.3h0.5v0.5h-0.5zM147.8 294.2h0.5v0.5h-0.5zM148.9 294.4h0.5v0.5h-0.5zM150.0 294.4h0.5v0.5h-0.5zM150.3 294.3h0.5v0.5h-0.5zM151.7 294.3h0.5v0.5h-0.5zM152.0 294.3h0.5v0.5h-0.5zM123.6 294.9h0.5v0.5h-0.5zM124.1 294.8h0.5v0.5h-0.5zM126.2 294.7h0.5v0.5h-0.5zM127.4 294.8h0.5v0.5h-0.5zM131.7 294.9h0.5v0.5h-0.5zM136.2 294.8h0.5v0.5h-0.5zM137.2 294.7h0.5v0.5h-0.5zM143.2 294.9h0.5v0.5h-0.5zM146.7 294.7h0.5v0.5h-0.5zM147.1 294.8h0.5v0.5h-0.5zM149.3 294.8h0.5v0.5h-0.5zM150.9 294.9h0.5v0.5h-0.5zM152.2 294.7h0.5v0.5h-0.5zM124.5 295.4h0.5v0.5h-0.5zM126.3 295.3h0.5v0.5h-0.5zM126.7 295.2h0.5v0.5h-0.5zM127.2 295.5h0.5v0.5h-0.5zM131.3 295.4h0.5v0.5h-0.5zM132.4 295.4h0.5v0.5h-0.5zM136.2 295.4h0.5v0.5h-0.5zM136.8 295.4h0.5v0.5h-0.5zM137.2 295.4h0.5v0.5h-0.5zM141.0 295.2h0.5v0.5h-0.5zM142.1 295.3h0.5v0.5h-0.5zM142.7 295.3h0.5v0.5h-0.5zM148.8 295.3h0.5v0.5h-0.5zM150.0 295.3h0.5v0.5h-0.5zM150.5 295.4h0.5v0.5h-0.5zM150.9 295.5h0.5v0.5h-0.5zM151.6 295.5h0.5v0.5h-0.5zM152.1 295.2h0.5v0.5h-0.5zM126.2 296.0h0.5v0.5h-0.5zM132.7 295.8h0.5v0.5h-0.5zM137.9 295.8h0.5v0.5h-0.5zM139.6 295.8h0.5v0.5h-0.5zM141.2 296.0h0.5v0.5h-0.5zM143.4 295.8h0.5v0.5h-0.5zM144.3 295.9h0.5v0.5h-0.5zM146.6 295.9h0.5v0.5h-0.5zM147.1 296.0h0.5v0.5h-0.5zM148.8 295.9h0.5v0.5h-0.5zM150.5 295.8h0.5v0.5h-0.5zM150.9 295.8h0.5v0.5h-0.5zM151.4 296.0h0.5v0.5h-0.5zM152.1 295.9h0.5v0.5h-0.5z" fill="#2e2e2e" opacity="0.9"/>
<g filter="url(#b2)"><path d="M140 277 L153 277 L153 296 L146 296 Z" fill="#444" opacity="0.55"/><path d="M122.6 277 L153 277 L153 283 L122.6 281.6 Z" fill="#555" opacity="0.45"/></g>
<g filter="url(#b1)">
<path d="M122.6 265.8 L157 265.4 Q163.8 265.8 163.6 271.6 L163.4 296.2 L152.4 296.2 L152.4 277.4 L122.6 277.2 Z" fill="#868686"/>
<path d="M122.6 266 L157 265.6 Q163.2 266 163 271.6 L163 296" fill="none" stroke="#1c1c1c" stroke-width="1.3"/>
<path d="M122.6 274 L150 273.8 Q153.6 274.2 153.8 277.4 L154 296.2 L151.8 296.2 L151.6 278 L122.6 277.8 Z" fill="#1c1c1c"/>
<path d="M153 280 L163.4 279 L163.4 296.2 L153 296.2 Z" fill="url(#vg5)"/>
<path d="M132 268.4 L141 268.2 L141 269.4 L132 269.6 Z" fill="#4a4a4a"/>
<path d="M122.6 265.2 L125 265.2 L125 277 L122.6 277 Z" fill="#444"/>
</g>
<text x="127.2" y="248.15" font-size="4.7" text-anchor="middle" font-weight="bold" fill="#1c1c1c">64.2</text>
<text x="171.1" y="248.15" font-size="4.7" text-anchor="middle" font-weight="bold" fill="#1c1c1c">24.8</text>
<text x="126.9" y="294.45" font-size="4.7" text-anchor="middle" font-weight="bold" fill="#1c1c1c">1.07</text>
<text x="172" y="294.45" font-size="4.7" text-anchor="middle" font-weight="bold" fill="#1c1c1c">9.9</text>
<text x="130.9" y="258.53" font-size="7.9" text-anchor="middle" font-weight="normal" fill="#1a1a1a">N</text>
<text x="166.5" y="260.03" font-size="7.9" text-anchor="middle" font-weight="normal" fill="#1a1a1a">CM</text>
<rect x="161.6" y="279.6" width="14.4" height="8.4" fill="#fff" opacity="0.85"/>
<text x="167" y="286.83" font-size="7.9" text-anchor="middle" font-weight="normal" fill="#1a1a1a">EM</text>
<line x1="195.8" y1="246.7" x2="195.8" y2="296.6" stroke="#1c1c1c" stroke-width="1.0"/>
<path d="M195.8 244.6 L197.9 248.6 L195.8 247.6 L193.70000000000002 248.6 Z" fill="#111"/>
<line x1="255.2" y1="246.2" x2="255.2" y2="296.6" stroke="#6e6e6e" stroke-width="0.6"/>
<line x1="210.8" y1="296.3" x2="245" y2="296.3" stroke="#6e6e6e" stroke-width="0.6"/>
<line x1="226" y1="246.2" x2="226" y2="296.6" stroke="#6e6e6e" stroke-width="0.6"/>
<line x1="195.8" y1="276.1" x2="255.2" y2="276.1" stroke="#6e6e6e" stroke-width="0.6"/>
<line x1="199.7" y1="300.2" x2="253.4" y2="300.2" stroke="#1c1c1c" stroke-width="1.0"/>
<path d="M255.5 300.2 L251.5 298.09999999999997 L252.5 300.2 L251.5 302.3 Z" fill="#111"/>
<text x="192.94" y="274.8" font-size="8.2" text-anchor="middle" font-weight="normal" fill="#1a1a1a" transform="rotate(-90 192.94 274.8)">CD57</text>
<text x="230.2" y="310.14" font-size="8.2" text-anchor="middle" font-weight="normal" fill="#1a1a1a">CD45RO</text>
<mask id="m6"><rect x="198" y="250" width="46" height="30" fill="url(#mg6)"/></mask>
<path d="M203.4 252.1h0.5v0.5h-0.5zM224.2 252.2h0.5v0.5h-0.5zM226.0 252.2h0.5v0.5h-0.5zM226.5 252.1h0.5v0.5h-0.5zM228.0 252.3h0.5v0.5h-0.5zM229.3 252.0h0.5v0.5h-0.5zM231.4 252.1h0.5v0.5h-0.5zM232.1 252.0h0.5v0.5h-0.5zM232.6 252.1h0.5v0.5h-0.5zM211.5 252.7h0.5v0.5h-0.5zM227.0 252.6h0.5v0.5h-0.5zM227.6 252.6h0.5v0.5h-0.5zM230.2 252.8h0.5v0.5h-0.5zM225.8 253.3h0.5v0.5h-0.5zM227.5 253.2h0.5v0.5h-0.5zM228.2 253.3h0.5v0.5h-0.5zM230.4 253.1h0.5v0.5h-0.5zM232.4 253.3h0.5v0.5h-0.5zM224.3 253.9h0.5v0.5h-0.5zM228.7 253.7h0.5v0.5h-0.5zM229.3 253.7h0.5v0.5h-0.5zM232.5 253.7h0.5v0.5h-0.5zM214.8 254.2h0.5v0.5h-0.5zM228.1 254.3h0.5v0.5h-0.5zM232.6 254.5h0.5v0.5h-0.5zM204.9 254.8h0.5v0.5h-0.5zM229.8 254.9h0.5v0.5h-0.5zM202.4 255.3h0.5v0.5h-0.5zM211.1 255.6h0.5v0.5h-0.5zM212.8 255.6h0.5v0.5h-0.5zM224.9 255.4h0.5v0.5h-0.5zM226.3 255.4h0.5v0.5h-0.5zM227.4 255.5h0.5v0.5h-0.5zM229.3 255.5h0.5v0.5h-0.5zM229.9 255.4h0.5v0.5h-0.5zM230.2 255.6h0.5v0.5h-0.5zM230.8 255.5h0.5v0.5h-0.5zM231.4 255.3h0.5v0.5h-0.5zM232.0 255.5h0.5v0.5h-0.5zM215.9 255.9h0.5v0.5h-0.5zM221.9 256.0h0.5v0.5h-0.5zM226.0 255.9h0.5v0.5h-0.5zM226.4 256.0h0.5v0.5h-0.5zM226.9 255.9h0.5v0.5h-0.5zM227.4 255.9h0.5v0.5h-0.5zM231.4 255.9h0.5v0.5h-0.5zM231.8 256.1h0.5v0.5h-0.5zM232.4 256.0h0.5v0.5h-0.5zM221.1 256.6h0.5v0.5h-0.5zM227.0 256.4h0.5v0.5h-0.5zM232.0 256.5h0.5v0.5h-0.5zM204.0 257.0h0.5v0.5h-0.5zM221.1 257.2h0.5v0.5h-0.5zM229.1 257.1h0.5v0.5h-0.5zM230.7 257.1h0.5v0.5h-0.5zM231.3 257.1h0.5v0.5h-0.5zM219.2 257.7h0.5v0.5h-0.5zM220.3 257.6h0.5v0.5h-0.5zM222.0 257.6h0.5v0.5h-0.5zM227.0 257.7h0.5v0.5h-0.5zM230.2 257.8h0.5v0.5h-0.5zM230.8 257.6h0.5v0.5h-0.5zM231.5 257.7h0.5v0.5h-0.5zM232.0 257.7h0.5v0.5h-0.5zM232.5 257.8h0.5v0.5h-0.5zM225.4 258.3h0.5v0.5h-0.5zM225.8 258.3h0.5v0.5h-0.5zM228.5 258.1h0.5v0.5h-0.5zM230.7 258.2h0.5v0.5h-0.5zM232.1 258.2h0.5v0.5h-0.5zM219.3 258.6h0.5v0.5h-0.5zM226.9 258.7h0.5v0.5h-0.5zM231.4 258.9h0.5v0.5h-0.5zM232.5 258.8h0.5v0.5h-0.5zM204.0 259.2h0.5v0.5h-0.5zM204.4 259.2h0.5v0.5h-0.5zM205.1 259.3h0.5v0.5h-0.5zM215.0 259.4h0.5v0.5h-0.5zM227.5 259.2h0.5v0.5h-0.5zM232.0 259.2h0.5v0.5h-0.5zM232.4 259.2h0.5v0.5h-0.5zM202.9 259.9h0.5v0.5h-0.5zM206.6 259.9h0.5v0.5h-0.5zM209.5 259.9h0.5v0.5h-0.5zM209.8 259.7h0.5v0.5h-0.5zM219.2 259.9h0.5v0.5h-0.5zM227.6 259.7h0.5v0.5h-0.5zM228.5 260.0h0.5v0.5h-0.5zM229.8 259.8h0.5v0.5h-0.5zM231.8 260.0h0.5v0.5h-0.5zM232.6 259.9h0.5v0.5h-0.5zM213.2 260.5h0.5v0.5h-0.5zM213.9 260.5h0.5v0.5h-0.5zM221.4 260.4h0.5v0.5h-0.5zM228.6 260.5h0.5v0.5h-0.5zM229.9 260.3h0.5v0.5h-0.5zM228.8 260.8h0.5v0.5h-0.5zM232.5 261.1h0.5v0.5h-0.5zM205.6 261.5h0.5v0.5h-0.5zM211.6 261.4h0.5v0.5h-0.5zM231.4 261.4h0.5v0.5h-0.5zM232.6 261.5h0.5v0.5h-0.5zM201.3 262.0h0.5v0.5h-0.5zM219.8 262.0h0.5v0.5h-0.5zM221.5 262.1h0.5v0.5h-0.5zM229.7 262.1h0.5v0.5h-0.5zM231.0 261.9h0.5v0.5h-0.5zM231.4 261.9h0.5v0.5h-0.5zM231.9 262.1h0.5v0.5h-0.5zM210.4 262.5h0.5v0.5h-0.5zM226.4 262.6h0.5v0.5h-0.5zM227.0 262.5h0.5v0.5h-0.5zM228.0 262.5h0.5v0.5h-0.5zM231.3 262.6h0.5v0.5h-0.5zM231.9 262.5h0.5v0.5h-0.5zM205.5 263.1h0.5v0.5h-0.5zM219.8 263.1h0.5v0.5h-0.5zM228.5 263.1h0.5v0.5h-0.5zM213.8 263.6h0.5v0.5h-0.5zM223.6 263.8h0.5v0.5h-0.5zM226.5 263.8h0.5v0.5h-0.5zM227.0 263.6h0.5v0.5h-0.5zM228.2 263.8h0.5v0.5h-0.5zM230.4 263.7h0.5v0.5h-0.5zM231.3 263.7h0.5v0.5h-0.5zM232.0 263.7h0.5v0.5h-0.5zM232.5 263.8h0.5v0.5h-0.5zM214.5 264.4h0.5v0.5h-0.5zM224.2 264.3h0.5v0.5h-0.5zM229.2 264.2h0.5v0.5h-0.5zM232.1 264.4h0.5v0.5h-0.5zM232.4 264.3h0.5v0.5h-0.5zM225.9 264.8h0.5v0.5h-0.5zM227.1 264.7h0.5v0.5h-0.5zM227.5 264.7h0.5v0.5h-0.5zM232.5 264.7h0.5v0.5h-0.5zM215.6 265.2h0.5v0.5h-0.5zM226.4 265.3h0.5v0.5h-0.5zM231.4 265.4h0.5v0.5h-0.5zM231.8 265.3h0.5v0.5h-0.5zM232.6 265.5h0.5v0.5h-0.5zM214.8 265.8h0.5v0.5h-0.5zM227.6 266.0h0.5v0.5h-0.5zM228.0 266.0h0.5v0.5h-0.5zM229.1 265.8h0.5v0.5h-0.5zM231.9 265.9h0.5v0.5h-0.5zM232.4 265.8h0.5v0.5h-0.5zM213.1 266.5h0.5v0.5h-0.5zM223.0 266.4h0.5v0.5h-0.5zM229.3 266.5h0.5v0.5h-0.5zM229.9 266.4h0.5v0.5h-0.5zM230.8 266.4h0.5v0.5h-0.5zM231.3 266.3h0.5v0.5h-0.5zM226.3 267.0h0.5v0.5h-0.5zM231.0 267.0h0.5v0.5h-0.5zM232.6 267.0h0.5v0.5h-0.5zM217.1 267.5h0.5v0.5h-0.5zM229.6 267.5h0.5v0.5h-0.5zM231.3 267.7h0.5v0.5h-0.5zM232.6 267.4h0.5v0.5h-0.5zM204.9 268.2h0.5v0.5h-0.5zM211.6 268.1h0.5v0.5h-0.5zM213.7 268.0h0.5v0.5h-0.5zM224.7 268.1h0.5v0.5h-0.5zM226.0 268.1h0.5v0.5h-0.5zM228.2 268.2h0.5v0.5h-0.5zM229.6 268.1h0.5v0.5h-0.5zM231.5 268.0h0.5v0.5h-0.5zM232.0 268.2h0.5v0.5h-0.5zM232.4 268.1h0.5v0.5h-0.5zM213.3 268.7h0.5v0.5h-0.5zM215.0 268.7h0.5v0.5h-0.5zM232.0 268.8h0.5v0.5h-0.5zM232.4 268.8h0.5v0.5h-0.5zM218.9 269.3h0.5v0.5h-0.5zM226.6 269.1h0.5v0.5h-0.5zM230.9 269.2h0.5v0.5h-0.5zM231.4 269.1h0.5v0.5h-0.5zM232.6 269.3h0.5v0.5h-0.5zM227.6 269.8h0.5v0.5h-0.5zM203.5 270.4h0.5v0.5h-0.5zM218.2 270.3h0.5v0.5h-0.5zM219.8 270.2h0.5v0.5h-0.5zM221.0 270.3h0.5v0.5h-0.5zM223.3 270.4h0.5v0.5h-0.5zM229.2 270.2h0.5v0.5h-0.5zM229.7 270.4h0.5v0.5h-0.5zM230.2 270.4h0.5v0.5h-0.5zM230.8 270.3h0.5v0.5h-0.5zM232.1 270.3h0.5v0.5h-0.5zM232.4 270.3h0.5v0.5h-0.5zM215.3 270.9h0.5v0.5h-0.5zM219.9 270.8h0.5v0.5h-0.5zM228.5 270.8h0.5v0.5h-0.5zM229.1 270.8h0.5v0.5h-0.5zM232.4 270.8h0.5v0.5h-0.5zM201.0 271.5h0.5v0.5h-0.5zM204.3 271.4h0.5v0.5h-0.5zM218.1 271.5h0.5v0.5h-0.5zM229.3 271.3h0.5v0.5h-0.5zM232.0 271.3h0.5v0.5h-0.5zM232.6 271.3h0.5v0.5h-0.5zM229.8 271.9h0.5v0.5h-0.5zM230.8 272.0h0.5v0.5h-0.5zM232.0 271.8h0.5v0.5h-0.5zM217.2 272.5h0.5v0.5h-0.5zM221.6 272.4h0.5v0.5h-0.5zM226.6 272.5h0.5v0.5h-0.5zM229.1 272.6h0.5v0.5h-0.5zM229.9 272.5h0.5v0.5h-0.5zM230.8 272.5h0.5v0.5h-0.5zM231.3 272.4h0.5v0.5h-0.5zM231.9 272.6h0.5v0.5h-0.5zM232.6 272.6h0.5v0.5h-0.5zM208.8 272.9h0.5v0.5h-0.5zM224.2 273.0h0.5v0.5h-0.5zM229.3 272.9h0.5v0.5h-0.5zM230.7 272.9h0.5v0.5h-0.5zM205.1 273.6h0.5v0.5h-0.5zM206.1 273.6h0.5v0.5h-0.5zM207.6 273.7h0.5v0.5h-0.5zM222.7 273.5h0.5v0.5h-0.5zM226.6 273.6h0.5v0.5h-0.5zM227.7 273.7h0.5v0.5h-0.5zM228.8 273.6h0.5v0.5h-0.5zM229.9 273.7h0.5v0.5h-0.5zM230.2 273.5h0.5v0.5h-0.5zM231.9 273.7h0.5v0.5h-0.5zM205.0 274.1h0.5v0.5h-0.5zM211.0 274.0h0.5v0.5h-0.5zM227.0 274.3h0.5v0.5h-0.5zM229.2 274.3h0.5v0.5h-0.5zM230.3 274.3h0.5v0.5h-0.5zM230.8 274.3h0.5v0.5h-0.5zM205.1 274.6h0.5v0.5h-0.5zM209.8 274.6h0.5v0.5h-0.5zM212.6 274.7h0.5v0.5h-0.5zM217.8 274.7h0.5v0.5h-0.5zM218.7 274.7h0.5v0.5h-0.5zM220.9 274.8h0.5v0.5h-0.5zM223.7 274.8h0.5v0.5h-0.5zM228.0 274.7h0.5v0.5h-0.5zM228.6 274.7h0.5v0.5h-0.5zM231.0 274.6h0.5v0.5h-0.5zM223.6 275.3h0.5v0.5h-0.5zM225.3 275.4h0.5v0.5h-0.5zM227.7 275.4h0.5v0.5h-0.5zM229.8 275.3h0.5v0.5h-0.5zM231.4 275.3h0.5v0.5h-0.5zM206.2 275.7h0.5v0.5h-0.5zM229.7 275.7h0.5v0.5h-0.5zM230.7 275.7h0.5v0.5h-0.5zM201.2 276.4h0.5v0.5h-0.5zM208.9 276.2h0.5v0.5h-0.5zM212.0 276.4h0.5v0.5h-0.5zM218.2 276.5h0.5v0.5h-0.5zM223.2 276.4h0.5v0.5h-0.5zM224.7 276.3h0.5v0.5h-0.5zM225.9 276.2h0.5v0.5h-0.5zM226.3 276.4h0.5v0.5h-0.5zM229.1 276.2h0.5v0.5h-0.5zM232.0 276.4h0.5v0.5h-0.5zM204.5 276.9h0.5v0.5h-0.5zM204.9 276.9h0.5v0.5h-0.5zM206.7 277.0h0.5v0.5h-0.5zM209.8 276.8h0.5v0.5h-0.5zM212.2 276.9h0.5v0.5h-0.5zM214.8 276.8h0.5v0.5h-0.5zM224.7 276.8h0.5v0.5h-0.5zM225.9 276.8h0.5v0.5h-0.5zM227.1 276.8h0.5v0.5h-0.5zM229.3 277.0h0.5v0.5h-0.5zM231.4 276.8h0.5v0.5h-0.5zM231.8 276.9h0.5v0.5h-0.5zM206.7 277.5h0.5v0.5h-0.5zM211.7 277.4h0.5v0.5h-0.5zM217.7 277.5h0.5v0.5h-0.5zM226.4 277.4h0.5v0.5h-0.5zM227.1 277.3h0.5v0.5h-0.5zM228.8 277.4h0.5v0.5h-0.5zM231.5 277.6h0.5v0.5h-0.5zM232.6 277.6h0.5v0.5h-0.5zM201.2 277.9h0.5v0.5h-0.5zM203.9 278.0h0.5v0.5h-0.5zM221.5 277.9h0.5v0.5h-0.5zM228.8 278.0h0.5v0.5h-0.5zM230.3 277.9h0.5v0.5h-0.5zM230.9 277.9h0.5v0.5h-0.5zM232.6 277.9h0.5v0.5h-0.5z" fill="#2e2e2e" opacity="0.9"/>
<g filter="url(#b2)"><rect x="227.4" y="257" width="5.6" height="21" fill="#777" opacity="0.45"/></g>
<g filter="url(#b1)">
<path d="M200.8 278.4 L231 277.8 L241 279 Q242.6 282 242.4 286 L241.6 296.2 L200.8 296.2 Z" fill="url(#bg6)"/>
<path d="M200.8 278.2 L241 278.2 L241.4 280.8 L200.8 281.2 Z" fill="#1e1e1e"/>
<path d="M200.8 281 L203 281 L203 296 L200.8 296 Z" fill="#333"/>
<rect x="200.8" y="288" width="20" height="8.2" fill="url(#bg6b)"/>
<path d="M232 282.4 Q232.4 279.6 236.6 279.6 Q241.2 279.8 241.4 284 Q242 290 240.8 296 L232.6 296 Q231.4 289 232 282.4 Z" fill="#1a1a1a"/>
<path d="M234.2 284 Q234.6 281.4 236.8 281.4 Q239.2 281.6 239.4 284.4 Q239.8 289.6 239 294.6 L234.6 294.6 Q233.8 289 234.2 284 Z" fill="#cacaca"/>
<path d="M232.4 257.4 Q232.8 253 235.6 253 Q238.8 253.2 239 257.6 L239.2 279 L232.2 279 Z" fill="url(#vg6)"/>
</g>
<text x="206.1" y="247.25" font-size="4.7" text-anchor="middle" font-weight="bold" fill="#1c1c1c">0.25</text>
<text x="249.7" y="247.25" font-size="4.7" text-anchor="middle" font-weight="bold" fill="#1c1c1c">3.36</text>
<text x="205.6" y="295.55" font-size="4.7" text-anchor="middle" font-weight="bold" fill="#1c1c1c">63.5</text>
<text x="250" y="295.55" font-size="4.7" text-anchor="middle" font-weight="bold" fill="#1c1c1c">32.8</text>
<text x="217.6" y="258.21" font-size="8.4" text-anchor="middle" font-weight="normal" fill="#1a1a1a">TE</text>
<text x="242" y="258.21" font-size="8.4" text-anchor="middle" font-weight="normal" fill="#1a1a1a">E</text>
<text x="3.2" y="335" font-size="15.6" text-anchor="start" font-weight="bold" fill="#000">B</text>
<line x1="36.6" y1="337.8" x2="36.6" y2="417.6" stroke="#222" stroke-width="0.9"/>
<line x1="32.3" y1="417.6" x2="97.4" y2="417.6" stroke="#222" stroke-width="0.9"/>
<line x1="32.3" y1="338.2" x2="36.6" y2="338.2" stroke="#222" stroke-width="0.9"/>
<text x="31.6" y="340.8" font-size="7.2" text-anchor="end" font-weight="normal" fill="#333">30</text>
<line x1="32.3" y1="364.6" x2="36.6" y2="364.6" stroke="#222" stroke-width="0.9"/>
<text x="31.6" y="367.20000000000005" font-size="7.2" text-anchor="end" font-weight="normal" fill="#333">20</text>
<line x1="32.3" y1="391.1" x2="36.6" y2="391.1" stroke="#222" stroke-width="0.9"/>
<text x="31.6" y="393.70000000000005" font-size="7.2" text-anchor="end" font-weight="normal" fill="#333">10</text>
<text x="31.6" y="420.20000000000005" font-size="7.2" text-anchor="end" font-weight="normal" fill="#333">0</text>
<line x1="52.1" y1="417.6" x2="52.1" y2="420" stroke="#222" stroke-width="0.9"/>
<line x1="82.5" y1="417.6" x2="82.5" y2="420" stroke="#222" stroke-width="0.9"/>
<text x="51.9" y="428.5" font-size="7.4" text-anchor="middle" font-weight="normal" fill="#333">HC</text>
<text x="82.3" y="428.5" font-size="7.4" text-anchor="middle" font-weight="normal" fill="#333">HIV</text>
<text x="14.4" y="379.9" font-size="9.2" text-anchor="middle" font-weight="normal" fill="#222" transform="rotate(-90 14.4 379.9)" textLength="55.3" lengthAdjust="spacingAndGlyphs">% pTFH cells</text>
<line x1="51.8" y1="359" x2="51.8" y2="371.1" stroke="#222" stroke-width="0.95"/>
<line x1="51.8" y1="388.3" x2="51.8" y2="393.5" stroke="#222" stroke-width="0.95"/>
<line x1="46.4" y1="359" x2="57.199999999999996" y2="359" stroke="#222" stroke-width="0.95"/>
<line x1="46.4" y1="393.5" x2="57.199999999999996" y2="393.5" stroke="#222" stroke-width="0.95"/>
<rect x="41.3" y="371.1" width="21.0" height="17.19999999999999" fill="#0d0d0d" stroke="#222" stroke-width="0.95"/>
<line x1="82.55" y1="350.3" x2="82.55" y2="368" stroke="#222" stroke-width="0.95"/>
<line x1="82.55" y1="389.3" x2="82.55" y2="402.5" stroke="#222" stroke-width="0.95"/>
<line x1="77.14999999999999" y1="350.3" x2="87.95" y2="350.3" stroke="#222" stroke-width="0.95"/>
<line x1="77.14999999999999" y1="402.5" x2="87.95" y2="402.5" stroke="#222" stroke-width="0.95"/>
<rect x="72.3" y="368" width="20.5" height="21.30000000000001" fill="#adadad" stroke="#222" stroke-width="0.95"/>
<line x1="72.3" y1="379.7" x2="92.8" y2="379.7" stroke="#333" stroke-width="0.8"/>
<rect x="96.1" y="331.2" width="14.4" height="4.6" fill="#0a0a0a" stroke="#000" stroke-width="0.5"/>
<rect x="96.1" y="340.9" width="14.4" height="4.6" fill="#ababab" stroke="#444" stroke-width="0.6"/>
<text x="116.6" y="335.6" font-size="6.2" text-anchor="start" font-weight="normal" fill="#484848">HC</text>
<text x="116.6" y="345.3" font-size="6.2" text-anchor="start" font-weight="normal" fill="#484848">HIV</text>
<text x="292.3" y="17" font-size="16" text-anchor="start" font-weight="bold" fill="#000">C</text>
<line x1="326.6" y1="9.1" x2="326.6" y2="129.8" stroke="#4a4a4a" stroke-width="0.8"/>
<line x1="323.5" y1="9.5" x2="326.6" y2="9.5" stroke="#4a4a4a" stroke-width="0.8"/>
<text x="323.0" y="11.55" font-size="5.8" text-anchor="end" font-weight="normal" fill="#555">100</text>
<line x1="323.5" y1="33.6" x2="326.6" y2="33.6" stroke="#4a4a4a" stroke-width="0.8"/>
<text x="323.0" y="35.65" font-size="5.8" text-anchor="end" font-weight="normal" fill="#555">80</text>
<line x1="323.5" y1="57.7" x2="326.6" y2="57.7" stroke="#4a4a4a" stroke-width="0.8"/>
<text x="323.0" y="59.75" font-size="5.8" text-anchor="end" font-weight="normal" fill="#555">60</text>
<line x1="323.5" y1="81.7" x2="326.6" y2="81.7" stroke="#4a4a4a" stroke-width="0.8"/>
<text x="323.0" y="83.75" font-size="5.8" text-anchor="end" font-weight="normal" fill="#555">40</text>
<line x1="323.5" y1="105.8" x2="326.6" y2="105.8" stroke="#4a4a4a" stroke-width="0.8"/>
<text x="323.0" y="107.85" font-size="5.8" text-anchor="end" font-weight="normal" fill="#555">20</text>
<line x1="323.5" y1="129.8" x2="326.6" y2="129.8" stroke="#4a4a4a" stroke-width="0.8"/>
<text x="323.0" y="131.85000000000002" font-size="5.8" text-anchor="end" font-weight="normal" fill="#555">0</text>
<line x1="323.5" y1="129.8" x2="507.7" y2="129.8" stroke="#4a4a4a" stroke-width="0.9"/>
<text x="305.8" y="70" font-size="7" text-anchor="middle" fill="#222" textLength="81.6" lengthAdjust="spacingAndGlyphs" transform="rotate(-90 305.8 70)">% of CXCR5<tspan dy="-1.4" font-size="5">+</tspan><tspan dy="1.4">CD4 T cells</tspan></text>
<line x1="335.0" y1="68.3" x2="335.0" y2="104.6" stroke="#333" stroke-width="0.7"/>
<line x1="335.0" y1="113.5" x2="335.0" y2="120.3" stroke="#333" stroke-width="0.7"/>
<line x1="331.7" y1="68.3" x2="338.3" y2="68.3" stroke="#333" stroke-width="0.7"/>
<line x1="331.7" y1="120.3" x2="338.3" y2="120.3" stroke="#333" stroke-width="0.7"/>
<rect x="329.2" y="104.6" width="11.600000000000023" height="8.900000000000006" fill="#0d0d0d" stroke="#333" stroke-width="0.7"/>
<line x1="352.35" y1="89.2" x2="352.35" y2="110.5" stroke="#333" stroke-width="0.7"/>
<line x1="352.35" y1="121.5" x2="352.35" y2="127.4" stroke="#333" stroke-width="0.7"/>
<line x1="349.05" y1="89.2" x2="355.65000000000003" y2="89.2" stroke="#333" stroke-width="0.7"/>
<line x1="349.05" y1="127.4" x2="355.65000000000003" y2="127.4" stroke="#333" stroke-width="0.7"/>
<rect x="346.2" y="110.5" width="12.300000000000011" height="11.0" fill="#adadad" stroke="#333" stroke-width="0.7"/>
<line x1="346.2" y1="114.2" x2="358.5" y2="114.2" stroke="#555" stroke-width="0.8"/>
<line x1="372.55" y1="23.5" x2="372.55" y2="28" stroke="#333" stroke-width="0.7"/>
<line x1="372.55" y1="40" x2="372.55" y2="72" stroke="#333" stroke-width="0.7"/>
<line x1="369.75" y1="23.5" x2="375.35" y2="23.5" stroke="#333" stroke-width="0.7"/>
<line x1="369.75" y1="72" x2="375.35" y2="72" stroke="#333" stroke-width="0.7"/>
<rect x="366.6" y="28" width="11.899999999999977" height="12" fill="#0d0d0d" stroke="#333" stroke-width="0.7"/>
<line x1="389.8" y1="17.2" x2="389.8" y2="22" stroke="#333" stroke-width="0.7"/>
<line x1="389.8" y1="33" x2="389.8" y2="53.8" stroke="#333" stroke-width="0.7"/>
<line x1="386.90000000000003" y1="17.2" x2="392.7" y2="17.2" stroke="#333" stroke-width="0.7"/>
<line x1="386.90000000000003" y1="53.8" x2="392.7" y2="53.8" stroke="#333" stroke-width="0.7"/>
<rect x="383.8" y="22" width="12.0" height="11" fill="#adadad" stroke="#333" stroke-width="0.7"/>
<line x1="383.8" y1="29.2" x2="395.8" y2="29.2" stroke="#555" stroke-width="0.8"/>
<line x1="409.6" y1="121.5" x2="409.6" y2="126.2" stroke="#333" stroke-width="0.7"/>
<line x1="409.6" y1="129" x2="409.6" y2="129.6" stroke="#333" stroke-width="0.7"/>
<line x1="406.6" y1="121.5" x2="412.6" y2="121.5" stroke="#333" stroke-width="0.7"/>
<line x1="406.6" y1="129.6" x2="412.6" y2="129.6" stroke="#333" stroke-width="0.7"/>
<rect x="403.8" y="126.2" width="11.599999999999966" height="2.799999999999997" fill="#0d0d0d" stroke="#333" stroke-width="0.7"/>
<line x1="426.55" y1="109" x2="426.55" y2="125.8" stroke="#333" stroke-width="0.7"/>
<line x1="426.55" y1="129.2" x2="426.55" y2="129.6" stroke="#333" stroke-width="0.7"/>
<line x1="423.65000000000003" y1="109" x2="429.45" y2="109" stroke="#333" stroke-width="0.7"/>
<line x1="423.65000000000003" y1="129.6" x2="429.45" y2="129.6" stroke="#333" stroke-width="0.7"/>
<rect x="420.8" y="125.8" width="11.5" height="3.3999999999999915" fill="#adadad" stroke="#333" stroke-width="0.7"/>
<line x1="420.8" y1="127.4" x2="432.3" y2="127.4" stroke="#555" stroke-width="0.8"/>
<line x1="440.8" y1="129.1" x2="452.3" y2="129.1" stroke="#111" stroke-width="1.1"/>
<line x1="464.1" y1="126.2" x2="464.1" y2="128.6" stroke="#333" stroke-width="0.7"/>
<line x1="464.1" y1="129.6" x2="464.1" y2="129.7" stroke="#333" stroke-width="0.7"/>
<line x1="461.0" y1="126.2" x2="467.20000000000005" y2="126.2" stroke="#333" stroke-width="0.7"/>
<line x1="461.0" y1="129.7" x2="467.20000000000005" y2="129.7" stroke="#333" stroke-width="0.7"/>
<rect x="458.2" y="128.6" width="11.800000000000011" height="1.0" fill="#0d0d0d" stroke="#333" stroke-width="0.7"/>
<line x1="496" y1="129.2" x2="500.8" y2="129.2" stroke="#444" stroke-width="0.9"/>
<line x1="334.6" y1="60" x2="352.3" y2="60" stroke="#333" stroke-width="0.7"/>
<line x1="334.6" y1="57.7" x2="334.6" y2="62.3" stroke="#333" stroke-width="0.7"/>
<line x1="352.3" y1="57.7" x2="352.3" y2="62.3" stroke="#333" stroke-width="0.7"/>
<text x="343.95000000000005" y="54.2" font-size="4.6" text-anchor="middle" font-weight="bold" fill="#555">p = 0.015</text>
<line x1="371.5" y1="12.3" x2="388.8" y2="12.3" stroke="#333" stroke-width="0.7"/>
<line x1="371.5" y1="10.0" x2="371.5" y2="14.600000000000001" stroke="#333" stroke-width="0.7"/>
<line x1="388.8" y1="10.0" x2="388.8" y2="14.600000000000001" stroke="#333" stroke-width="0.7"/>
<text x="380.65" y="6.2" font-size="4.6" text-anchor="middle" font-weight="bold" fill="#555">p = 0.010</text>
<text x="342.3" y="142.8" font-size="6.5" text-anchor="middle" font-weight="normal" fill="#222">N</text>
<text x="381.5" y="142.8" font-size="6.5" text-anchor="middle" font-weight="normal" fill="#222">CM</text>
<text x="418" y="142.8" font-size="6.5" text-anchor="middle" font-weight="normal" fill="#222">EM</text>
<text x="455.4" y="142.8" font-size="6.5" text-anchor="middle" font-weight="normal" fill="#222">E</text>
<text x="492.3" y="142.8" font-size="6.5" text-anchor="middle" font-weight="normal" fill="#222">TE</text>
<rect x="484.1" y="7.700000000000001" width="14.2" height="3.7" fill="#0a0a0a" stroke="#000" stroke-width="0.5"/>
<rect x="484.1" y="17.7" width="14.2" height="3.7" fill="#ababab" stroke="#444" stroke-width="0.6"/>
<text x="505" y="11.65" font-size="6.1" text-anchor="start" font-weight="normal" fill="#484848">HC</text>
<text x="505" y="21.650000000000002" font-size="6.1" text-anchor="start" font-weight="normal" fill="#484848">HIV</text>
<text x="294.4" y="175" font-size="16" text-anchor="start" font-weight="bold" fill="#000">D</text>
<line x1="326.6" y1="164.1" x2="326.6" y2="284.7" stroke="#4a4a4a" stroke-width="0.8"/>
<line x1="323.5" y1="164.5" x2="326.6" y2="164.5" stroke="#4a4a4a" stroke-width="0.8"/>
<text x="323.0" y="166.55" font-size="5.8" text-anchor="end" font-weight="normal" fill="#555">100</text>
<line x1="323.5" y1="188.5" x2="326.6" y2="188.5" stroke="#4a4a4a" stroke-width="0.8"/>
<text x="323.0" y="190.55" font-size="5.8" text-anchor="end" font-weight="normal" fill="#555">80</text>
<line x1="323.5" y1="212.6" x2="326.6" y2="212.6" stroke="#4a4a4a" stroke-width="0.8"/>
<text x="323.0" y="214.65" font-size="5.8" text-anchor="end" font-weight="normal" fill="#555">60</text>
<line x1="323.5" y1="236.6" x2="326.6" y2="236.6" stroke="#4a4a4a" stroke-width="0.8"/>
<text x="323.0" y="238.65" font-size="5.8" text-anchor="end" font-weight="normal" fill="#555">40</text>
<line x1="323.5" y1="260.7" x2="326.6" y2="260.7" stroke="#4a4a4a" stroke-width="0.8"/>
<text x="323.0" y="262.75" font-size="5.8" text-anchor="end" font-weight="normal" fill="#555">20</text>
<line x1="323.5" y1="284.7" x2="326.6" y2="284.7" stroke="#4a4a4a" stroke-width="0.8"/>
<text x="323.0" y="286.75" font-size="5.8" text-anchor="end" font-weight="normal" fill="#555">0</text>
<line x1="323.5" y1="284.7" x2="508.6" y2="284.7" stroke="#4a4a4a" stroke-width="0.9"/>
<text x="305.8" y="226.3" font-size="7" text-anchor="middle" fill="#222" textLength="80.4" lengthAdjust="spacingAndGlyphs" transform="rotate(-90 305.8 226.3)">% of CXCR5<tspan dy="-1.4" font-size="5">−</tspan><tspan dy="1.4">CD4 T cells</tspan></text>
<line x1="335.1" y1="184.5" x2="335.1" y2="201.2" stroke="#333" stroke-width="0.7"/>
<line x1="335.1" y1="216.5" x2="335.1" y2="252" stroke="#333" stroke-width="0.7"/>
<line x1="331.8" y1="184.5" x2="338.40000000000003" y2="184.5" stroke="#333" stroke-width="0.7"/>
<line x1="331.8" y1="252" x2="338.40000000000003" y2="252" stroke="#333" stroke-width="0.7"/>
<rect x="329.2" y="201.2" width="11.800000000000011" height="15.300000000000011" fill="#0d0d0d" stroke="#333" stroke-width="0.7"/>
<line x1="352.35" y1="191.5" x2="352.35" y2="205" stroke="#333" stroke-width="0.7"/>
<line x1="352.35" y1="237.8" x2="352.35" y2="278.2" stroke="#333" stroke-width="0.7"/>
<line x1="349.05" y1="191.5" x2="355.65000000000003" y2="191.5" stroke="#333" stroke-width="0.7"/>
<line x1="349.05" y1="278.2" x2="355.65000000000003" y2="278.2" stroke="#333" stroke-width="0.7"/>
<rect x="346.2" y="205" width="12.300000000000011" height="32.80000000000001" fill="#adadad" stroke="#333" stroke-width="0.7"/>
<line x1="346.2" y1="223.4" x2="358.5" y2="223.4" stroke="#555" stroke-width="0.8"/>
<line x1="372.3" y1="229.8" x2="372.3" y2="242.4" stroke="#333" stroke-width="0.7"/>
<line x1="372.3" y1="257.7" x2="372.3" y2="271.6" stroke="#333" stroke-width="0.7"/>
<line x1="369.3" y1="229.8" x2="375.3" y2="229.8" stroke="#333" stroke-width="0.7"/>
<line x1="369.3" y1="271.6" x2="375.3" y2="271.6" stroke="#333" stroke-width="0.7"/>
<rect x="366.6" y="242.4" width="11.399999999999977" height="15.299999999999983" fill="#0d0d0d" stroke="#333" stroke-width="0.7"/>
<line x1="390.0" y1="219.7" x2="390.0" y2="238.4" stroke="#333" stroke-width="0.7"/>
<line x1="390.0" y1="256" x2="390.0" y2="267.2" stroke="#333" stroke-width="0.7"/>
<line x1="387.0" y1="219.7" x2="393.0" y2="219.7" stroke="#333" stroke-width="0.7"/>
<line x1="387.0" y1="267.2" x2="393.0" y2="267.2" stroke="#333" stroke-width="0.7"/>
<rect x="384.2" y="238.4" width="11.600000000000023" height="17.599999999999994" fill="#adadad" stroke="#333" stroke-width="0.7"/>
<line x1="384.2" y1="247.4" x2="395.8" y2="247.4" stroke="#555" stroke-width="0.8"/>
<line x1="409.7" y1="257.1" x2="409.7" y2="274.2" stroke="#333" stroke-width="0.7"/>
<line x1="409.7" y1="278.6" x2="409.7" y2="281.9" stroke="#333" stroke-width="0.7"/>
<line x1="406.7" y1="257.1" x2="412.7" y2="257.1" stroke="#333" stroke-width="0.7"/>
<line x1="406.7" y1="281.9" x2="412.7" y2="281.9" stroke="#333" stroke-width="0.7"/>
<rect x="404" y="274.2" width="11.399999999999977" height="4.400000000000034" fill="#0d0d0d" stroke="#333" stroke-width="0.7"/>
<line x1="426.7" y1="226.3" x2="426.7" y2="261" stroke="#333" stroke-width="0.7"/>
<line x1="426.7" y1="275.3" x2="426.7" y2="281.3" stroke="#333" stroke-width="0.7"/>
<line x1="423.7" y1="226.3" x2="429.7" y2="226.3" stroke="#333" stroke-width="0.7"/>
<line x1="423.7" y1="281.3" x2="429.7" y2="281.3" stroke="#333" stroke-width="0.7"/>
<rect x="420.9" y="261" width="11.600000000000023" height="14.300000000000011" fill="#adadad" stroke="#333" stroke-width="0.7"/>
<line x1="420.9" y1="271" x2="432.5" y2="271" stroke="#555" stroke-width="0.8"/>
<line x1="446.85" y1="280.3" x2="446.85" y2="282.3" stroke="#333" stroke-width="0.7"/>
<line x1="446.85" y1="284.4" x2="446.85" y2="284.6" stroke="#333" stroke-width="0.7"/>
<line x1="443.85" y1="280.3" x2="449.85" y2="280.3" stroke="#333" stroke-width="0.7"/>
<line x1="443.85" y1="284.6" x2="449.85" y2="284.6" stroke="#333" stroke-width="0.7"/>
<rect x="441.1" y="282.3" width="11.5" height="2.099999999999966" fill="#0d0d0d" stroke="#333" stroke-width="0.7"/>
<line x1="464.05" y1="250" x2="464.05" y2="274.2" stroke="#333" stroke-width="0.7"/>
<line x1="464.05" y1="283" x2="464.05" y2="284.5" stroke="#333" stroke-width="0.7"/>
<line x1="460.8" y1="250" x2="467.3" y2="250" stroke="#333" stroke-width="0.7"/>
<line x1="460.8" y1="284.5" x2="467.3" y2="284.5" stroke="#333" stroke-width="0.7"/>
<rect x="458" y="274.2" width="12.100000000000023" height="8.800000000000011" fill="#adadad" stroke="#333" stroke-width="0.7"/>
<line x1="458" y1="279.7" x2="470.1" y2="279.7" stroke="#555" stroke-width="0.8"/>
<line x1="481.1" y1="279.7" x2="481.1" y2="283.9" stroke="#333" stroke-width="0.7"/>
<line x1="481.1" y1="284.6" x2="481.1" y2="284.7" stroke="#333" stroke-width="0.7"/>
<line x1="478.5" y1="279.7" x2="483.70000000000005" y2="279.7" stroke="#333" stroke-width="0.7"/>
<line x1="478.5" y1="284.7" x2="483.70000000000005" y2="284.7" stroke="#333" stroke-width="0.7"/>
<rect x="475.6" y="283.9" width="11.0" height="0.7000000000000455" fill="#0d0d0d" stroke="#333" stroke-width="0.7"/>
<line x1="498.35" y1="274.2" x2="498.35" y2="281.9" stroke="#333" stroke-width="0.7"/>
<line x1="498.35" y1="284.5" x2="498.35" y2="284.7" stroke="#333" stroke-width="0.7"/>
<line x1="495.85" y1="274.2" x2="500.85" y2="274.2" stroke="#333" stroke-width="0.7"/>
<line x1="495.85" y1="284.7" x2="500.85" y2="284.7" stroke="#333" stroke-width="0.7"/>
<rect x="492.5" y="281.9" width="11.699999999999989" height="2.6000000000000227" fill="#adadad" stroke="#333" stroke-width="0.7"/>
<line x1="334.6" y1="178.8" x2="352.3" y2="178.8" stroke="#333" stroke-width="0.7"/>
<line x1="334.6" y1="176.5" x2="334.6" y2="181.10000000000002" stroke="#333" stroke-width="0.7"/>
<line x1="352.3" y1="176.5" x2="352.3" y2="181.10000000000002" stroke="#333" stroke-width="0.7"/>
<text x="343.95000000000005" y="174.6" font-size="4.6" text-anchor="middle" font-weight="bold" fill="#555">p = 0.036</text>
<line x1="408.8" y1="220" x2="426" y2="220" stroke="#333" stroke-width="0.7"/>
<line x1="408.8" y1="217.7" x2="408.8" y2="222.3" stroke="#333" stroke-width="0.7"/>
<line x1="426" y1="217.7" x2="426" y2="222.3" stroke="#333" stroke-width="0.7"/>
<text x="417.9" y="216.1" font-size="4.6" text-anchor="middle" font-weight="bold" fill="#555">p = 0.022</text>
<line x1="446.4" y1="244.5" x2="464.2" y2="244.5" stroke="#333" stroke-width="0.7"/>
<line x1="446.4" y1="242.2" x2="446.4" y2="246.8" stroke="#333" stroke-width="0.7"/>
<line x1="464.2" y1="242.2" x2="464.2" y2="246.8" stroke="#333" stroke-width="0.7"/>
<text x="455.79999999999995" y="240" font-size="4.6" text-anchor="middle" font-weight="bold" fill="#555">p = 0.004</text>
<text x="342.3" y="294.8" font-size="6.5" text-anchor="middle" font-weight="normal" fill="#222">N</text>
<text x="382" y="294.8" font-size="6.5" text-anchor="middle" font-weight="normal" fill="#222">CM</text>
<text x="418.2" y="294.8" font-size="6.5" text-anchor="middle" font-weight="normal" fill="#222">EM</text>
<text x="455.2" y="294.8" font-size="6.5" text-anchor="middle" font-weight="normal" fill="#222">E</text>
<text x="490.6" y="294.8" font-size="6.5" text-anchor="middle" font-weight="normal" fill="#222">TE</text>
<rect x="484.1" y="168.15" width="14.2" height="3.9" fill="#0a0a0a" stroke="#000" stroke-width="0.5"/>
<rect x="484.1" y="178.05" width="14.2" height="3.9" fill="#ababab" stroke="#444" stroke-width="0.6"/>
<text x="505" y="172.2" font-size="6.1" text-anchor="start" font-weight="normal" fill="#484848">HC</text>
<text x="505" y="182.1" font-size="6.1" text-anchor="start" font-weight="normal" fill="#484848">HIV</text>
<text x="295.8" y="324.7" font-size="15.6" text-anchor="start" font-weight="bold" fill="#000">E</text>
<line x1="326.6" y1="324.3" x2="326.6" y2="364.7" stroke="#4a4a4a" stroke-width="0.8"/>
<line x1="322.40000000000003" y1="324.7" x2="326.6" y2="324.7" stroke="#4a4a4a" stroke-width="0.8"/>
<text x="321.90000000000003" y="326.75" font-size="6.2" text-anchor="end" font-weight="normal" fill="#2a2a2a">100</text>
<line x1="322.40000000000003" y1="332.7" x2="326.6" y2="332.7" stroke="#4a4a4a" stroke-width="0.8"/>
<text x="321.90000000000003" y="334.75" font-size="6.2" text-anchor="end" font-weight="normal" fill="#2a2a2a">95</text>
<line x1="322.40000000000003" y1="340.7" x2="326.6" y2="340.7" stroke="#4a4a4a" stroke-width="0.8"/>
<text x="321.90000000000003" y="342.75" font-size="6.2" text-anchor="end" font-weight="normal" fill="#2a2a2a">90</text>
<line x1="322.40000000000003" y1="348.7" x2="326.6" y2="348.7" stroke="#4a4a4a" stroke-width="0.8"/>
<text x="321.90000000000003" y="350.75" font-size="6.2" text-anchor="end" font-weight="normal" fill="#2a2a2a">85</text>
<line x1="322.40000000000003" y1="356.7" x2="326.6" y2="356.7" stroke="#4a4a4a" stroke-width="0.8"/>
<text x="321.90000000000003" y="358.75" font-size="6.2" text-anchor="end" font-weight="normal" fill="#2a2a2a">80</text>
<line x1="322.40000000000003" y1="364.7" x2="326.6" y2="364.7" stroke="#4a4a4a" stroke-width="0.8"/>
<text x="321.90000000000003" y="366.75" font-size="6.2" text-anchor="end" font-weight="normal" fill="#2a2a2a">75</text>
<line x1="326.6" y1="373.6" x2="326.6" y2="415.5" stroke="#4a4a4a" stroke-width="0.8"/>
<line x1="322.40000000000003" y1="374" x2="326.6" y2="374" stroke="#4a4a4a" stroke-width="0.8"/>
<text x="321.90000000000003" y="376.05" font-size="6.2" text-anchor="end" font-weight="normal" fill="#2a2a2a">25</text>
<line x1="322.40000000000003" y1="382.3" x2="326.6" y2="382.3" stroke="#4a4a4a" stroke-width="0.8"/>
<text x="321.90000000000003" y="384.35" font-size="6.2" text-anchor="end" font-weight="normal" fill="#2a2a2a">20</text>
<line x1="322.40000000000003" y1="390.6" x2="326.6" y2="390.6" stroke="#4a4a4a" stroke-width="0.8"/>
<text x="321.90000000000003" y="392.65000000000003" font-size="6.2" text-anchor="end" font-weight="normal" fill="#2a2a2a">15</text>
<line x1="322.40000000000003" y1="398.9" x2="326.6" y2="398.9" stroke="#4a4a4a" stroke-width="0.8"/>
<text x="321.90000000000003" y="400.95" font-size="6.2" text-anchor="end" font-weight="normal" fill="#2a2a2a">10</text>
<line x1="322.40000000000003" y1="407.2" x2="326.6" y2="407.2" stroke="#4a4a4a" stroke-width="0.8"/>
<text x="321.90000000000003" y="409.25" font-size="6.2" text-anchor="end" font-weight="normal" fill="#2a2a2a">5</text>
<line x1="322.40000000000003" y1="415.5" x2="326.6" y2="415.5" stroke="#4a4a4a" stroke-width="0.8"/>
<text x="321.90000000000003" y="417.55" font-size="6.2" text-anchor="end" font-weight="normal" fill="#2a2a2a">0</text>
<line x1="326.6" y1="364.7" x2="328.6" y2="364.7" stroke="#4a4a4a" stroke-width="0.8"/>
<line x1="326.6" y1="374" x2="328.6" y2="374" stroke="#4a4a4a" stroke-width="0.8"/>
<line x1="322.4" y1="415.6" x2="504.6" y2="415.6" stroke="#4a4a4a" stroke-width="0.9"/>
<text x="305.8" y="371.5" font-size="7.2" text-anchor="middle" fill="#222" textLength="75" lengthAdjust="spacingAndGlyphs" transform="rotate(-90 305.8 371.5)">% IL-21<tspan dy="-1.8" font-size="5.4">+</tspan><tspan dy="1.8"> pTFH cells</tspan></text>
<line x1="335.2" y1="394.2" x2="335.2" y2="402.8" stroke="#262626" stroke-width="0.95"/>
<line x1="335.2" y1="410.8" x2="335.2" y2="414" stroke="#262626" stroke-width="0.95"/>
<line x1="332.09999999999997" y1="394.2" x2="338.3" y2="394.2" stroke="#262626" stroke-width="0.95"/>
<line x1="332.09999999999997" y1="414" x2="338.3" y2="414" stroke="#262626" stroke-width="0.95"/>
<rect x="329.2" y="402.8" width="12.0" height="8.0" fill="#151515" stroke="#262626" stroke-width="0.95"/>
<line x1="352.7" y1="406.3" x2="352.7" y2="407.4" stroke="#262626" stroke-width="0.95"/>
<line x1="352.7" y1="411.7" x2="352.7" y2="415.4" stroke="#262626" stroke-width="0.95"/>
<line x1="349.4" y1="406.3" x2="356.0" y2="406.3" stroke="#262626" stroke-width="0.95"/>
<line x1="349.4" y1="415.4" x2="356.0" y2="415.4" stroke="#262626" stroke-width="0.95"/>
<rect x="346.4" y="407.4" width="12.600000000000023" height="4.300000000000011" fill="#c6c6c6" stroke="#262626" stroke-width="0.95"/>
<line x1="346.4" y1="409.5" x2="359" y2="409.5" stroke="#444" stroke-width="0.8"/>
<line x1="370.8" y1="329.6" x2="370.8" y2="334.7" stroke="#262626" stroke-width="0.95"/>
<line x1="370.8" y1="344.1" x2="370.8" y2="348.8" stroke="#262626" stroke-width="0.95"/>
<line x1="367.90000000000003" y1="329.6" x2="373.7" y2="329.6" stroke="#262626" stroke-width="0.95"/>
<line x1="367.90000000000003" y1="348.8" x2="373.7" y2="348.8" stroke="#262626" stroke-width="0.95"/>
<rect x="364.8" y="334.7" width="12.0" height="9.400000000000034" fill="#1c1c1c" stroke="#262626" stroke-width="0.95"/>
<line x1="388.65" y1="329.6" x2="388.65" y2="333.4" stroke="#262626" stroke-width="0.95"/>
<line x1="388.65" y1="341.1" x2="388.65" y2="345.3" stroke="#262626" stroke-width="0.95"/>
<line x1="385.54999999999995" y1="329.6" x2="391.75" y2="329.6" stroke="#262626" stroke-width="0.95"/>
<line x1="385.54999999999995" y1="345.3" x2="391.75" y2="345.3" stroke="#262626" stroke-width="0.95"/>
<rect x="382.5" y="333.4" width="12.300000000000011" height="7.7000000000000455" fill="#e4e4e4" stroke="#262626" stroke-width="0.95"/>
<line x1="382.5" y1="337" x2="394.8" y2="337" stroke="#444" stroke-width="0.8"/>
<line x1="382.5" y1="335.2" x2="394.8" y2="335.2" stroke="#999" stroke-width="0.5"/>
<line x1="382.5" y1="339.2" x2="394.8" y2="339.2" stroke="#999" stroke-width="0.5"/>
<line x1="406.4" y1="399.1" x2="406.4" y2="409.3" stroke="#262626" stroke-width="0.95"/>
<line x1="406.4" y1="412.8" x2="406.4" y2="415.4" stroke="#262626" stroke-width="0.95"/>
<line x1="403.34999999999997" y1="399.1" x2="409.45" y2="399.1" stroke="#262626" stroke-width="0.95"/>
<line x1="403.34999999999997" y1="415.4" x2="409.45" y2="415.4" stroke="#262626" stroke-width="0.95"/>
<rect x="400.2" y="409.3" width="12.400000000000034" height="3.5" fill="#151515" stroke="#262626" stroke-width="0.95"/>
<line x1="424.4" y1="400.2" x2="424.4" y2="409.6" stroke="#262626" stroke-width="0.95"/>
<line x1="424.4" y1="412.8" x2="424.4" y2="415.4" stroke="#262626" stroke-width="0.95"/>
<line x1="421.34999999999997" y1="400.2" x2="427.45" y2="400.2" stroke="#262626" stroke-width="0.95"/>
<line x1="421.34999999999997" y1="415.4" x2="427.45" y2="415.4" stroke="#262626" stroke-width="0.95"/>
<rect x="418.2" y="409.6" width="12.400000000000034" height="3.1999999999999886" fill="#c6c6c6" stroke="#262626" stroke-width="0.95"/>
<line x1="418.2" y1="411.2" x2="430.6" y2="411.2" stroke="#444" stroke-width="0.8"/>
<line x1="442.29999999999995" y1="410.2" x2="442.29999999999995" y2="414" stroke="#262626" stroke-width="0.95"/>
<line x1="442.29999999999995" y1="415.3" x2="442.29999999999995" y2="415.5" stroke="#262626" stroke-width="0.95"/>
<line x1="439.24999999999994" y1="410.2" x2="445.34999999999997" y2="410.2" stroke="#262626" stroke-width="0.95"/>
<line x1="439.24999999999994" y1="415.5" x2="445.34999999999997" y2="415.5" stroke="#262626" stroke-width="0.95"/>
<rect x="436.2" y="414" width="12.199999999999989" height="1.3000000000000114" fill="#0d0d0d" stroke="#262626" stroke-width="0.95"/>
<line x1="460.15" y1="407.2" x2="460.15" y2="414" stroke="#262626" stroke-width="0.95"/>
<line x1="460.15" y1="415.3" x2="460.15" y2="415.5" stroke="#262626" stroke-width="0.95"/>
<line x1="457.09999999999997" y1="407.2" x2="463.2" y2="407.2" stroke="#262626" stroke-width="0.95"/>
<line x1="457.09999999999997" y1="415.5" x2="463.2" y2="415.5" stroke="#262626" stroke-width="0.95"/>
<rect x="453.8" y="414" width="12.699999999999989" height="1.3000000000000114" fill="#0d0d0d" stroke="#262626" stroke-width="0.95"/>
<line x1="474.6" y1="415.1" x2="481.2" y2="415.1" stroke="#111" stroke-width="1.0"/>
<text x="363.1" y="426.8" font-size="6.5" text-anchor="middle" font-weight="normal" fill="#222">N</text>
<text x="401.5" y="426.8" font-size="6.5" text-anchor="middle" font-weight="normal" fill="#222">CM</text>
<text x="437.2" y="426.8" font-size="6.5" text-anchor="middle" font-weight="normal" fill="#222">EM</text>
<text x="473" y="426.8" font-size="6.5" text-anchor="middle" font-weight="normal" fill="#222">E</text>
<text x="507.7" y="426.8" font-size="6.5" text-anchor="middle" font-weight="normal" fill="#222">TE</text>
<rect x="484.1" y="323.05" width="14.2" height="3.9" fill="#0a0a0a" stroke="#000" stroke-width="0.5"/>
<rect x="484.1" y="333.15000000000003" width="14.2" height="3.9" fill="#ababab" stroke="#444" stroke-width="0.6"/>
<text x="505.2" y="327.1" font-size="6.1" text-anchor="start" font-weight="normal" fill="#484848">HC</text>
<text x="505.2" y="337.20000000000005" font-size="6.1" text-anchor="start" font-weight="normal" fill="#484848">HIV</text>
</svg></body></html>
